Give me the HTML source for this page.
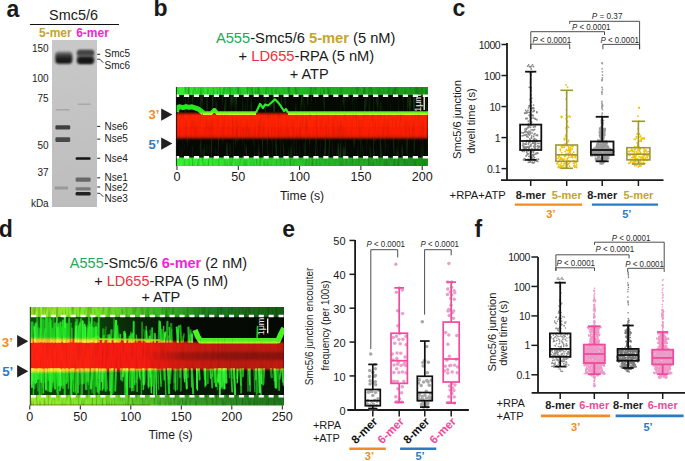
<!DOCTYPE html>
<html><head><meta charset="utf-8"><style>
html,body{margin:0;padding:0;background:#fff;overflow:hidden;width:685px;height:461px;}
svg{display:block;font-family:"Liberation Sans", sans-serif;}
</style></head><body>
<svg width="685" height="461" viewBox="0 0 685 461">
<defs><filter id="gblur" x="-20%" y="-50%" width="140%" height="200%"><feGaussianBlur stdDeviation="0.9 0.7"/></filter>
<filter id="gblur2" x="-20%" y="-50%" width="140%" height="200%"><feGaussianBlur stdDeviation="1.2 1.0"/></filter>
<linearGradient id="gelg" x1="0" y1="0" x2="0" y2="1"><stop offset="0" stop-color="#c9c9c9"/><stop offset="0.5" stop-color="#c3c3c3"/><stop offset="1" stop-color="#bdbdbd"/></linearGradient>
<filter id="gnoise" x="0" y="0" width="100%" height="100%"><feTurbulence type="fractalNoise" baseFrequency="0.35 0.9" numOctaves="2" seed="3"/><feColorMatrix type="matrix" values="0 0 0 0 0.5  0 0 0 0 0.5  0 0 0 0 0.5  0 0 0 -0.9 0.55"/></filter><linearGradient id="blob1" x1="0" y1="0" x2="0" y2="1"><stop offset="0" stop-color="#8a8a8a"/><stop offset="0.25" stop-color="#4a4a4a"/><stop offset="0.55" stop-color="#1e1e1e"/><stop offset="1" stop-color="#151515"/></linearGradient>
<linearGradient id="blob2" x1="0" y1="0" x2="0" y2="1"><stop offset="0" stop-color="#6a6a6a"/><stop offset="0.3" stop-color="#3a3a3a"/><stop offset="0.7" stop-color="#444"/><stop offset="1" stop-color="#505050"/></linearGradient>
<filter id="bb" x="-20%" y="-60%" width="140%" height="220%"><feGaussianBlur stdDeviation="0.7 0.55"/></filter><filter id="bb2" x="-20%" y="-40%" width="140%" height="180%"><feGaussianBlur stdDeviation="1.0 0.8"/></filter><filter id="streakG" x="0" y="0" width="100%" height="100%"><feTurbulence type="fractalNoise" baseFrequency="0.45 0.035" numOctaves="2" seed="5"/><feColorMatrix type="matrix" values="0 0 0 0 0.1  0 0 0 0 0.9  0 0 0 0 0.1  0 2.2 0 0 -1.15"/></filter>
<filter id="streakR" x="0" y="0" width="100%" height="100%"><feTurbulence type="fractalNoise" baseFrequency="0.5 0.04" numOctaves="2" seed="9"/><feColorMatrix type="matrix" values="0 0 0 0 1  0 0 0 0 0.55  0 0 0 0 0  0 1.8 0 0 -0.95"/></filter>
<filter id="streakD" x="0" y="0" width="100%" height="100%"><feTurbulence type="fractalNoise" baseFrequency="0.5 0.05" numOctaves="2" seed="11"/><feColorMatrix type="matrix" values="0 0 0 0 0  0 0 0 0 0  0 0 0 0 0  0 1.6 0 0 -0.7"/></filter>
<filter id="soft" x="-5%" y="-50%" width="110%" height="200%"><feGaussianBlur stdDeviation="0.5"/></filter>
<filter id="soft1" x="-5%" y="-50%" width="110%" height="200%"><feGaussianBlur stdDeviation="0.9"/></filter>
<linearGradient id="gtopB" x1="0" y1="0" x2="1" y2="0"><stop offset="0" stop-color="#36f030"/><stop offset="0.2" stop-color="#2ada2a"/><stop offset="0.45" stop-color="#22be22"/><stop offset="0.75" stop-color="#1ea81e"/><stop offset="1" stop-color="#1a961a"/></linearGradient>
<linearGradient id="gbotB" x1="0" y1="0" x2="1" y2="0"><stop offset="0" stop-color="#38f430"/><stop offset="0.3" stop-color="#2ee02a"/><stop offset="0.6" stop-color="#24b824"/><stop offset="1" stop-color="#1c921c"/></linearGradient>
<clipPath id="clipB"><rect x="176" y="87" width="252" height="79"/></clipPath>
<clipPath id="clipD"><rect x="30" y="307" width="254" height="98.5"/></clipPath><linearGradient id="redB" x1="0" y1="0" x2="0" y2="1"><stop offset="0" stop-color="#ff1c06"/><stop offset="0.85" stop-color="#fa1806"/><stop offset="1" stop-color="#a01006"/></linearGradient><linearGradient id="gtopD" x1="0" y1="0" x2="1" y2="0"><stop offset="0" stop-color="#9cf030"/><stop offset="0.25" stop-color="#78e82c"/><stop offset="0.5" stop-color="#3cb826"/><stop offset="0.7" stop-color="#1f801b"/><stop offset="1" stop-color="#165e16"/></linearGradient>
<linearGradient id="gbotD" x1="0" y1="0" x2="1" y2="0"><stop offset="0" stop-color="#9cf030"/><stop offset="0.3" stop-color="#74e42c"/><stop offset="0.6" stop-color="#3aa426"/><stop offset="1" stop-color="#1e761c"/></linearGradient>
<linearGradient id="redD" x1="0" y1="0" x2="1" y2="0"><stop offset="0" stop-color="#ff1c0c"/><stop offset="0.45" stop-color="#f4180c"/><stop offset="0.6" stop-color="#d0160e"/><stop offset="0.8" stop-color="#b8120c"/><stop offset="1" stop-color="#c0140c"/></linearGradient>
<filter id="spikeG" x="0" y="0" width="100%" height="100%"><feTurbulence type="fractalNoise" baseFrequency="0.28 0.03" numOctaves="3" seed="21"/><feColorMatrix type="matrix" values="0 0 0 0 0.12  0 0 0 0 0.85  0 0 0 0 0.08  0 3.2 0 0 -1.25"/></filter><linearGradient id="glowU" x1="0" y1="0" x2="1" y2="0"><stop offset="0" stop-color="#1ed01e" stop-opacity="0.35"/><stop offset="0.25" stop-color="#1ed01e" stop-opacity="0.3"/><stop offset="0.45" stop-color="#1ab81a" stop-opacity="0.15"/><stop offset="0.62" stop-color="#18a018" stop-opacity="0.03"/><stop offset="1" stop-color="#18a018" stop-opacity="0.02"/></linearGradient>
<linearGradient id="glowL" x1="0" y1="0" x2="1" y2="0"><stop offset="0" stop-color="#1ed01e" stop-opacity="0.32"/><stop offset="0.3" stop-color="#1ec81e" stop-opacity="0.25"/><stop offset="0.6" stop-color="#18a818" stop-opacity="0.12"/><stop offset="1" stop-color="#18a018" stop-opacity="0.08"/></linearGradient><linearGradient id="dstripe" x1="0" y1="0" x2="1" y2="0"><stop offset="0" stop-color="#000" stop-opacity="0"/><stop offset="0.45" stop-color="#000" stop-opacity="0"/><stop offset="0.6" stop-color="#000" stop-opacity="0.2"/><stop offset="1" stop-color="#000" stop-opacity="0.28"/></linearGradient></defs>
<rect width="685" height="461" fill="#fff"/>
<text x="6.6" y="16.6" font-size="23" fill="#1a1a1a" font-weight="700" text-anchor="start"  style="">a</text>
<text x="153.5" y="16.3" font-size="23" fill="#1a1a1a" font-weight="700" text-anchor="start"  style="">b</text>
<text x="452.5" y="16.3" font-size="23" fill="#1a1a1a" font-weight="700" text-anchor="start"  style="">c</text>
<text x="-1.2" y="236.5" font-size="23" fill="#1a1a1a" font-weight="700" text-anchor="start"  style="">d</text>
<text x="282.3" y="236.5" font-size="23" fill="#1a1a1a" font-weight="700" text-anchor="start"  style="">e</text>
<text x="474.6" y="236.5" font-size="23" fill="#1a1a1a" font-weight="700" text-anchor="start"  style="">f</text>
<text x="73.5" y="19.6" font-size="14.4" fill="#1a1a1a" font-weight="400" text-anchor="middle"  style="">Smc5/6</text>
<line x1="30" y1="24.5" x2="119" y2="24.5" stroke="#111" stroke-width="1.1" />
<text x="39" y="37" font-size="12" fill="#c4a52a" font-weight="700" text-anchor="start"  style="">5-mer</text>
<text x="76.2" y="37" font-size="12" fill="#f41fd6" font-weight="700" text-anchor="start"  style="">6-mer</text>
<rect x="52" y="40" width="45" height="167" fill="url(#gelg)" />
<rect x="52" y="40" width="45" height="167" fill="#000" filter="url(#gnoise)" opacity="0.35"/>
<rect x="55.3" y="51.5" width="17.0" height="12.2" rx="3.5" fill="url(#blob1)" filter="url(#bb2)"/>
<rect x="77.4" y="50.0" width="16.4" height="13.6" rx="3" fill="#6a6a6a" filter="url(#bb2)"/>
<rect x="77.2" y="50.0" width="16.6" height="5.4" rx="2" fill="url(#blob2)" filter="url(#bb2)"/>
<rect x="77.2" y="56.9" width="16.6" height="7.0" rx="3" fill="#161616" filter="url(#bb2)"/>
<rect x="55.5" y="109.0" width="14.5" height="1.6" rx="1.2" fill="#a6a6a6" filter="url(#bb)"/>
<rect x="77.5" y="103.55" width="13.5" height="1.5" rx="1.2" fill="#a8a8a8" filter="url(#bb)"/>
<rect x="55.4" y="125.2" width="14.8" height="4.2" rx="1.2" fill="#404040" filter="url(#bb)"/>
<rect x="55.4" y="137.2" width="14.8" height="4.8" rx="1.2" fill="#4a4a4a" filter="url(#bb)"/>
<rect x="75.6" y="157.15" width="15" height="2.7" rx="1.2" fill="#141414" filter="url(#bb)"/>
<rect x="75.6" y="177.4" width="15" height="4.4" rx="1.2" fill="#676767" filter="url(#bb)"/>
<rect x="75.6" y="187.15" width="15" height="3.3" rx="1.2" fill="#7a7a7a" filter="url(#bb)"/>
<rect x="75.6" y="192.10000000000002" width="15" height="3.4" rx="1.2" fill="#222" filter="url(#bb)"/>
<rect x="54.6" y="186.6" width="13.6" height="3.0" rx="1.2" fill="#9a9a9a" filter="url(#bb)"/>
<text x="48.7" y="51.6" font-size="10" fill="#1a1a1a" font-weight="400" text-anchor="end"  style="">150</text>
<text x="48.7" y="81.9" font-size="10" fill="#1a1a1a" font-weight="400" text-anchor="end"  style="">100</text>
<text x="48.7" y="101.9" font-size="10" fill="#1a1a1a" font-weight="400" text-anchor="end"  style="">75</text>
<text x="48.7" y="149.4" font-size="10" fill="#1a1a1a" font-weight="400" text-anchor="end"  style="">50</text>
<text x="48.7" y="175.8" font-size="10" fill="#1a1a1a" font-weight="400" text-anchor="end"  style="">37</text>
<text x="48.7" y="207.4" font-size="10" fill="#1a1a1a" font-weight="400" text-anchor="end"  style="">kDa</text>
<text x="104.5" y="56.6" font-size="10" fill="#1a1a1a" font-weight="400" text-anchor="start"  style="">Smc5</text>
<text x="104.5" y="68.6" font-size="10" fill="#1a1a1a" font-weight="400" text-anchor="start"  style="">Smc6</text>
<text x="104.5" y="129.8" font-size="10" fill="#1a1a1a" font-weight="400" text-anchor="start"  style="">Nse6</text>
<text x="104.5" y="142.4" font-size="10" fill="#1a1a1a" font-weight="400" text-anchor="start"  style="">Nse5</text>
<text x="104.5" y="162" font-size="10" fill="#1a1a1a" font-weight="400" text-anchor="start"  style="">Nse4</text>
<text x="104.5" y="181" font-size="10" fill="#1a1a1a" font-weight="400" text-anchor="start"  style="">Nse1</text>
<text x="104.5" y="190.6" font-size="10" fill="#1a1a1a" font-weight="400" text-anchor="start"  style="">Nse2</text>
<text x="104.5" y="201.9" font-size="10" fill="#1a1a1a" font-weight="400" text-anchor="start"  style="">Nse3</text>
<line x1="97.2" y1="54.3" x2="100.2" y2="54.3" stroke="#333" stroke-width="1.1" />
<line x1="97.2" y1="126.4" x2="100.2" y2="126.4" stroke="#333" stroke-width="1.1" />
<line x1="97.2" y1="139.1" x2="100.2" y2="139.1" stroke="#333" stroke-width="1.1" />
<line x1="97.2" y1="158.3" x2="100.2" y2="158.3" stroke="#333" stroke-width="1.1" />
<line x1="97.2" y1="177.8" x2="100.2" y2="177.8" stroke="#333" stroke-width="1.1" />
<line x1="97.2" y1="187" x2="100.2" y2="187" stroke="#333" stroke-width="1.1" />
<path d="M97.2 59.2 L100 59.3 L103.3 62.8" stroke="#333" stroke-width="1.0" fill="none" />
<path d="M97.2 193.2 L100 193.4 L103.3 196.8" stroke="#333" stroke-width="1.0" fill="none" />
<text x="305.7" y="43.3" font-size="14.7" fill="#1a1a1a" font-weight="400" text-anchor="middle"  style=""><tspan fill="#21a956">A555</tspan>-Smc5/6 <tspan fill="#c4a52a" font-weight="700">5-mer</tspan> (5 nM)</text>
<text x="306.4" y="61.3" font-size="14.7" fill="#1a1a1a" font-weight="400" text-anchor="middle"  style="">+ <tspan fill="#e8323c">LD655</tspan>-RPA (5 nM)</text>
<text x="309.2" y="78.8" font-size="14.5" fill="#1a1a1a" font-weight="400" text-anchor="middle"  style="">+ ATP</text>
<g clip-path="url(#clipB)">
<rect x="176" y="87" width="252" height="79" fill="#060803" />
<rect x="176" y="87" width="252" height="25" fill="#000" filter="url(#streakG)" opacity="0.3"/>
<rect x="176" y="139" width="252" height="27" fill="#000" filter="url(#streakG)" opacity="0.3"/>
<rect x="176" y="86" width="252" height="9" fill="url(#gtopB)" />
<rect x="176" y="86" width="252" height="9" fill="#000" filter="url(#streakD)" opacity="0.45"/>
<rect x="176" y="157.5" width="252" height="9" fill="url(#gbotB)" />
<rect x="176" y="157.5" width="252" height="9" fill="#000" filter="url(#streakD)" opacity="0.4"/>
<path d="M203 113.2 L211 113.2 L214.4 109.8 L217.5 113.2 L256 113.2 M288 113.2 L428 113.2" stroke="#38f020" stroke-width="3.8" fill="none" filter="url(#soft)"/>
<path d="M176.5 112 L177.5 107.4 L180 106.8 L183 107.6 L186 106.6 L189 107.4 L192 106.8 L195 107.8 L198 108.8 L201 111 L203.5 113" stroke="#26e622" stroke-width="5.0" fill="none" filter="url(#soft)" stroke-linejoin="round"/>
<path d="M256 112.6 L260 104 L263 108 L265 104.5 L268 105.5 L271 103 L275 99.3 L279 103.5 L284 111 L286 109 L288 112.6" stroke="#2bea2b" stroke-width="2.2" fill="none" filter="url(#soft)" stroke-linejoin="round"/>
<g style="mix-blend-mode:screen">
<rect x="176" y="113.4" width="252" height="25.4" fill="url(#redB)" filter="url(#soft1)"/>
</g>
<rect x="176" y="114" width="252" height="25" fill="#000" filter="url(#streakD)" opacity="0.18"/>
<line x1="176" y1="95.7" x2="428" y2="95.7" stroke="#fff" stroke-width="2.6" stroke-dasharray="5.2 4.75" stroke-dashoffset="2"/>
<line x1="176" y1="157.2" x2="428" y2="157.2" stroke="#fff" stroke-width="2.6" stroke-dasharray="5.2 4.75" stroke-dashoffset="2"/>
</g>
<line x1="176.4" y1="87" x2="176.4" y2="166" stroke="#111" stroke-width="0.8" />
<line x1="424.2" y1="95" x2="424.2" y2="110" stroke="#fff" stroke-width="1.3" />
<text x="0" y="0" font-size="9" fill="#f0f0f0" font-weight="400" text-anchor="middle" transform="translate(421.2 103) rotate(-90)" style="">1μm</text>
<path d="M161.2 108.39999999999999 L172.39999999999998 114.6 L161.2 120.8 Z" stroke="none" stroke-width="0" fill="#231f20" />
<path d="M161.2 137.4 L172.39999999999998 143.6 L161.2 149.79999999999998 Z" stroke="none" stroke-width="0" fill="#231f20" />
<text x="148.6" y="119.3" font-size="13" fill="#f08c23" font-weight="700" text-anchor="start"  style="">3’</text>
<text x="148.6" y="148.6" font-size="13" fill="#2b7bc4" font-weight="700" text-anchor="start"  style="">5’</text>
<line x1="177.0" y1="166" x2="177.0" y2="170" stroke="#1a1a1a" stroke-width="1" />
<text x="177.0" y="181.3" font-size="12.6" fill="#1a1a1a" font-weight="400" text-anchor="middle"  style="">0</text>
<line x1="238.3" y1="166" x2="238.3" y2="170" stroke="#1a1a1a" stroke-width="1" />
<text x="238.3" y="181.3" font-size="12.6" fill="#1a1a1a" font-weight="400" text-anchor="middle"  style="">50</text>
<line x1="299.6" y1="166" x2="299.6" y2="170" stroke="#1a1a1a" stroke-width="1" />
<text x="299.6" y="181.3" font-size="12.6" fill="#1a1a1a" font-weight="400" text-anchor="middle"  style="">100</text>
<line x1="360.9" y1="166" x2="360.9" y2="170" stroke="#1a1a1a" stroke-width="1" />
<text x="360.9" y="181.3" font-size="12.6" fill="#1a1a1a" font-weight="400" text-anchor="middle"  style="">150</text>
<line x1="422.2" y1="166" x2="422.2" y2="170" stroke="#1a1a1a" stroke-width="1" />
<text x="422.2" y="181.3" font-size="12.6" fill="#1a1a1a" font-weight="400" text-anchor="middle"  style="">200</text>
<text x="302" y="200.3" font-size="12.2" fill="#1a1a1a" font-weight="400" text-anchor="middle"  style="">Time (s)</text>
<text x="158.5" y="268" font-size="14.5" fill="#1a1a1a" font-weight="400" text-anchor="middle"  style=""><tspan fill="#21a956">A555</tspan>-Smc5/6 <tspan fill="#f41fd6" font-weight="700">6-mer</tspan> (2 nM)</text>
<text x="161.2" y="285.5" font-size="14.5" fill="#1a1a1a" font-weight="400" text-anchor="middle"  style="">+ <tspan fill="#e8323c">LD655</tspan>-RPA (5 nM)</text>
<text x="160.8" y="302.4" font-size="14.5" fill="#1a1a1a" font-weight="400" text-anchor="middle"  style="">+ ATP</text>
<g clip-path="url(#clipD)">
<rect x="30" y="307" width="254" height="98.5" fill="#050604" />
<rect x="30" y="317" width="254" height="23" fill="url(#glowU)" />
<rect x="30" y="371" width="254" height="25" fill="url(#glowL)" />
<g filter="url(#soft)" stroke-linecap="round"><path d="M30.0 341.8 L30.0 322.8" stroke="#22e822" stroke-width="2.5" opacity="0.66"/><path d="M31.0 341.8 L30.0 322.2" stroke="#3cfa3c" stroke-width="2.1" opacity="0.84"/><path d="M32.0 341.8 L32.2 322.5" stroke="#20d820" stroke-width="2.4" opacity="0.75"/><path d="M34.0 341.8 L34.1 323.6" stroke="#2cf42c" stroke-width="1.4" opacity="0.41"/><path d="M35.0 341.8 L34.6 327.3" stroke="#22e822" stroke-width="2.0" opacity="0.83"/><path d="M36.0 341.8 L35.9 324.0" stroke="#3cfa3c" stroke-width="1.9" opacity="0.76"/><path d="M37.0 341.8 L36.4 322.7" stroke="#22e822" stroke-width="2.5" opacity="0.45"/><path d="M38.0 341.8 L37.1 315.4" stroke="#3cfa3c" stroke-width="2.0" opacity="0.46"/><path d="M39.0 341.8 L38.3 328.4" stroke="#2cf42c" stroke-width="2.4" opacity="0.40"/><path d="M40.0 341.8 L40.3 328.7" stroke="#3cfa3c" stroke-width="1.8" opacity="0.44"/><path d="M41.0 341.8 L42.0 319.4" stroke="#22e822" stroke-width="1.2" opacity="0.63"/><path d="M42.0 341.8 L41.2 316.4" stroke="#22e822" stroke-width="1.3" opacity="0.84"/><path d="M43.0 341.8 L43.3 317.7" stroke="#2cf42c" stroke-width="2.2" opacity="0.47"/><path d="M44.0 341.8 L45.1 328.9" stroke="#3cfa3c" stroke-width="1.2" opacity="0.88"/><path d="M46.0 341.8 L46.2 317.6" stroke="#2cf42c" stroke-width="2.6" opacity="0.73"/><path d="M48.0 341.8 L47.5 318.6" stroke="#2cf42c" stroke-width="2.3" opacity="0.58"/><path d="M49.0 341.8 L48.7 317.9" stroke="#20d820" stroke-width="2.1" opacity="0.41"/><path d="M50.0 341.8 L49.7 323.2" stroke="#22e822" stroke-width="2.4" opacity="0.47"/><path d="M51.0 341.8 L50.2 318.2" stroke="#22e822" stroke-width="2.1" opacity="0.80"/><path d="M52.0 341.8 L50.9 320.4" stroke="#2cf42c" stroke-width="1.9" opacity="0.44"/><path d="M53.0 341.8 L52.4 328.5" stroke="#20d820" stroke-width="1.5" opacity="0.79"/><path d="M54.0 341.8 L53.3 317.5" stroke="#2cf42c" stroke-width="2.2" opacity="0.44"/><path d="M55.0 341.8 L54.4 327.8" stroke="#20d820" stroke-width="1.5" opacity="0.41"/><path d="M56.0 341.8 L57.1 315.7" stroke="#2cf42c" stroke-width="1.6" opacity="0.69"/><path d="M57.0 341.8 L57.5 327.5" stroke="#22e822" stroke-width="2.6" opacity="0.76"/><path d="M58.0 341.8 L57.5 327.9" stroke="#2cf42c" stroke-width="1.9" opacity="0.60"/><path d="M59.0 341.8 L58.6 323.9" stroke="#2cf42c" stroke-width="1.9" opacity="0.80"/><path d="M60.0 341.8 L60.6 322.6" stroke="#22e822" stroke-width="2.2" opacity="0.90"/><path d="M61.0 341.8 L62.0 327.8" stroke="#20d820" stroke-width="1.7" opacity="0.78"/><path d="M63.0 341.8 L62.7 322.0" stroke="#2cf42c" stroke-width="1.2" opacity="0.76"/><path d="M64.0 341.8 L64.9 316.1" stroke="#3cfa3c" stroke-width="2.1" opacity="0.95"/><path d="M65.0 341.8 L65.8 325.3" stroke="#2cf42c" stroke-width="2.0" opacity="0.64"/><path d="M66.0 341.8 L64.9 322.2" stroke="#2cf42c" stroke-width="1.6" opacity="0.45"/><path d="M67.0 341.8 L65.8 323.6" stroke="#3cfa3c" stroke-width="2.5" opacity="0.54"/><path d="M68.0 341.8 L67.6 323.6" stroke="#20d820" stroke-width="1.9" opacity="0.81"/><path d="M69.0 341.8 L69.3 318.4" stroke="#22e822" stroke-width="1.8" opacity="0.54"/><path d="M71.0 341.8 L71.0 323.2" stroke="#2cf42c" stroke-width="1.6" opacity="0.47"/><path d="M72.0 341.8 L71.9 328.3" stroke="#3cfa3c" stroke-width="1.6" opacity="0.49"/><path d="M75.0 341.8 L75.8 322.3" stroke="#20d820" stroke-width="2.1" opacity="0.79"/><path d="M76.0 341.8 L76.4 326.6" stroke="#3cfa3c" stroke-width="1.6" opacity="0.73"/><path d="M77.0 341.8 L76.1 319.3" stroke="#20d820" stroke-width="2.3" opacity="0.41"/><path d="M78.0 341.8 L78.7 325.8" stroke="#2cf42c" stroke-width="1.6" opacity="0.83"/><path d="M79.0 341.8 L80.1 323.8" stroke="#22e822" stroke-width="2.1" opacity="0.84"/><path d="M80.0 341.8 L79.9 321.7" stroke="#2cf42c" stroke-width="1.5" opacity="0.41"/><path d="M81.0 341.8 L81.0 318.8" stroke="#22e822" stroke-width="1.7" opacity="0.78"/><path d="M82.0 341.8 L83.0 326.1" stroke="#20d820" stroke-width="2.5" opacity="0.45"/><path d="M83.0 341.8 L82.7 321.3" stroke="#3cfa3c" stroke-width="2.1" opacity="0.90"/><path d="M84.0 341.8 L84.8 324.1" stroke="#2cf42c" stroke-width="1.5" opacity="0.80"/><path d="M85.0 341.8 L85.1 327.6" stroke="#3cfa3c" stroke-width="2.6" opacity="0.94"/><path d="M86.0 341.8 L84.9 325.1" stroke="#3cfa3c" stroke-width="1.2" opacity="0.68"/><path d="M87.0 341.8 L87.7 325.8" stroke="#2cf42c" stroke-width="1.9" opacity="0.42"/><path d="M88.0 341.8 L89.0 315.5" stroke="#20d820" stroke-width="1.9" opacity="0.78"/><path d="M89.0 341.8 L89.5 322.2" stroke="#20d820" stroke-width="2.2" opacity="0.86"/><path d="M90.0 341.8 L90.1 324.6" stroke="#22e822" stroke-width="2.3" opacity="0.64"/><path d="M91.0 341.8 L90.7 326.8" stroke="#22e822" stroke-width="2.0" opacity="0.57"/><path d="M92.0 341.8 L92.0 317.0" stroke="#20d820" stroke-width="2.0" opacity="0.55"/><path d="M93.0 341.8 L94.1 322.0" stroke="#20d820" stroke-width="2.0" opacity="0.42"/><path d="M94.0 341.8 L93.2 328.9" stroke="#20d820" stroke-width="1.4" opacity="0.45"/><path d="M95.0 341.8 L94.9 328.4" stroke="#22e822" stroke-width="2.5" opacity="0.55"/><path d="M96.0 341.8 L96.1 327.6" stroke="#2cf42c" stroke-width="2.5" opacity="0.91"/><path d="M97.0 341.8 L97.7 323.7" stroke="#2cf42c" stroke-width="2.5" opacity="0.47"/><path d="M98.0 341.8 L98.5 317.2" stroke="#22e822" stroke-width="1.2" opacity="0.56"/><path d="M99.0 341.8 L99.0 316.5" stroke="#3cfa3c" stroke-width="2.2" opacity="0.47"/><path d="M103.0 341.8 L103.9 335.9" stroke="#22e822" stroke-width="2.1" opacity="0.70"/><path d="M108.0 341.8 L107.6 335.7" stroke="#22e822" stroke-width="2.5" opacity="0.57"/><path d="M109.0 341.8 L109.5 336.7" stroke="#3cfa3c" stroke-width="1.4" opacity="0.53"/><path d="M110.0 341.8 L109.3 334.9" stroke="#2cf42c" stroke-width="2.0" opacity="0.79"/><path d="M111.0 341.8 L111.5 330.3" stroke="#3cfa3c" stroke-width="2.3" opacity="0.60"/><path d="M114.0 341.8 L114.0 319.0" stroke="#20d820" stroke-width="1.3" opacity="0.70"/><path d="M115.0 341.8 L116.0 320.9" stroke="#2cf42c" stroke-width="2.4" opacity="0.94"/><path d="M117.0 341.8 L116.8 326.9" stroke="#3cfa3c" stroke-width="1.3" opacity="0.61"/><path d="M118.0 341.8 L117.2 326.2" stroke="#20d820" stroke-width="2.2" opacity="0.86"/><path d="M119.0 341.8 L119.7 334.5" stroke="#3cfa3c" stroke-width="2.0" opacity="0.45"/><path d="M125.0 341.8 L124.4 332.1" stroke="#2cf42c" stroke-width="2.6" opacity="0.84"/><path d="M129.0 341.8 L129.6 336.6" stroke="#20d820" stroke-width="2.2" opacity="0.82"/><path d="M130.0 341.8 L130.9 332.1" stroke="#2cf42c" stroke-width="1.6" opacity="0.46"/><path d="M131.0 341.8 L131.2 334.0" stroke="#2cf42c" stroke-width="1.7" opacity="0.76"/><path d="M132.0 341.8 L133.2 333.7" stroke="#2cf42c" stroke-width="2.2" opacity="0.82"/><path d="M133.0 341.8 L133.6 321.5" stroke="#20d820" stroke-width="1.8" opacity="0.68"/><path d="M134.0 341.8 L133.8 322.2" stroke="#2cf42c" stroke-width="1.7" opacity="0.70"/><path d="M137.0 341.8 L136.2 335.1" stroke="#20d820" stroke-width="1.3" opacity="0.91"/><path d="M142.0 341.8 L142.1 322.4" stroke="#20d820" stroke-width="1.8" opacity="0.57"/><path d="M145.0 341.8 L143.9 329.6" stroke="#22e822" stroke-width="1.2" opacity="0.53"/><path d="M146.0 341.8 L146.2 326.6" stroke="#3cfa3c" stroke-width="1.6" opacity="0.62"/><path d="M147.0 341.8 L146.4 331.2" stroke="#2cf42c" stroke-width="1.9" opacity="0.94"/><path d="M150.0 341.8 L150.3 335.8" stroke="#20d820" stroke-width="2.0" opacity="0.46"/><path d="M151.0 341.8 L150.1 330.3" stroke="#20d820" stroke-width="1.4" opacity="0.60"/><path d="M152.0 341.8 L152.1 328.1" stroke="#22e822" stroke-width="1.8" opacity="0.83"/><path d="M155.0 341.8 L154.7 334.0" stroke="#3cfa3c" stroke-width="2.3" opacity="0.74"/><path d="M159.0 341.8 L159.4 321.5" stroke="#22e822" stroke-width="2.5" opacity="0.68"/><path d="M161.0 341.8 L160.0 322.1" stroke="#3cfa3c" stroke-width="1.8" opacity="0.74"/><path d="M162.0 341.8 L161.7 329.8" stroke="#20d820" stroke-width="2.0" opacity="0.75"/><path d="M163.0 341.8 L163.7 326.4" stroke="#20d820" stroke-width="1.4" opacity="0.88"/><path d="M167.0 341.8 L167.4 321.9" stroke="#3cfa3c" stroke-width="2.3" opacity="0.60"/><path d="M168.0 341.8 L168.2 335.9" stroke="#20d820" stroke-width="1.5" opacity="0.76"/><path d="M170.0 341.8 L169.5 327.7" stroke="#2cf42c" stroke-width="1.9" opacity="0.78"/><path d="M171.0 341.8 L171.5 329.6" stroke="#3cfa3c" stroke-width="1.3" opacity="0.57"/><path d="M172.0 341.8 L171.1 323.8" stroke="#20d820" stroke-width="2.2" opacity="0.60"/><path d="M177.0 341.8 L178.0 329.7" stroke="#22e822" stroke-width="1.6" opacity="0.62"/><path d="M178.0 341.8 L178.7 326.3" stroke="#3cfa3c" stroke-width="2.1" opacity="0.72"/><path d="M183.0 341.8 L183.0 336.6" stroke="#22e822" stroke-width="1.6" opacity="0.41"/><path d="M188.0 341.8 L188.6 335.5" stroke="#3cfa3c" stroke-width="1.3" opacity="0.44"/><path d="M189.0 341.8 L188.4 327.7" stroke="#22e822" stroke-width="2.2" opacity="0.76"/><path d="M190.0 341.8 L190.7 330.1" stroke="#3cfa3c" stroke-width="1.8" opacity="0.59"/><path d="M192.0 341.8 L191.8 334.7" stroke="#3cfa3c" stroke-width="2.2" opacity="0.90"/><path d="M257.0 341.8 L257.5 326.5" stroke="#22e822" stroke-width="1.7" opacity="0.84"/></g>
<g filter="url(#soft)" stroke-linecap="round"><path d="M30.0 341.8 L29.9 317.7" stroke="#2cf42c" stroke-width="2.2" opacity="0.83"/><path d="M35.1 341.8 L34.1 326.6" stroke="#3cfa3c" stroke-width="1.6" opacity="0.57"/><path d="M40.2 341.8 L40.6 316.0" stroke="#2cf42c" stroke-width="1.4" opacity="0.77"/><path d="M43.6 341.8 L43.8 320.3" stroke="#20d820" stroke-width="2.2" opacity="0.53"/><path d="M53.8 341.8 L54.9 323.8" stroke="#20d820" stroke-width="2.5" opacity="0.81"/><path d="M57.2 341.8 L56.7 317.6" stroke="#3cfa3c" stroke-width="1.7" opacity="0.46"/><path d="M62.3 341.8 L61.3 326.6" stroke="#22e822" stroke-width="1.3" opacity="0.48"/><path d="M64.0 341.8 L63.0 320.6" stroke="#22e822" stroke-width="2.4" opacity="0.73"/><path d="M65.7 341.8 L65.3 328.8" stroke="#20d820" stroke-width="1.8" opacity="0.82"/><path d="M69.1 341.8 L69.1 317.9" stroke="#20d820" stroke-width="1.4" opacity="0.78"/><path d="M75.9 341.8 L76.0 326.0" stroke="#3cfa3c" stroke-width="1.5" opacity="0.94"/><path d="M77.6 341.8 L77.3 319.8" stroke="#3cfa3c" stroke-width="2.1" opacity="0.46"/><path d="M84.4 341.8 L84.0 325.7" stroke="#22e822" stroke-width="2.5" opacity="0.70"/><path d="M87.8 341.8 L88.8 328.1" stroke="#2cf42c" stroke-width="2.6" opacity="0.79"/><path d="M91.2 341.8 L91.7 316.2" stroke="#3cfa3c" stroke-width="1.5" opacity="0.72"/><path d="M92.9 341.8 L92.8 327.2" stroke="#22e822" stroke-width="1.6" opacity="0.89"/><path d="M94.6 341.8 L95.6 323.0" stroke="#22e822" stroke-width="2.0" opacity="0.43"/><path d="M103.1 341.8 L103.3 329.5" stroke="#22e822" stroke-width="2.5" opacity="0.53"/><path d="M104.8 341.8 L106.0 326.9" stroke="#22e822" stroke-width="1.2" opacity="0.50"/><path d="M116.7 341.8 L116.9 325.9" stroke="#22e822" stroke-width="1.4" opacity="0.61"/><path d="M120.1 341.8 L120.6 334.7" stroke="#22e822" stroke-width="1.3" opacity="0.83"/><path d="M125.2 341.8 L125.0 334.0" stroke="#3cfa3c" stroke-width="2.5" opacity="0.71"/><path d="M149.0 341.8 L149.6 336.8" stroke="#3cfa3c" stroke-width="2.2" opacity="0.73"/><path d="M164.3 341.8 L165.2 332.5" stroke="#3cfa3c" stroke-width="2.1" opacity="0.92"/><path d="M177.9 341.8 L176.7 327.5" stroke="#22e822" stroke-width="2.0" opacity="0.92"/><path d="M181.3 341.8 L180.4 325.4" stroke="#22e822" stroke-width="1.8" opacity="0.69"/><path d="M183.0 341.8 L184.0 334.1" stroke="#20d820" stroke-width="1.6" opacity="0.67"/><path d="M191.5 341.8 L191.8 333.3" stroke="#22e822" stroke-width="2.5" opacity="0.41"/></g>
<g filter="url(#soft)" stroke-linecap="round"><path d="M32.0 369.2 L31.5 383.8" stroke="#20d820" stroke-width="2.3" opacity="0.93"/><path d="M33.0 369.2 L32.9 380.6" stroke="#2cf42c" stroke-width="2.2" opacity="0.92"/><path d="M34.0 369.2 L33.4 394.4" stroke="#22e822" stroke-width="1.4" opacity="0.78"/><path d="M35.0 369.2 L35.1 383.6" stroke="#2cf42c" stroke-width="1.6" opacity="0.84"/><path d="M36.0 369.2 L36.4 382.4" stroke="#3cfa3c" stroke-width="1.6" opacity="0.91"/><path d="M37.0 369.2 L38.0 390.7" stroke="#2cf42c" stroke-width="1.8" opacity="0.44"/><path d="M38.0 369.2 L37.4 378.9" stroke="#2cf42c" stroke-width="2.0" opacity="0.56"/><path d="M39.0 369.2 L39.6 396.8" stroke="#2cf42c" stroke-width="1.5" opacity="0.50"/><path d="M40.0 369.2 L39.9 395.0" stroke="#20d820" stroke-width="2.6" opacity="0.42"/><path d="M41.0 369.2 L41.7 394.9" stroke="#3cfa3c" stroke-width="1.3" opacity="0.44"/><path d="M42.0 369.2 L42.8 387.2" stroke="#22e822" stroke-width="1.2" opacity="0.56"/><path d="M43.0 369.2 L43.4 392.7" stroke="#3cfa3c" stroke-width="1.4" opacity="0.64"/><path d="M44.0 369.2 L43.3 393.0" stroke="#20d820" stroke-width="1.5" opacity="0.67"/><path d="M45.0 369.2 L44.9 381.8" stroke="#22e822" stroke-width="2.6" opacity="0.43"/><path d="M46.0 369.2 L46.0 389.6" stroke="#3cfa3c" stroke-width="2.1" opacity="0.84"/><path d="M48.0 369.2 L48.2 380.2" stroke="#22e822" stroke-width="1.4" opacity="0.75"/><path d="M49.0 369.2 L49.8 379.0" stroke="#3cfa3c" stroke-width="1.8" opacity="0.78"/><path d="M50.0 369.2 L49.7 387.5" stroke="#22e822" stroke-width="2.1" opacity="0.68"/><path d="M51.0 369.2 L49.9 391.1" stroke="#20d820" stroke-width="2.4" opacity="0.83"/><path d="M52.0 369.2 L51.1 391.3" stroke="#22e822" stroke-width="2.2" opacity="0.93"/><path d="M53.0 369.2 L52.4 386.7" stroke="#22e822" stroke-width="2.2" opacity="0.42"/><path d="M54.0 369.2 L55.1 388.6" stroke="#22e822" stroke-width="1.9" opacity="0.91"/><path d="M55.0 369.2 L54.0 380.3" stroke="#22e822" stroke-width="2.4" opacity="0.63"/><path d="M56.0 369.2 L54.9 384.4" stroke="#20d820" stroke-width="2.6" opacity="0.74"/><path d="M57.0 369.2 L58.0 396.9" stroke="#22e822" stroke-width="2.2" opacity="0.71"/><path d="M58.0 369.2 L58.7 385.5" stroke="#22e822" stroke-width="2.4" opacity="0.61"/><path d="M59.0 369.2 L59.0 382.7" stroke="#20d820" stroke-width="2.3" opacity="0.84"/><path d="M60.0 369.2 L61.2 386.9" stroke="#22e822" stroke-width="1.6" opacity="0.65"/><path d="M62.0 369.2 L61.7 385.3" stroke="#3cfa3c" stroke-width="1.3" opacity="0.78"/><path d="M63.0 369.2 L63.2 387.9" stroke="#22e822" stroke-width="2.2" opacity="0.68"/><path d="M64.0 369.2 L63.7 384.9" stroke="#22e822" stroke-width="1.4" opacity="0.92"/><path d="M65.0 369.2 L64.7 395.2" stroke="#2cf42c" stroke-width="1.2" opacity="0.58"/><path d="M67.0 369.2 L66.5 382.9" stroke="#22e822" stroke-width="2.4" opacity="0.77"/><path d="M68.0 369.2 L67.3 381.6" stroke="#20d820" stroke-width="1.9" opacity="0.47"/><path d="M69.0 369.2 L68.4 388.3" stroke="#20d820" stroke-width="1.4" opacity="0.79"/><path d="M70.0 369.2 L70.5 380.8" stroke="#20d820" stroke-width="1.5" opacity="0.55"/><path d="M71.0 369.2 L70.7 387.8" stroke="#22e822" stroke-width="1.7" opacity="0.46"/><path d="M72.0 369.2 L70.8 394.1" stroke="#3cfa3c" stroke-width="2.2" opacity="0.67"/><path d="M73.0 369.2 L72.6 379.3" stroke="#2cf42c" stroke-width="2.4" opacity="0.71"/><path d="M76.0 369.2 L75.7 390.0" stroke="#2cf42c" stroke-width="1.3" opacity="0.64"/><path d="M77.0 369.2 L76.3 395.7" stroke="#20d820" stroke-width="1.6" opacity="0.79"/><path d="M78.0 369.2 L78.0 392.6" stroke="#3cfa3c" stroke-width="1.7" opacity="0.79"/><path d="M81.0 369.2 L82.0 382.9" stroke="#20d820" stroke-width="2.4" opacity="0.57"/><path d="M82.0 369.2 L81.7 395.3" stroke="#3cfa3c" stroke-width="2.5" opacity="0.55"/><path d="M83.0 369.2 L82.6 384.2" stroke="#3cfa3c" stroke-width="1.6" opacity="0.41"/><path d="M84.0 369.2 L83.9 383.0" stroke="#3cfa3c" stroke-width="2.1" opacity="0.50"/><path d="M86.0 369.2 L86.3 388.9" stroke="#20d820" stroke-width="2.5" opacity="0.82"/><path d="M87.0 369.2 L86.9 379.2" stroke="#20d820" stroke-width="1.3" opacity="0.66"/><path d="M88.0 369.2 L87.7 380.6" stroke="#2cf42c" stroke-width="1.9" opacity="0.57"/><path d="M89.0 369.2 L88.4 381.7" stroke="#2cf42c" stroke-width="1.5" opacity="0.77"/><path d="M92.0 369.2 L91.0 388.4" stroke="#3cfa3c" stroke-width="2.4" opacity="0.82"/><path d="M93.0 369.2 L92.3 380.0" stroke="#20d820" stroke-width="1.2" opacity="0.84"/><path d="M94.0 369.2 L94.3 396.3" stroke="#20d820" stroke-width="2.4" opacity="0.49"/><path d="M96.0 369.2 L96.0 385.9" stroke="#22e822" stroke-width="1.7" opacity="0.77"/><path d="M97.0 369.2 L97.9 391.4" stroke="#2cf42c" stroke-width="2.5" opacity="0.81"/><path d="M100.0 369.2 L98.9 393.8" stroke="#20d820" stroke-width="1.9" opacity="0.77"/><path d="M102.0 369.2 L101.7 381.3" stroke="#3cfa3c" stroke-width="1.9" opacity="0.84"/><path d="M103.0 369.2 L102.3 390.3" stroke="#22e822" stroke-width="1.5" opacity="0.87"/><path d="M105.0 369.2 L105.7 390.8" stroke="#22e822" stroke-width="2.1" opacity="0.86"/><path d="M106.0 369.2 L107.1 389.0" stroke="#20d820" stroke-width="1.6" opacity="0.76"/><path d="M110.0 369.2 L109.8 390.4" stroke="#22e822" stroke-width="1.8" opacity="0.75"/><path d="M111.0 369.2 L110.5 391.0" stroke="#2cf42c" stroke-width="1.4" opacity="0.42"/><path d="M112.0 369.2 L111.2 395.0" stroke="#2cf42c" stroke-width="2.4" opacity="0.87"/><path d="M113.0 369.2 L112.7 392.8" stroke="#20d820" stroke-width="2.4" opacity="0.56"/><path d="M116.0 369.2 L115.2 390.6" stroke="#22e822" stroke-width="2.0" opacity="0.84"/><path d="M121.0 369.2 L121.2 379.2" stroke="#3cfa3c" stroke-width="2.4" opacity="0.55"/><path d="M123.0 369.2 L122.4 380.8" stroke="#2cf42c" stroke-width="1.9" opacity="0.60"/><path d="M124.0 369.2 L122.8 376.1" stroke="#3cfa3c" stroke-width="2.3" opacity="0.77"/><path d="M125.0 369.2 L125.0 396.9" stroke="#20d820" stroke-width="1.5" opacity="0.88"/><path d="M126.0 369.2 L126.3 387.8" stroke="#3cfa3c" stroke-width="2.0" opacity="0.52"/><path d="M127.0 369.2 L126.9 395.7" stroke="#2cf42c" stroke-width="2.4" opacity="0.95"/><path d="M128.0 369.2 L127.0 376.6" stroke="#3cfa3c" stroke-width="1.4" opacity="0.47"/><path d="M129.0 369.2 L129.9 387.7" stroke="#2cf42c" stroke-width="1.3" opacity="0.66"/><path d="M131.0 369.2 L131.6 387.1" stroke="#20d820" stroke-width="2.3" opacity="0.84"/><path d="M132.0 369.2 L132.6 387.2" stroke="#20d820" stroke-width="2.1" opacity="0.84"/><path d="M133.0 369.2 L131.9 390.8" stroke="#22e822" stroke-width="1.6" opacity="0.90"/><path d="M134.0 369.2 L134.7 384.2" stroke="#3cfa3c" stroke-width="1.7" opacity="0.76"/><path d="M136.0 369.2 L136.2 382.6" stroke="#3cfa3c" stroke-width="1.3" opacity="0.76"/><path d="M137.0 369.2 L137.1 391.6" stroke="#22e822" stroke-width="1.5" opacity="0.81"/><path d="M138.0 369.2 L137.8 378.2" stroke="#2cf42c" stroke-width="1.4" opacity="0.59"/><path d="M139.0 369.2 L139.8 377.1" stroke="#22e822" stroke-width="1.3" opacity="0.92"/><path d="M140.0 369.2 L140.2 379.7" stroke="#3cfa3c" stroke-width="1.3" opacity="0.72"/><path d="M141.0 369.2 L141.5 396.2" stroke="#22e822" stroke-width="1.5" opacity="0.62"/><path d="M143.0 369.2 L143.7 384.2" stroke="#2cf42c" stroke-width="2.5" opacity="0.88"/><path d="M144.0 369.2 L143.3 389.3" stroke="#3cfa3c" stroke-width="1.7" opacity="0.75"/><path d="M148.0 369.2 L148.5 387.9" stroke="#20d820" stroke-width="1.4" opacity="0.86"/><path d="M149.0 369.2 L148.7 385.8" stroke="#2cf42c" stroke-width="2.4" opacity="0.68"/><path d="M150.0 369.2 L150.2 376.7" stroke="#2cf42c" stroke-width="2.1" opacity="0.65"/><path d="M152.0 369.2 L151.6 385.8" stroke="#20d820" stroke-width="2.6" opacity="0.81"/><path d="M154.0 369.2 L154.0 394.2" stroke="#22e822" stroke-width="1.4" opacity="0.94"/><path d="M155.0 369.2 L154.1 395.4" stroke="#2cf42c" stroke-width="2.3" opacity="0.48"/><path d="M156.0 369.2 L156.5 396.9" stroke="#3cfa3c" stroke-width="1.3" opacity="0.88"/><path d="M157.0 369.2 L156.8 383.3" stroke="#20d820" stroke-width="1.5" opacity="0.41"/><path d="M158.0 369.2 L158.7 389.5" stroke="#20d820" stroke-width="1.3" opacity="0.71"/><path d="M160.0 369.2 L161.1 386.4" stroke="#2cf42c" stroke-width="1.3" opacity="0.88"/><path d="M162.0 369.2 L161.6 383.7" stroke="#22e822" stroke-width="1.3" opacity="0.42"/><path d="M164.0 369.2 L164.3 379.8" stroke="#20d820" stroke-width="1.7" opacity="0.87"/><path d="M165.0 369.2 L165.9 396.7" stroke="#22e822" stroke-width="1.5" opacity="0.75"/><path d="M168.0 369.2 L169.1 393.1" stroke="#22e822" stroke-width="2.2" opacity="0.86"/><path d="M170.0 369.2 L169.1 378.7" stroke="#2cf42c" stroke-width="2.2" opacity="0.66"/><path d="M171.0 369.2 L169.8 383.2" stroke="#2cf42c" stroke-width="2.1" opacity="0.57"/><path d="M174.0 369.2 L174.3 382.5" stroke="#20d820" stroke-width="1.8" opacity="0.48"/><path d="M175.0 369.2 L174.1 388.9" stroke="#2cf42c" stroke-width="1.6" opacity="0.47"/><path d="M176.0 369.2 L175.5 390.8" stroke="#3cfa3c" stroke-width="1.5" opacity="0.72"/><path d="M178.0 369.2 L177.3 389.6" stroke="#20d820" stroke-width="1.5" opacity="0.66"/><path d="M180.0 369.2 L179.9 377.3" stroke="#3cfa3c" stroke-width="1.8" opacity="0.55"/><path d="M181.0 369.2 L180.8 390.6" stroke="#22e822" stroke-width="2.1" opacity="0.53"/><path d="M184.0 369.2 L184.6 381.8" stroke="#2cf42c" stroke-width="1.3" opacity="0.88"/><path d="M185.0 369.2 L184.7 378.1" stroke="#3cfa3c" stroke-width="2.5" opacity="0.45"/><path d="M186.0 369.2 L186.8 388.4" stroke="#2cf42c" stroke-width="2.2" opacity="0.94"/><path d="M188.0 369.2 L188.0 377.5" stroke="#2cf42c" stroke-width="1.4" opacity="0.68"/><path d="M192.0 369.2 L193.2 393.4" stroke="#2cf42c" stroke-width="2.1" opacity="0.79"/><path d="M197.0 369.2 L197.0 388.3" stroke="#2cf42c" stroke-width="1.9" opacity="0.86"/><path d="M199.0 369.2 L199.6 379.5" stroke="#3cfa3c" stroke-width="2.1" opacity="0.74"/><path d="M204.0 369.2 L204.8 379.3" stroke="#2cf42c" stroke-width="1.7" opacity="0.60"/><path d="M205.0 369.2 L205.7 384.7" stroke="#2cf42c" stroke-width="2.0" opacity="0.94"/><path d="M206.0 369.2 L205.1 386.7" stroke="#2cf42c" stroke-width="1.4" opacity="0.71"/><path d="M208.0 369.2 L207.9 383.4" stroke="#22e822" stroke-width="1.5" opacity="0.72"/><path d="M210.0 369.2 L210.7 378.2" stroke="#22e822" stroke-width="1.4" opacity="0.89"/><path d="M211.0 369.2 L212.1 387.9" stroke="#2cf42c" stroke-width="1.4" opacity="0.74"/><path d="M212.0 369.2 L212.6 376.2" stroke="#20d820" stroke-width="1.4" opacity="0.85"/><path d="M213.0 369.2 L212.5 387.2" stroke="#2cf42c" stroke-width="1.2" opacity="0.46"/><path d="M214.0 369.2 L214.4 382.3" stroke="#20d820" stroke-width="1.5" opacity="0.70"/><path d="M215.0 369.2 L216.1 386.3" stroke="#2cf42c" stroke-width="2.1" opacity="0.89"/><path d="M216.0 369.2 L215.7 382.3" stroke="#20d820" stroke-width="2.2" opacity="0.54"/><path d="M218.0 369.2 L217.5 389.6" stroke="#2cf42c" stroke-width="1.7" opacity="0.46"/><path d="M219.0 369.2 L219.4 384.0" stroke="#3cfa3c" stroke-width="1.7" opacity="0.85"/><path d="M220.0 369.2 L220.1 383.6" stroke="#2cf42c" stroke-width="2.5" opacity="0.69"/><path d="M221.0 369.2 L220.7 388.5" stroke="#22e822" stroke-width="1.3" opacity="0.78"/><path d="M222.0 369.2 L222.3 388.6" stroke="#2cf42c" stroke-width="1.7" opacity="0.57"/><path d="M223.0 369.2 L221.9 386.5" stroke="#2cf42c" stroke-width="1.9" opacity="0.81"/><path d="M224.0 369.2 L224.4 388.4" stroke="#3cfa3c" stroke-width="2.3" opacity="0.92"/><path d="M225.0 369.2 L226.2 382.0" stroke="#3cfa3c" stroke-width="2.2" opacity="0.45"/><path d="M226.0 369.2 L226.3 382.7" stroke="#2cf42c" stroke-width="2.3" opacity="0.83"/><path d="M229.0 369.2 L229.5 377.8" stroke="#22e822" stroke-width="1.4" opacity="0.59"/><path d="M231.0 369.2 L232.2 391.5" stroke="#2cf42c" stroke-width="1.8" opacity="0.77"/><path d="M232.0 369.2 L232.6 377.8" stroke="#20d820" stroke-width="2.2" opacity="0.48"/><path d="M234.0 369.2 L235.1 394.8" stroke="#3cfa3c" stroke-width="2.2" opacity="0.86"/><path d="M237.0 369.2 L237.1 378.5" stroke="#22e822" stroke-width="1.6" opacity="0.92"/><path d="M238.0 369.2 L237.2 382.8" stroke="#3cfa3c" stroke-width="1.4" opacity="0.92"/><path d="M240.0 369.2 L241.0 385.1" stroke="#20d820" stroke-width="1.7" opacity="0.77"/><path d="M241.0 369.2 L241.1 392.8" stroke="#22e822" stroke-width="1.9" opacity="0.66"/><path d="M243.0 369.2 L242.7 376.3" stroke="#20d820" stroke-width="2.4" opacity="0.76"/><path d="M248.0 369.2 L248.0 390.8" stroke="#3cfa3c" stroke-width="1.8" opacity="0.45"/><path d="M249.0 369.2 L249.7 384.6" stroke="#3cfa3c" stroke-width="1.3" opacity="0.91"/><path d="M250.0 369.2 L250.1 391.0" stroke="#20d820" stroke-width="1.8" opacity="0.74"/><path d="M254.0 369.2 L254.8 391.8" stroke="#2cf42c" stroke-width="1.3" opacity="0.57"/><path d="M256.0 369.2 L255.9 379.4" stroke="#3cfa3c" stroke-width="1.9" opacity="0.67"/><path d="M258.0 369.2 L258.1 392.5" stroke="#3cfa3c" stroke-width="1.5" opacity="0.51"/><path d="M259.0 369.2 L260.0 392.1" stroke="#3cfa3c" stroke-width="2.0" opacity="0.89"/><path d="M260.0 369.2 L260.9 396.0" stroke="#3cfa3c" stroke-width="2.2" opacity="0.56"/><path d="M261.0 369.2 L261.4 383.5" stroke="#3cfa3c" stroke-width="1.4" opacity="0.89"/><path d="M262.0 369.2 L261.5 378.8" stroke="#3cfa3c" stroke-width="1.9" opacity="0.55"/><path d="M264.0 369.2 L263.1 384.2" stroke="#2cf42c" stroke-width="2.4" opacity="0.70"/><path d="M271.0 369.2 L271.7 377.1" stroke="#22e822" stroke-width="2.5" opacity="0.60"/><path d="M274.0 369.2 L274.5 380.5" stroke="#22e822" stroke-width="2.1" opacity="0.55"/><path d="M275.0 369.2 L275.6 387.5" stroke="#3cfa3c" stroke-width="2.0" opacity="0.91"/><path d="M277.0 369.2 L276.5 387.9" stroke="#22e822" stroke-width="1.4" opacity="0.94"/><path d="M278.0 369.2 L278.2 390.0" stroke="#2cf42c" stroke-width="1.3" opacity="0.42"/><path d="M279.0 369.2 L279.3 390.3" stroke="#22e822" stroke-width="1.3" opacity="0.78"/><path d="M281.0 369.2 L279.9 378.9" stroke="#2cf42c" stroke-width="1.5" opacity="0.78"/><path d="M282.0 369.2 L283.1 382.3" stroke="#22e822" stroke-width="1.7" opacity="0.79"/></g>
<g filter="url(#soft)" stroke-linecap="round"><path d="M31.7 369.2 L32.0 387.3" stroke="#3cfa3c" stroke-width="2.0" opacity="0.78"/><path d="M35.1 369.2 L34.2 387.9" stroke="#3cfa3c" stroke-width="2.5" opacity="0.42"/><path d="M38.5 369.2 L38.5 378.6" stroke="#2cf42c" stroke-width="2.4" opacity="0.78"/><path d="M40.2 369.2 L41.0 379.3" stroke="#20d820" stroke-width="2.3" opacity="0.94"/><path d="M41.9 369.2 L41.3 382.2" stroke="#2cf42c" stroke-width="1.7" opacity="0.89"/><path d="M47.0 369.2 L47.9 390.8" stroke="#22e822" stroke-width="1.8" opacity="0.53"/><path d="M48.7 369.2 L49.7 382.0" stroke="#22e822" stroke-width="1.8" opacity="0.52"/><path d="M50.4 369.2 L49.8 390.4" stroke="#2cf42c" stroke-width="1.6" opacity="0.69"/><path d="M52.1 369.2 L52.6 382.4" stroke="#2cf42c" stroke-width="1.6" opacity="0.58"/><path d="M57.2 369.2 L57.0 392.5" stroke="#22e822" stroke-width="1.5" opacity="0.52"/><path d="M58.9 369.2 L58.6 384.8" stroke="#22e822" stroke-width="2.5" opacity="0.94"/><path d="M60.6 369.2 L59.9 390.7" stroke="#3cfa3c" stroke-width="1.5" opacity="0.95"/><path d="M65.7 369.2 L64.6 396.5" stroke="#2cf42c" stroke-width="2.5" opacity="0.43"/><path d="M67.4 369.2 L67.4 381.0" stroke="#22e822" stroke-width="1.3" opacity="0.49"/><path d="M70.8 369.2 L71.9 395.7" stroke="#22e822" stroke-width="1.4" opacity="0.79"/><path d="M72.5 369.2 L73.4 391.3" stroke="#20d820" stroke-width="1.5" opacity="0.87"/><path d="M74.2 369.2 L75.1 391.8" stroke="#22e822" stroke-width="2.5" opacity="0.48"/><path d="M79.3 369.2 L79.4 384.1" stroke="#20d820" stroke-width="2.0" opacity="0.55"/><path d="M86.1 369.2 L86.7 382.2" stroke="#22e822" stroke-width="1.3" opacity="0.57"/><path d="M87.8 369.2 L88.5 384.3" stroke="#20d820" stroke-width="2.0" opacity="0.56"/><path d="M89.5 369.2 L88.7 396.9" stroke="#20d820" stroke-width="1.9" opacity="0.42"/><path d="M92.9 369.2 L92.1 392.5" stroke="#22e822" stroke-width="1.8" opacity="0.43"/><path d="M94.6 369.2 L94.4 393.6" stroke="#20d820" stroke-width="2.5" opacity="0.41"/><path d="M98.0 369.2 L99.1 378.5" stroke="#3cfa3c" stroke-width="1.7" opacity="0.49"/><path d="M99.7 369.2 L100.0 389.8" stroke="#3cfa3c" stroke-width="1.7" opacity="0.66"/><path d="M103.1 369.2 L103.3 388.2" stroke="#3cfa3c" stroke-width="2.1" opacity="0.64"/><path d="M133.7 369.2 L133.7 390.4" stroke="#20d820" stroke-width="1.7" opacity="0.71"/><path d="M145.6 369.2 L144.7 382.7" stroke="#2cf42c" stroke-width="2.1" opacity="0.43"/><path d="M150.7 369.2 L151.4 392.8" stroke="#3cfa3c" stroke-width="1.5" opacity="0.86"/><path d="M155.8 369.2 L156.7 383.4" stroke="#22e822" stroke-width="1.3" opacity="0.44"/><path d="M191.5 369.2 L191.8 386.7" stroke="#20d820" stroke-width="1.7" opacity="0.84"/><path d="M196.6 369.2 L197.5 390.0" stroke="#3cfa3c" stroke-width="1.4" opacity="0.94"/><path d="M218.7 369.2 L218.0 381.6" stroke="#3cfa3c" stroke-width="1.9" opacity="0.91"/><path d="M220.4 369.2 L219.8 394.6" stroke="#2cf42c" stroke-width="1.9" opacity="0.94"/><path d="M256.1 369.2 L256.7 394.1" stroke="#22e822" stroke-width="1.9" opacity="0.66"/><path d="M283.3 369.2 L283.6 385.0" stroke="#3cfa3c" stroke-width="1.9" opacity="0.63"/></g>
<rect x="30" y="306" width="254" height="11" fill="url(#gtopD)" filter="url(#soft)"/>
<rect x="30" y="306" width="254" height="11" fill="#000" filter="url(#streakD)" opacity="0.4"/>
<rect x="30" y="395" width="254" height="11" fill="url(#gbotD)" filter="url(#soft)"/>
<rect x="30" y="395" width="254" height="11" fill="#000" filter="url(#streakD)" opacity="0.45"/>
<line x1="30" y1="405" x2="150" y2="405" stroke="#6a2a08" stroke-width="1.2" opacity="0.6"/>
<path d="M92 339.5 L97 336.5 L100 339 L130 339.5 L150 339.8 L160 340" stroke="#40f020" stroke-width="2.2" fill="none" filter="url(#soft)" opacity="0.8"/>
<path d="M195 330 L198 337 L200.5 340.8 L278 340.8 L281 334 L284 328" stroke="#48f420" stroke-width="5.6" fill="none" filter="url(#soft)" stroke-linejoin="round"/>
<g style="mix-blend-mode:screen">
<path d="M30 338.6 L100 339 L150 340 L200 342 L284 342 L284 370 L200 370 L150 370.2 L100 371.4 L30 372.4 Z" stroke="none" stroke-width="0" fill="url(#redD)" filter="url(#soft1)"/>
</g>
<rect x="30" y="338" width="254" height="36" fill="#000" filter="url(#streakD)" opacity="0.15"/>
<path d="M30 352 L284 352 L284 360 L30 360 Z" stroke="none" stroke-width="0" fill="url(#dstripe)" filter="url(#soft1)"/>
<line x1="30" y1="316" x2="284" y2="316" stroke="#fff" stroke-width="2.6" stroke-dasharray="5.1 4.8" stroke-dashoffset="-1"/>
<line x1="30" y1="396.3" x2="284" y2="396.3" stroke="#fff" stroke-width="2.6" stroke-dasharray="5.1 4.8" stroke-dashoffset="-1"/>
</g>
<line x1="30.3" y1="307" x2="30.3" y2="405.5" stroke="#111" stroke-width="0.8" />
<line x1="267.7" y1="318.6" x2="267.7" y2="333.3" stroke="#fff" stroke-width="1.3" />
<text x="0" y="0" font-size="9" fill="#e8e8e8" font-weight="400" text-anchor="middle" transform="translate(264.4 326.5) rotate(-90)" style="">1μm</text>
<path d="M17.1 335.1 L28.3 341.3 L17.1 347.5 Z" stroke="none" stroke-width="0" fill="#231f20" />
<path d="M17.1 365.1 L28.3 371.3 L17.1 377.5 Z" stroke="none" stroke-width="0" fill="#231f20" />
<text x="1.8" y="346.9" font-size="13.3" fill="#f08c23" font-weight="700" text-anchor="start"  style="">3’</text>
<text x="2.2" y="376.3" font-size="13.3" fill="#2b7bc4" font-weight="700" text-anchor="start"  style="">5’</text>
<line x1="29.8" y1="405.5" x2="29.8" y2="409.5" stroke="#1a1a1a" stroke-width="1" />
<text x="29.8" y="421" font-size="12.6" fill="#1a1a1a" font-weight="400" text-anchor="middle"  style="">0</text>
<line x1="80.3" y1="405.5" x2="80.3" y2="409.5" stroke="#1a1a1a" stroke-width="1" />
<text x="80.3" y="421" font-size="12.6" fill="#1a1a1a" font-weight="400" text-anchor="middle"  style="">50</text>
<line x1="130.8" y1="405.5" x2="130.8" y2="409.5" stroke="#1a1a1a" stroke-width="1" />
<text x="130.8" y="421" font-size="12.6" fill="#1a1a1a" font-weight="400" text-anchor="middle"  style="">100</text>
<line x1="181.3" y1="405.5" x2="181.3" y2="409.5" stroke="#1a1a1a" stroke-width="1" />
<text x="181.3" y="421" font-size="12.6" fill="#1a1a1a" font-weight="400" text-anchor="middle"  style="">150</text>
<line x1="231.8" y1="405.5" x2="231.8" y2="409.5" stroke="#1a1a1a" stroke-width="1" />
<text x="231.8" y="421" font-size="12.6" fill="#1a1a1a" font-weight="400" text-anchor="middle"  style="">200</text>
<line x1="282.3" y1="405.5" x2="282.3" y2="409.5" stroke="#1a1a1a" stroke-width="1" />
<text x="282.3" y="421" font-size="12.6" fill="#1a1a1a" font-weight="400" text-anchor="middle"  style="">250</text>
<text x="170.5" y="438.9" font-size="12.2" fill="#1a1a1a" font-weight="400" text-anchor="middle"  style="">Time (s)</text>
<line x1="507" y1="43" x2="507" y2="180.2" stroke="#1a1a1a" stroke-width="1.8" />
<line x1="501" y1="180.2" x2="663.5" y2="180.2" stroke="#1a1a1a" stroke-width="1.8" />
<line x1="501.5" y1="44.5" x2="507" y2="44.5" stroke="#1a1a1a" stroke-width="1.5" />
<text x="500.2" y="49.0" font-size="10.5" fill="#1a1a1a" font-weight="400" text-anchor="end" letter-spacing="-0.45" style="">1000</text>
<line x1="501.5" y1="75.53" x2="507" y2="75.53" stroke="#1a1a1a" stroke-width="1.5" />
<text x="500.2" y="80.03" font-size="10.5" fill="#1a1a1a" font-weight="400" text-anchor="end" letter-spacing="-0.45" style="">100</text>
<line x1="501.5" y1="106.56" x2="507" y2="106.56" stroke="#1a1a1a" stroke-width="1.5" />
<text x="500.2" y="111.06" font-size="10.5" fill="#1a1a1a" font-weight="400" text-anchor="end" letter-spacing="-0.45" style="">10</text>
<line x1="501.5" y1="137.59" x2="507" y2="137.59" stroke="#1a1a1a" stroke-width="1.5" />
<text x="500.2" y="142.09" font-size="10.5" fill="#1a1a1a" font-weight="400" text-anchor="end" letter-spacing="-0.45" style="">1</text>
<line x1="501.5" y1="168.62" x2="507" y2="168.62" stroke="#1a1a1a" stroke-width="1.5" />
<text x="500.2" y="173.12" font-size="10.5" fill="#1a1a1a" font-weight="400" text-anchor="end" letter-spacing="-0.45" style="">0.1</text>
<line x1="530.7" y1="180.2" x2="530.7" y2="186" stroke="#1a1a1a" stroke-width="1.5" />
<line x1="566.7" y1="180.2" x2="566.7" y2="186" stroke="#1a1a1a" stroke-width="1.5" />
<line x1="602.2" y1="180.2" x2="602.2" y2="186" stroke="#1a1a1a" stroke-width="1.5" />
<line x1="638.4" y1="180.2" x2="638.4" y2="186" stroke="#1a1a1a" stroke-width="1.5" />
<text x="0" y="0" font-size="11.1" fill="#1a1a1a" font-weight="400" text-anchor="middle" transform="translate(460.6 119.5) rotate(-90)" style="">Smc5/6 junction</text>
<text x="0" y="0" font-size="11.1" fill="#1a1a1a" font-weight="400" text-anchor="middle" transform="translate(475.1 121) rotate(-90)" style="">dwell time (s)</text>
<text x="449.6" y="198.5" font-size="11.2" fill="#1a1a1a" font-weight="400" text-anchor="start"  style="">+RPA+ATP</text>
<text x="530.7" y="198.8" font-size="11" fill="#222" font-weight="700" text-anchor="middle"  style="">8-mer</text>
<text x="566.7" y="198.8" font-size="11" fill="#c4a52a" font-weight="700" text-anchor="middle"  style="">5-mer</text>
<text x="602.2" y="198.8" font-size="11" fill="#222" font-weight="700" text-anchor="middle"  style="">8-mer</text>
<text x="638.4" y="198.8" font-size="11" fill="#c4a52a" font-weight="700" text-anchor="middle"  style="">5-mer</text>
<line x1="514.8" y1="204.6" x2="582.1" y2="204.6" stroke="#f08c23" stroke-width="2.4" />
<line x1="591.9" y1="204.6" x2="658" y2="204.6" stroke="#2b7bc4" stroke-width="2.4" />
<text x="550.9" y="217.7" font-size="11" fill="#f08c23" font-weight="700" text-anchor="middle"  style="">3’</text>
<text x="626.8" y="217.7" font-size="11" fill="#2b7bc4" font-weight="700" text-anchor="middle"  style="">5’</text>
<path d="M569.7 23.8 L569.7 21.3 L639.6 21.3 L639.6 49.2" stroke="#3a3a3a" stroke-width="0.9" fill="none" />
<text x="591.7" y="18.8" font-size="8.5" fill="#2a2a2a" textLength="30.8" lengthAdjust="spacingAndGlyphs"><tspan font-style="italic">P</tspan> = 0.37</text>
<path d="M530.8 49.2 L530.8 31.7 L604.5 31.7 L604.5 35" stroke="#3a3a3a" stroke-width="0.9" fill="none" />
<text x="571.9000000000001" y="30.2" font-size="8.5" fill="#2a2a2a" textLength="38.6" lengthAdjust="spacingAndGlyphs"><tspan font-style="italic">P</tspan> &lt; 0.0001</text>
<path d="M530.8 49 L530.8 44.2 L569.7 44.2 L569.7 49" stroke="#3a3a3a" stroke-width="0.9" fill="none" />
<text x="532.6" y="42.9" font-size="8.5" fill="#2a2a2a" textLength="38.6" lengthAdjust="spacingAndGlyphs"><tspan font-style="italic">P</tspan> &lt; 0.0001</text>
<path d="M602.9 49.2 L602.9 44.4 L639.6 44.4 L639.6 49.2" stroke="#3a3a3a" stroke-width="0.9" fill="none" />
<text x="600.4000000000001" y="43.4" font-size="8.5" fill="#2a2a2a" textLength="38.6" lengthAdjust="spacingAndGlyphs"><tspan font-style="italic">P</tspan> &lt; 0.0001</text>
<g fill="#8a8a8a" opacity="1.0"><circle cx="524.3" cy="150.6" r="0.9"/><circle cx="531.6" cy="138.1" r="0.9"/><circle cx="534.6" cy="145.7" r="0.9"/><circle cx="528.5" cy="134.2" r="0.9"/><circle cx="523.1" cy="132.8" r="0.9"/><circle cx="524.9" cy="159.1" r="0.9"/><circle cx="529.4" cy="162.2" r="0.9"/><circle cx="531.8" cy="115.1" r="0.9"/><circle cx="535.8" cy="149.7" r="0.9"/><circle cx="528.6" cy="150.8" r="0.9"/><circle cx="531.2" cy="69.0" r="0.9"/><circle cx="532.9" cy="142.1" r="0.9"/><circle cx="530.0" cy="115.2" r="0.9"/><circle cx="529.0" cy="141.9" r="0.9"/><circle cx="530.7" cy="131.9" r="0.9"/><circle cx="533.1" cy="154.9" r="0.9"/><circle cx="529.3" cy="132.2" r="0.9"/><circle cx="533.0" cy="111.7" r="0.9"/><circle cx="530.1" cy="139.5" r="0.9"/><circle cx="528.5" cy="125.2" r="0.9"/><circle cx="531.1" cy="129.8" r="0.9"/><circle cx="534.2" cy="159.2" r="0.9"/><circle cx="528.5" cy="123.7" r="0.9"/><circle cx="529.3" cy="135.0" r="0.9"/><circle cx="529.4" cy="148.2" r="0.9"/><circle cx="536.6" cy="161.1" r="0.9"/><circle cx="536.7" cy="112.0" r="0.9"/><circle cx="529.0" cy="142.0" r="0.9"/><circle cx="534.8" cy="126.6" r="0.9"/><circle cx="534.2" cy="110.6" r="0.9"/><circle cx="528.3" cy="127.0" r="0.9"/><circle cx="530.4" cy="106.0" r="0.9"/><circle cx="523.9" cy="144.8" r="0.9"/><circle cx="535.5" cy="119.1" r="0.9"/><circle cx="533.6" cy="143.0" r="0.9"/><circle cx="531.4" cy="102.2" r="0.9"/><circle cx="534.2" cy="110.6" r="0.9"/><circle cx="532.4" cy="157.6" r="0.9"/><circle cx="533.5" cy="155.6" r="0.9"/><circle cx="531.8" cy="151.6" r="0.9"/><circle cx="529.3" cy="87.3" r="0.9"/><circle cx="532.3" cy="143.3" r="0.9"/><circle cx="521.8" cy="132.7" r="0.9"/><circle cx="524.3" cy="148.2" r="0.9"/><circle cx="534.5" cy="140.5" r="0.9"/><circle cx="522.5" cy="145.1" r="0.9"/><circle cx="523.4" cy="146.4" r="0.9"/><circle cx="523.5" cy="135.4" r="0.9"/><circle cx="537.5" cy="135.5" r="0.9"/><circle cx="528.5" cy="107.8" r="0.9"/><circle cx="525.0" cy="129.1" r="0.9"/><circle cx="533.6" cy="105.1" r="0.9"/><circle cx="525.5" cy="113.0" r="0.9"/><circle cx="531.9" cy="72.3" r="0.9"/><circle cx="532.8" cy="129.8" r="0.9"/><circle cx="534.7" cy="154.3" r="0.9"/><circle cx="536.9" cy="112.6" r="0.9"/><circle cx="531.0" cy="87.7" r="0.9"/><circle cx="532.7" cy="107.8" r="0.9"/><circle cx="526.7" cy="136.5" r="0.9"/><circle cx="533.5" cy="127.0" r="0.9"/><circle cx="530.9" cy="151.9" r="0.9"/><circle cx="532.9" cy="115.7" r="0.9"/><circle cx="527.3" cy="136.2" r="0.9"/><circle cx="535.2" cy="148.7" r="0.9"/><circle cx="538.5" cy="159.2" r="0.9"/><circle cx="524.7" cy="113.3" r="0.9"/><circle cx="530.1" cy="73.1" r="0.9"/><circle cx="531.4" cy="158.0" r="0.9"/><circle cx="535.8" cy="119.1" r="0.9"/><circle cx="526.1" cy="144.2" r="0.9"/><circle cx="526.9" cy="154.9" r="0.9"/><circle cx="526.2" cy="148.4" r="0.9"/><circle cx="531.3" cy="122.6" r="0.9"/><circle cx="533.7" cy="111.2" r="0.9"/><circle cx="529.1" cy="160.3" r="0.9"/><circle cx="528.3" cy="133.5" r="0.9"/><circle cx="529.1" cy="160.2" r="0.9"/><circle cx="529.2" cy="126.7" r="0.9"/><circle cx="529.2" cy="147.1" r="0.9"/><circle cx="525.7" cy="110.3" r="0.9"/><circle cx="530.7" cy="79.6" r="0.9"/><circle cx="537.2" cy="140.6" r="0.9"/><circle cx="530.6" cy="67.0" r="0.9"/><circle cx="535.2" cy="147.9" r="0.9"/><circle cx="524.6" cy="158.6" r="0.9"/><circle cx="534.1" cy="134.5" r="0.9"/><circle cx="534.7" cy="161.1" r="0.9"/><circle cx="533.4" cy="152.6" r="0.9"/><circle cx="531.0" cy="144.3" r="0.9"/><circle cx="530.4" cy="133.8" r="0.9"/><circle cx="532.4" cy="154.6" r="0.9"/><circle cx="536.8" cy="160.4" r="0.9"/><circle cx="526.5" cy="111.8" r="0.9"/><circle cx="523.4" cy="147.7" r="0.9"/><circle cx="531.1" cy="90.7" r="0.9"/><circle cx="533.6" cy="108.6" r="0.9"/><circle cx="531.0" cy="145.4" r="0.9"/><circle cx="529.7" cy="142.4" r="0.9"/><circle cx="534.1" cy="139.7" r="0.9"/><circle cx="526.9" cy="131.6" r="0.9"/><circle cx="526.5" cy="134.7" r="0.9"/><circle cx="528.1" cy="137.1" r="0.9"/><circle cx="532.2" cy="133.1" r="0.9"/><circle cx="530.1" cy="99.7" r="0.9"/><circle cx="527.0" cy="140.5" r="0.9"/><circle cx="534.1" cy="143.5" r="0.9"/><circle cx="535.4" cy="126.5" r="0.9"/><circle cx="527.2" cy="150.6" r="0.9"/><circle cx="534.4" cy="148.2" r="0.9"/><circle cx="530.6" cy="81.1" r="0.9"/><circle cx="536.2" cy="139.6" r="0.9"/><circle cx="531.4" cy="137.8" r="0.9"/><circle cx="528.3" cy="162.3" r="0.9"/><circle cx="525.6" cy="144.1" r="0.9"/><circle cx="522.1" cy="135.8" r="0.9"/><circle cx="530.4" cy="161.8" r="0.9"/><circle cx="528.6" cy="133.4" r="0.9"/><circle cx="524.8" cy="132.3" r="0.9"/><circle cx="528.2" cy="159.4" r="0.9"/><circle cx="527.5" cy="132.6" r="0.9"/><circle cx="535.6" cy="142.2" r="0.9"/><circle cx="526.4" cy="129.2" r="0.9"/><circle cx="539.5" cy="146.3" r="0.9"/><circle cx="530.5" cy="127.4" r="0.9"/><circle cx="531.5" cy="125.4" r="0.9"/><circle cx="530.2" cy="161.6" r="0.9"/><circle cx="536.7" cy="159.4" r="0.9"/><circle cx="534.6" cy="129.5" r="0.9"/><circle cx="530.8" cy="88.3" r="0.9"/><circle cx="530.4" cy="150.0" r="0.9"/><circle cx="534.7" cy="142.6" r="0.9"/><circle cx="537.1" cy="134.9" r="0.9"/><circle cx="528.9" cy="147.5" r="0.9"/><circle cx="534.9" cy="145.9" r="0.9"/><circle cx="539.0" cy="147.7" r="0.9"/><circle cx="530.1" cy="145.7" r="0.9"/><circle cx="525.8" cy="134.7" r="0.9"/><circle cx="525.9" cy="148.2" r="0.9"/><circle cx="534.6" cy="145.4" r="0.9"/><circle cx="531.6" cy="122.2" r="0.9"/><circle cx="537.8" cy="161.3" r="0.9"/><circle cx="533.7" cy="136.5" r="0.9"/><circle cx="528.5" cy="125.6" r="0.9"/><circle cx="525.1" cy="147.8" r="0.9"/><circle cx="526.6" cy="151.4" r="0.9"/><circle cx="525.9" cy="118.7" r="0.9"/><circle cx="534.2" cy="150.6" r="0.9"/><circle cx="536.2" cy="153.1" r="0.9"/><circle cx="537.9" cy="143.3" r="0.9"/><circle cx="527.8" cy="128.0" r="0.9"/><circle cx="534.5" cy="157.3" r="0.9"/><circle cx="527.3" cy="147.4" r="0.9"/><circle cx="529.3" cy="147.0" r="0.9"/><circle cx="533.1" cy="115.5" r="0.9"/><circle cx="523.2" cy="143.2" r="0.9"/><circle cx="525.1" cy="113.1" r="0.9"/><circle cx="535.9" cy="154.0" r="0.9"/><circle cx="527.0" cy="146.9" r="0.9"/><circle cx="529.0" cy="131.1" r="0.9"/><circle cx="531.3" cy="109.9" r="0.9"/><circle cx="533.9" cy="142.8" r="0.9"/><circle cx="522.2" cy="151.2" r="0.9"/><circle cx="529.0" cy="156.4" r="0.9"/><circle cx="529.7" cy="139.1" r="0.9"/><circle cx="530.5" cy="152.9" r="0.9"/><circle cx="526.2" cy="118.4" r="0.9"/><circle cx="531.6" cy="115.0" r="0.9"/><circle cx="537.7" cy="153.3" r="0.9"/><circle cx="528.7" cy="149.0" r="0.9"/><circle cx="531.4" cy="118.4" r="0.9"/><circle cx="526.1" cy="131.7" r="0.9"/><circle cx="527.2" cy="118.5" r="0.9"/><circle cx="533.7" cy="146.6" r="0.9"/><circle cx="526.1" cy="156.0" r="0.9"/><circle cx="537.7" cy="148.5" r="0.9"/><circle cx="537.0" cy="119.8" r="0.9"/><circle cx="523.4" cy="149.2" r="0.9"/><circle cx="538.6" cy="146.5" r="0.9"/><circle cx="528.4" cy="144.0" r="0.9"/><circle cx="535.6" cy="143.9" r="0.9"/><circle cx="535.3" cy="144.3" r="0.9"/><circle cx="529.3" cy="106.0" r="0.9"/><circle cx="532.8" cy="154.7" r="0.9"/><circle cx="532.3" cy="162.7" r="0.9"/><circle cx="531.7" cy="98.4" r="0.9"/><circle cx="527.9" cy="110.4" r="0.9"/><circle cx="531.1" cy="75.2" r="0.9"/><circle cx="539.0" cy="143.4" r="0.9"/><circle cx="531.0" cy="94.9" r="0.9"/><circle cx="531.0" cy="105.3" r="0.9"/><circle cx="524.1" cy="151.4" r="0.9"/><circle cx="530.6" cy="124.9" r="0.9"/><circle cx="529.2" cy="115.2" r="0.9"/><circle cx="533.3" cy="130.3" r="0.9"/><circle cx="533.5" cy="139.8" r="0.9"/><circle cx="531.9" cy="148.6" r="0.9"/><circle cx="525.0" cy="146.7" r="0.9"/><circle cx="533.2" cy="151.1" r="0.9"/><circle cx="533.1" cy="159.0" r="0.9"/><circle cx="524.9" cy="135.2" r="0.9"/><circle cx="537.7" cy="148.7" r="0.9"/><circle cx="533.1" cy="118.0" r="0.9"/><circle cx="524.9" cy="160.2" r="0.9"/><circle cx="533.7" cy="107.9" r="0.9"/><circle cx="526.4" cy="128.3" r="0.9"/><circle cx="529.3" cy="105.7" r="0.9"/><circle cx="532.2" cy="108.6" r="0.9"/><circle cx="531.4" cy="108.3" r="0.9"/><circle cx="531.7" cy="136.0" r="0.9"/><circle cx="532.2" cy="162.2" r="0.9"/><circle cx="530.3" cy="124.9" r="0.9"/><circle cx="527.8" cy="153.9" r="0.9"/><circle cx="524.9" cy="148.2" r="0.9"/><circle cx="525.5" cy="130.3" r="0.9"/><circle cx="534.0" cy="139.4" r="0.9"/><circle cx="535.3" cy="144.1" r="0.9"/><circle cx="530.8" cy="100.5" r="0.9"/><circle cx="535.0" cy="133.6" r="0.9"/><circle cx="528.2" cy="146.7" r="0.9"/><circle cx="526.5" cy="149.9" r="0.9"/><circle cx="529.1" cy="112.4" r="0.9"/><circle cx="535.8" cy="141.8" r="0.9"/><circle cx="528.3" cy="121.1" r="0.9"/><circle cx="530.8" cy="146.3" r="0.9"/><circle cx="526.8" cy="152.6" r="0.9"/><circle cx="534.8" cy="138.7" r="0.9"/><circle cx="530.2" cy="117.3" r="0.9"/><circle cx="528.1" cy="153.9" r="0.9"/><circle cx="530.2" cy="120.1" r="0.9"/><circle cx="531.1" cy="105.9" r="0.9"/><circle cx="534.9" cy="118.5" r="0.9"/><circle cx="530.2" cy="116.6" r="0.9"/><circle cx="534.3" cy="162.5" r="0.9"/><circle cx="523.7" cy="132.6" r="0.9"/><circle cx="527.6" cy="112.3" r="0.9"/><circle cx="523.5" cy="159.9" r="0.9"/><circle cx="523.7" cy="149.2" r="0.9"/><circle cx="535.7" cy="149.3" r="0.9"/><circle cx="534.2" cy="139.2" r="0.9"/><circle cx="525.0" cy="143.8" r="0.9"/><circle cx="526.4" cy="142.0" r="0.9"/><circle cx="530.3" cy="121.7" r="0.9"/><circle cx="533.2" cy="162.9" r="0.9"/><circle cx="536.4" cy="159.7" r="0.9"/><circle cx="533.3" cy="156.1" r="0.9"/><circle cx="531.6" cy="156.2" r="0.9"/><circle cx="524.3" cy="159.0" r="0.9"/><circle cx="530.5" cy="82.7" r="0.9"/><circle cx="526.5" cy="113.2" r="0.9"/><circle cx="531.2" cy="158.1" r="0.9"/><circle cx="531.6" cy="140.9" r="0.9"/><circle cx="525.3" cy="147.6" r="0.9"/><circle cx="526.2" cy="147.7" r="0.9"/><circle cx="535.8" cy="146.4" r="0.9"/><circle cx="525.1" cy="131.4" r="0.9"/><circle cx="536.2" cy="135.3" r="0.9"/><circle cx="537.7" cy="146.0" r="0.9"/><circle cx="537.6" cy="152.9" r="0.9"/><circle cx="528.6" cy="147.2" r="0.9"/></g>
<g fill="#f2c200" opacity="1.0"><circle cx="569.9" cy="152.7" r="0.9"/><circle cx="565.2" cy="151.5" r="0.9"/><circle cx="566.5" cy="149.6" r="0.9"/><circle cx="566.0" cy="84.9" r="0.9"/><circle cx="570.3" cy="147.5" r="0.9"/><circle cx="559.5" cy="160.0" r="0.9"/><circle cx="566.5" cy="127.6" r="0.9"/><circle cx="571.9" cy="155.2" r="0.9"/><circle cx="569.0" cy="150.8" r="0.9"/><circle cx="562.9" cy="145.9" r="0.9"/><circle cx="565.2" cy="168.2" r="0.9"/><circle cx="568.0" cy="141.8" r="0.9"/><circle cx="568.8" cy="148.5" r="0.9"/><circle cx="574.3" cy="155.0" r="0.9"/><circle cx="572.3" cy="153.9" r="0.9"/><circle cx="565.7" cy="155.8" r="0.9"/><circle cx="574.6" cy="162.9" r="0.9"/><circle cx="570.2" cy="153.6" r="0.9"/><circle cx="563.4" cy="167.3" r="0.9"/><circle cx="564.1" cy="154.8" r="0.9"/><circle cx="560.3" cy="149.1" r="0.9"/><circle cx="564.7" cy="156.3" r="0.9"/><circle cx="573.6" cy="152.2" r="0.9"/><circle cx="566.0" cy="99.1" r="0.9"/><circle cx="566.8" cy="122.6" r="0.9"/><circle cx="558.9" cy="164.6" r="0.9"/><circle cx="564.3" cy="138.3" r="0.9"/><circle cx="568.9" cy="150.0" r="0.9"/><circle cx="561.5" cy="167.0" r="0.9"/><circle cx="557.7" cy="158.4" r="0.9"/><circle cx="561.5" cy="161.8" r="0.9"/><circle cx="569.6" cy="166.2" r="0.9"/><circle cx="568.0" cy="153.3" r="0.9"/><circle cx="561.2" cy="116.6" r="0.9"/><circle cx="561.3" cy="159.4" r="0.9"/><circle cx="567.6" cy="126.0" r="0.9"/><circle cx="562.0" cy="147.2" r="0.9"/><circle cx="567.9" cy="164.6" r="0.9"/><circle cx="566.2" cy="127.9" r="0.9"/><circle cx="570.4" cy="150.8" r="0.9"/><circle cx="567.9" cy="117.1" r="0.9"/><circle cx="571.6" cy="146.3" r="0.9"/><circle cx="567.0" cy="145.4" r="0.9"/><circle cx="560.5" cy="158.9" r="0.9"/><circle cx="565.5" cy="136.1" r="0.9"/><circle cx="561.9" cy="116.3" r="0.9"/><circle cx="568.5" cy="127.4" r="0.9"/><circle cx="559.0" cy="156.4" r="0.9"/><circle cx="564.9" cy="143.9" r="0.9"/><circle cx="576.0" cy="155.2" r="0.9"/><circle cx="560.7" cy="165.3" r="0.9"/><circle cx="574.6" cy="167.2" r="0.9"/><circle cx="558.4" cy="166.2" r="0.9"/><circle cx="566.0" cy="162.7" r="0.9"/><circle cx="561.2" cy="163.8" r="0.9"/><circle cx="573.3" cy="154.9" r="0.9"/><circle cx="568.7" cy="147.0" r="0.9"/><circle cx="568.8" cy="153.3" r="0.9"/><circle cx="571.9" cy="156.8" r="0.9"/><circle cx="572.3" cy="148.9" r="0.9"/><circle cx="563.6" cy="159.9" r="0.9"/><circle cx="568.8" cy="155.7" r="0.9"/><circle cx="566.5" cy="143.9" r="0.9"/><circle cx="558.9" cy="157.4" r="0.9"/><circle cx="573.4" cy="163.3" r="0.9"/><circle cx="567.1" cy="121.4" r="0.9"/><circle cx="572.0" cy="146.2" r="0.9"/><circle cx="560.8" cy="158.3" r="0.9"/><circle cx="567.5" cy="158.2" r="0.9"/><circle cx="566.2" cy="153.7" r="0.9"/><circle cx="569.7" cy="151.0" r="0.9"/><circle cx="558.2" cy="162.0" r="0.9"/><circle cx="565.8" cy="168.2" r="0.9"/><circle cx="566.4" cy="162.5" r="0.9"/><circle cx="564.3" cy="139.8" r="0.9"/><circle cx="567.8" cy="164.3" r="0.9"/><circle cx="571.4" cy="155.8" r="0.9"/><circle cx="565.2" cy="162.9" r="0.9"/><circle cx="569.7" cy="162.5" r="0.9"/><circle cx="568.8" cy="163.6" r="0.9"/><circle cx="561.0" cy="157.3" r="0.9"/><circle cx="563.7" cy="163.6" r="0.9"/><circle cx="576.6" cy="167.6" r="0.9"/><circle cx="563.4" cy="165.3" r="0.9"/><circle cx="565.3" cy="163.6" r="0.9"/><circle cx="558.4" cy="155.1" r="0.9"/><circle cx="561.1" cy="166.7" r="0.9"/><circle cx="560.0" cy="167.7" r="0.9"/><circle cx="575.3" cy="156.2" r="0.9"/><circle cx="571.2" cy="157.2" r="0.9"/><circle cx="573.0" cy="146.8" r="0.9"/><circle cx="576.4" cy="167.0" r="0.9"/><circle cx="568.9" cy="157.3" r="0.9"/><circle cx="575.3" cy="157.5" r="0.9"/><circle cx="567.4" cy="167.6" r="0.9"/><circle cx="566.5" cy="93.7" r="0.9"/><circle cx="575.7" cy="162.2" r="0.9"/><circle cx="574.8" cy="165.7" r="0.9"/><circle cx="575.7" cy="155.5" r="0.9"/><circle cx="566.4" cy="163.7" r="0.9"/><circle cx="570.8" cy="150.0" r="0.9"/><circle cx="564.8" cy="158.8" r="0.9"/><circle cx="576.6" cy="164.9" r="0.9"/><circle cx="575.1" cy="166.9" r="0.9"/><circle cx="564.7" cy="145.9" r="0.9"/><circle cx="573.2" cy="160.6" r="0.9"/><circle cx="564.9" cy="139.0" r="0.9"/><circle cx="558.6" cy="155.7" r="0.9"/><circle cx="569.2" cy="116.1" r="0.9"/><circle cx="562.6" cy="160.0" r="0.9"/><circle cx="567.0" cy="161.3" r="0.9"/><circle cx="568.8" cy="160.9" r="0.9"/><circle cx="565.8" cy="134.8" r="0.9"/><circle cx="570.4" cy="149.7" r="0.9"/><circle cx="562.2" cy="158.8" r="0.9"/><circle cx="565.3" cy="165.8" r="0.9"/><circle cx="564.1" cy="147.6" r="0.9"/><circle cx="567.2" cy="90.6" r="0.9"/><circle cx="570.0" cy="151.2" r="0.9"/><circle cx="565.5" cy="168.2" r="0.9"/><circle cx="558.8" cy="167.5" r="0.9"/><circle cx="562.7" cy="165.8" r="0.9"/><circle cx="564.9" cy="163.6" r="0.9"/><circle cx="558.3" cy="167.3" r="0.9"/><circle cx="559.8" cy="166.9" r="0.9"/><circle cx="570.7" cy="148.8" r="0.9"/><circle cx="567.5" cy="121.3" r="0.9"/><circle cx="576.2" cy="162.7" r="0.9"/><circle cx="567.6" cy="87.2" r="0.9"/><circle cx="574.2" cy="155.4" r="0.9"/><circle cx="566.2" cy="136.5" r="0.9"/><circle cx="566.1" cy="118.6" r="0.9"/><circle cx="566.3" cy="114.9" r="0.9"/><circle cx="566.0" cy="167.4" r="0.9"/><circle cx="567.2" cy="159.9" r="0.9"/><circle cx="567.3" cy="150.6" r="0.9"/><circle cx="566.4" cy="109.6" r="0.9"/><circle cx="573.8" cy="165.9" r="0.9"/><circle cx="563.5" cy="160.2" r="0.9"/><circle cx="566.6" cy="129.2" r="0.9"/><circle cx="574.4" cy="165.2" r="0.9"/><circle cx="572.8" cy="157.7" r="0.9"/><circle cx="562.6" cy="159.1" r="0.9"/><circle cx="562.3" cy="147.7" r="0.9"/><circle cx="570.2" cy="116.8" r="0.9"/><circle cx="556.9" cy="163.4" r="0.9"/><circle cx="563.2" cy="145.4" r="0.9"/><circle cx="567.0" cy="145.6" r="0.9"/><circle cx="566.8" cy="131.5" r="0.9"/><circle cx="561.7" cy="152.7" r="0.9"/><circle cx="561.6" cy="117.6" r="0.9"/><circle cx="560.8" cy="158.4" r="0.9"/><circle cx="572.1" cy="157.0" r="0.9"/><circle cx="566.2" cy="161.9" r="0.9"/><circle cx="568.5" cy="140.3" r="0.9"/><circle cx="572.4" cy="155.3" r="0.9"/><circle cx="573.9" cy="160.8" r="0.9"/><circle cx="557.4" cy="163.6" r="0.9"/><circle cx="561.4" cy="146.2" r="0.9"/><circle cx="560.3" cy="150.7" r="0.9"/></g>
<g fill="#999999" opacity="1.0"><circle cx="597.6" cy="151.1" r="0.9"/><circle cx="610.0" cy="152.7" r="0.9"/><circle cx="604.9" cy="160.1" r="0.9"/><circle cx="606.8" cy="148.4" r="0.9"/><circle cx="606.7" cy="158.7" r="0.9"/><circle cx="592.3" cy="153.1" r="0.9"/><circle cx="596.5" cy="154.2" r="0.9"/><circle cx="600.9" cy="137.6" r="0.9"/><circle cx="594.3" cy="151.4" r="0.9"/><circle cx="613.0" cy="154.0" r="0.9"/><circle cx="604.7" cy="160.4" r="0.9"/><circle cx="611.7" cy="151.2" r="0.9"/><circle cx="602.8" cy="145.7" r="0.9"/><circle cx="597.9" cy="144.0" r="0.9"/><circle cx="601.7" cy="129.3" r="0.9"/><circle cx="600.3" cy="137.1" r="0.9"/><circle cx="611.5" cy="154.2" r="0.9"/><circle cx="599.4" cy="157.2" r="0.9"/><circle cx="600.3" cy="140.9" r="0.9"/><circle cx="603.5" cy="138.5" r="0.9"/><circle cx="596.8" cy="149.7" r="0.9"/><circle cx="604.8" cy="135.4" r="0.9"/><circle cx="598.8" cy="148.2" r="0.9"/><circle cx="606.0" cy="153.7" r="0.9"/><circle cx="597.5" cy="156.1" r="0.9"/><circle cx="603.9" cy="162.5" r="0.9"/><circle cx="601.1" cy="145.1" r="0.9"/><circle cx="601.3" cy="130.5" r="0.9"/><circle cx="603.2" cy="129.8" r="0.9"/><circle cx="604.3" cy="150.5" r="0.9"/><circle cx="599.4" cy="144.4" r="0.9"/><circle cx="599.7" cy="128.1" r="0.9"/><circle cx="602.5" cy="136.7" r="0.9"/><circle cx="596.3" cy="146.5" r="0.9"/><circle cx="610.7" cy="151.4" r="0.9"/><circle cx="599.4" cy="149.4" r="0.9"/><circle cx="598.3" cy="156.0" r="0.9"/><circle cx="598.2" cy="155.6" r="0.9"/><circle cx="598.4" cy="143.8" r="0.9"/><circle cx="602.1" cy="79.4" r="0.9"/><circle cx="603.0" cy="148.4" r="0.9"/><circle cx="600.1" cy="151.5" r="0.9"/><circle cx="598.4" cy="152.5" r="0.9"/><circle cx="597.4" cy="150.8" r="0.9"/><circle cx="602.1" cy="137.5" r="0.9"/><circle cx="608.6" cy="150.8" r="0.9"/><circle cx="602.0" cy="120.8" r="0.9"/><circle cx="605.4" cy="156.5" r="0.9"/><circle cx="601.8" cy="153.1" r="0.9"/><circle cx="595.3" cy="149.3" r="0.9"/><circle cx="594.6" cy="151.5" r="0.9"/><circle cx="604.5" cy="133.9" r="0.9"/><circle cx="602.1" cy="135.7" r="0.9"/><circle cx="602.0" cy="127.7" r="0.9"/><circle cx="602.4" cy="146.2" r="0.9"/><circle cx="604.4" cy="161.3" r="0.9"/><circle cx="600.6" cy="147.5" r="0.9"/><circle cx="599.7" cy="148.3" r="0.9"/><circle cx="599.1" cy="150.2" r="0.9"/><circle cx="590.9" cy="153.7" r="0.9"/><circle cx="602.6" cy="142.9" r="0.9"/><circle cx="602.1" cy="129.4" r="0.9"/><circle cx="602.1" cy="158.4" r="0.9"/><circle cx="601.7" cy="144.3" r="0.9"/><circle cx="601.6" cy="152.1" r="0.9"/><circle cx="606.1" cy="149.5" r="0.9"/><circle cx="600.3" cy="130.6" r="0.9"/><circle cx="603.5" cy="120.6" r="0.9"/><circle cx="597.9" cy="145.1" r="0.9"/><circle cx="610.6" cy="155.2" r="0.9"/><circle cx="600.1" cy="128.7" r="0.9"/><circle cx="609.0" cy="155.6" r="0.9"/><circle cx="596.7" cy="151.9" r="0.9"/><circle cx="599.6" cy="135.6" r="0.9"/><circle cx="603.1" cy="153.1" r="0.9"/><circle cx="610.0" cy="153.8" r="0.9"/><circle cx="602.9" cy="123.1" r="0.9"/><circle cx="602.6" cy="124.6" r="0.9"/><circle cx="613.2" cy="153.0" r="0.9"/><circle cx="591.9" cy="151.8" r="0.9"/><circle cx="599.4" cy="153.6" r="0.9"/><circle cx="597.6" cy="157.4" r="0.9"/><circle cx="608.1" cy="154.2" r="0.9"/><circle cx="602.2" cy="105.6" r="0.9"/><circle cx="605.6" cy="159.2" r="0.9"/><circle cx="609.0" cy="154.5" r="0.9"/><circle cx="613.7" cy="155.0" r="0.9"/><circle cx="604.7" cy="159.1" r="0.9"/><circle cx="609.0" cy="149.1" r="0.9"/><circle cx="602.6" cy="141.7" r="0.9"/><circle cx="599.6" cy="134.9" r="0.9"/><circle cx="606.6" cy="145.5" r="0.9"/><circle cx="600.5" cy="136.4" r="0.9"/><circle cx="600.4" cy="163.5" r="0.9"/><circle cx="609.8" cy="153.6" r="0.9"/><circle cx="601.6" cy="120.4" r="0.9"/><circle cx="604.5" cy="159.5" r="0.9"/><circle cx="591.4" cy="153.9" r="0.9"/><circle cx="595.5" cy="150.3" r="0.9"/><circle cx="607.2" cy="153.9" r="0.9"/><circle cx="593.8" cy="148.4" r="0.9"/><circle cx="602.3" cy="160.3" r="0.9"/><circle cx="612.3" cy="154.4" r="0.9"/><circle cx="601.4" cy="121.3" r="0.9"/><circle cx="604.6" cy="156.9" r="0.9"/><circle cx="603.8" cy="129.8" r="0.9"/><circle cx="605.0" cy="155.8" r="0.9"/><circle cx="602.4" cy="77.8" r="0.9"/><circle cx="604.4" cy="144.1" r="0.9"/><circle cx="596.8" cy="145.0" r="0.9"/><circle cx="598.6" cy="157.0" r="0.9"/><circle cx="602.7" cy="160.0" r="0.9"/><circle cx="606.4" cy="140.8" r="0.9"/><circle cx="595.7" cy="155.8" r="0.9"/><circle cx="604.2" cy="155.4" r="0.9"/><circle cx="600.6" cy="136.0" r="0.9"/><circle cx="604.5" cy="132.1" r="0.9"/><circle cx="601.9" cy="160.2" r="0.9"/><circle cx="602.3" cy="120.5" r="0.9"/><circle cx="605.3" cy="148.8" r="0.9"/><circle cx="593.8" cy="152.0" r="0.9"/><circle cx="605.4" cy="158.2" r="0.9"/><circle cx="609.1" cy="151.8" r="0.9"/><circle cx="602.5" cy="89.5" r="0.9"/><circle cx="597.2" cy="153.7" r="0.9"/><circle cx="599.1" cy="157.4" r="0.9"/><circle cx="598.2" cy="156.9" r="0.9"/><circle cx="606.9" cy="157.5" r="0.9"/><circle cx="600.8" cy="152.5" r="0.9"/><circle cx="601.5" cy="129.1" r="0.9"/><circle cx="602.5" cy="159.2" r="0.9"/><circle cx="606.8" cy="155.3" r="0.9"/><circle cx="602.0" cy="125.7" r="0.9"/><circle cx="602.1" cy="68.8" r="0.9"/><circle cx="602.5" cy="106.2" r="0.9"/><circle cx="608.6" cy="154.2" r="0.9"/><circle cx="597.5" cy="152.4" r="0.9"/><circle cx="601.4" cy="122.9" r="0.9"/><circle cx="612.0" cy="150.2" r="0.9"/><circle cx="604.5" cy="143.1" r="0.9"/><circle cx="604.4" cy="153.1" r="0.9"/><circle cx="601.8" cy="162.1" r="0.9"/><circle cx="612.8" cy="152.6" r="0.9"/><circle cx="601.6" cy="141.6" r="0.9"/><circle cx="601.4" cy="139.1" r="0.9"/><circle cx="597.2" cy="147.7" r="0.9"/><circle cx="598.8" cy="150.6" r="0.9"/><circle cx="604.0" cy="148.7" r="0.9"/><circle cx="599.1" cy="151.0" r="0.9"/><circle cx="610.3" cy="148.8" r="0.9"/><circle cx="603.1" cy="135.3" r="0.9"/><circle cx="601.2" cy="155.0" r="0.9"/><circle cx="604.2" cy="146.8" r="0.9"/><circle cx="602.4" cy="127.3" r="0.9"/><circle cx="602.9" cy="134.1" r="0.9"/><circle cx="602.1" cy="155.7" r="0.9"/><circle cx="602.2" cy="119.8" r="0.9"/><circle cx="602.1" cy="134.7" r="0.9"/><circle cx="606.1" cy="156.1" r="0.9"/><circle cx="595.1" cy="153.9" r="0.9"/><circle cx="608.8" cy="155.0" r="0.9"/><circle cx="600.9" cy="160.1" r="0.9"/><circle cx="602.5" cy="109.6" r="0.9"/><circle cx="592.4" cy="151.5" r="0.9"/><circle cx="602.1" cy="132.3" r="0.9"/><circle cx="601.5" cy="157.9" r="0.9"/><circle cx="603.1" cy="162.8" r="0.9"/><circle cx="600.2" cy="132.5" r="0.9"/><circle cx="601.5" cy="138.2" r="0.9"/><circle cx="601.9" cy="80.6" r="0.9"/><circle cx="602.8" cy="143.7" r="0.9"/><circle cx="603.6" cy="149.1" r="0.9"/><circle cx="597.8" cy="140.3" r="0.9"/><circle cx="597.6" cy="158.7" r="0.9"/><circle cx="596.8" cy="148.6" r="0.9"/><circle cx="612.7" cy="151.0" r="0.9"/><circle cx="601.7" cy="156.8" r="0.9"/><circle cx="603.0" cy="146.6" r="0.9"/><circle cx="597.4" cy="152.9" r="0.9"/><circle cx="605.1" cy="149.8" r="0.9"/><circle cx="609.4" cy="152.1" r="0.9"/><circle cx="606.1" cy="153.0" r="0.9"/><circle cx="590.7" cy="152.4" r="0.9"/><circle cx="601.4" cy="146.6" r="0.9"/><circle cx="602.2" cy="104.9" r="0.9"/><circle cx="601.3" cy="126.5" r="0.9"/><circle cx="604.1" cy="133.1" r="0.9"/><circle cx="601.1" cy="135.1" r="0.9"/><circle cx="597.4" cy="153.6" r="0.9"/><circle cx="602.3" cy="113.2" r="0.9"/><circle cx="604.2" cy="153.8" r="0.9"/><circle cx="602.2" cy="157.6" r="0.9"/><circle cx="608.7" cy="150.0" r="0.9"/><circle cx="602.4" cy="142.1" r="0.9"/><circle cx="598.6" cy="152.6" r="0.9"/><circle cx="597.3" cy="145.1" r="0.9"/><circle cx="603.4" cy="153.6" r="0.9"/><circle cx="602.0" cy="119.0" r="0.9"/><circle cx="603.0" cy="150.8" r="0.9"/><circle cx="598.7" cy="150.4" r="0.9"/><circle cx="593.3" cy="148.9" r="0.9"/><circle cx="599.2" cy="132.1" r="0.9"/><circle cx="601.9" cy="91.6" r="0.9"/><circle cx="594.9" cy="149.0" r="0.9"/><circle cx="610.3" cy="151.0" r="0.9"/><circle cx="603.1" cy="146.0" r="0.9"/><circle cx="598.5" cy="159.5" r="0.9"/><circle cx="607.0" cy="151.2" r="0.9"/><circle cx="603.0" cy="134.2" r="0.9"/><circle cx="600.9" cy="139.4" r="0.9"/><circle cx="605.7" cy="159.8" r="0.9"/><circle cx="600.4" cy="133.7" r="0.9"/><circle cx="613.6" cy="151.9" r="0.9"/><circle cx="601.9" cy="103.2" r="0.9"/><circle cx="597.3" cy="152.2" r="0.9"/><circle cx="596.4" cy="154.8" r="0.9"/><circle cx="608.7" cy="148.3" r="0.9"/><circle cx="604.1" cy="131.5" r="0.9"/><circle cx="604.0" cy="151.1" r="0.9"/><circle cx="599.9" cy="132.7" r="0.9"/><circle cx="601.5" cy="142.8" r="0.9"/><circle cx="606.8" cy="152.3" r="0.9"/><circle cx="592.0" cy="153.3" r="0.9"/><circle cx="609.8" cy="149.8" r="0.9"/><circle cx="610.1" cy="151.7" r="0.9"/><circle cx="612.1" cy="152.1" r="0.9"/><circle cx="604.4" cy="144.8" r="0.9"/><circle cx="603.0" cy="132.1" r="0.9"/><circle cx="608.1" cy="147.1" r="0.9"/><circle cx="599.4" cy="156.8" r="0.9"/><circle cx="597.7" cy="154.7" r="0.9"/><circle cx="593.5" cy="152.2" r="0.9"/><circle cx="598.2" cy="146.1" r="0.9"/><circle cx="605.7" cy="157.1" r="0.9"/><circle cx="596.5" cy="159.1" r="0.9"/><circle cx="607.8" cy="153.0" r="0.9"/><circle cx="599.8" cy="153.6" r="0.9"/><circle cx="604.6" cy="161.4" r="0.9"/><circle cx="606.9" cy="148.7" r="0.9"/><circle cx="603.4" cy="128.7" r="0.9"/><circle cx="608.4" cy="148.8" r="0.9"/><circle cx="598.1" cy="141.9" r="0.9"/><circle cx="600.7" cy="135.6" r="0.9"/><circle cx="601.4" cy="134.9" r="0.9"/><circle cx="601.7" cy="129.3" r="0.9"/><circle cx="606.1" cy="151.0" r="0.9"/><circle cx="605.9" cy="143.8" r="0.9"/><circle cx="605.0" cy="157.7" r="0.9"/><circle cx="604.7" cy="131.8" r="0.9"/><circle cx="606.7" cy="152.0" r="0.9"/><circle cx="598.9" cy="150.4" r="0.9"/><circle cx="602.2" cy="131.0" r="0.9"/><circle cx="607.9" cy="153.6" r="0.9"/><circle cx="609.4" cy="155.3" r="0.9"/><circle cx="601.4" cy="136.0" r="0.9"/><circle cx="600.4" cy="146.6" r="0.9"/><circle cx="603.8" cy="159.0" r="0.9"/><circle cx="600.5" cy="161.5" r="0.9"/><circle cx="611.0" cy="152.5" r="0.9"/><circle cx="600.1" cy="163.3" r="0.9"/><circle cx="603.1" cy="135.3" r="0.9"/><circle cx="601.9" cy="155.6" r="0.9"/><circle cx="595.2" cy="153.8" r="0.9"/><circle cx="603.8" cy="151.9" r="0.9"/><circle cx="601.7" cy="149.6" r="0.9"/><circle cx="612.8" cy="151.1" r="0.9"/><circle cx="606.5" cy="145.6" r="0.9"/><circle cx="603.2" cy="144.6" r="0.9"/><circle cx="610.7" cy="151.1" r="0.9"/><circle cx="607.6" cy="158.5" r="0.9"/><circle cx="601.9" cy="108.0" r="0.9"/><circle cx="605.4" cy="143.5" r="0.9"/><circle cx="606.9" cy="159.0" r="0.9"/><circle cx="613.5" cy="151.0" r="0.9"/><circle cx="604.5" cy="141.2" r="0.9"/><circle cx="602.1" cy="80.1" r="0.9"/><circle cx="598.1" cy="159.6" r="0.9"/><circle cx="602.9" cy="163.2" r="0.9"/><circle cx="595.5" cy="150.3" r="0.9"/><circle cx="608.1" cy="151.3" r="0.9"/><circle cx="602.6" cy="130.7" r="0.9"/><circle cx="604.2" cy="135.8" r="0.9"/><circle cx="598.9" cy="152.8" r="0.9"/><circle cx="597.7" cy="151.4" r="0.9"/><circle cx="607.2" cy="147.2" r="0.9"/><circle cx="603.2" cy="131.4" r="0.9"/><circle cx="599.4" cy="155.0" r="0.9"/><circle cx="603.6" cy="151.8" r="0.9"/><circle cx="601.3" cy="158.8" r="0.9"/><circle cx="603.8" cy="145.2" r="0.9"/><circle cx="602.3" cy="161.7" r="0.9"/><circle cx="601.8" cy="126.8" r="0.9"/><circle cx="610.9" cy="149.2" r="0.9"/><circle cx="607.0" cy="147.5" r="0.9"/><circle cx="605.9" cy="158.9" r="0.9"/><circle cx="597.1" cy="154.5" r="0.9"/><circle cx="595.2" cy="150.5" r="0.9"/><circle cx="603.7" cy="133.4" r="0.9"/><circle cx="608.0" cy="148.7" r="0.9"/><circle cx="605.7" cy="153.6" r="0.9"/><circle cx="602.0" cy="101.4" r="0.9"/><circle cx="604.7" cy="144.5" r="0.9"/><circle cx="602.6" cy="149.0" r="0.9"/><circle cx="599.3" cy="155.0" r="0.9"/><circle cx="604.2" cy="153.4" r="0.9"/><circle cx="601.9" cy="130.3" r="0.9"/><circle cx="604.0" cy="157.3" r="0.9"/><circle cx="606.7" cy="148.9" r="0.9"/><circle cx="607.6" cy="145.9" r="0.9"/><circle cx="593.3" cy="152.4" r="0.9"/><circle cx="602.8" cy="140.1" r="0.9"/><circle cx="605.1" cy="129.5" r="0.9"/><circle cx="603.2" cy="133.4" r="0.9"/><circle cx="602.9" cy="141.9" r="0.9"/><circle cx="610.3" cy="154.9" r="0.9"/><circle cx="595.6" cy="159.8" r="0.9"/><circle cx="608.9" cy="151.1" r="0.9"/><circle cx="605.0" cy="153.1" r="0.9"/><circle cx="604.1" cy="155.2" r="0.9"/><circle cx="601.0" cy="132.4" r="0.9"/><circle cx="604.9" cy="154.7" r="0.9"/><circle cx="600.6" cy="136.0" r="0.9"/><circle cx="602.3" cy="126.1" r="0.9"/><circle cx="599.3" cy="157.8" r="0.9"/><circle cx="605.0" cy="129.2" r="0.9"/><circle cx="609.2" cy="151.7" r="0.9"/><circle cx="601.6" cy="154.8" r="0.9"/><circle cx="608.1" cy="155.5" r="0.9"/><circle cx="601.5" cy="160.7" r="0.9"/><circle cx="602.7" cy="150.0" r="0.9"/><circle cx="594.4" cy="151.9" r="0.9"/><circle cx="604.6" cy="133.9" r="0.9"/><circle cx="603.8" cy="135.3" r="0.9"/><circle cx="605.9" cy="159.9" r="0.9"/><circle cx="592.6" cy="151.6" r="0.9"/><circle cx="609.5" cy="151.8" r="0.9"/><circle cx="591.0" cy="155.8" r="0.9"/><circle cx="603.7" cy="154.2" r="0.9"/><circle cx="601.9" cy="153.9" r="0.9"/><circle cx="597.9" cy="143.4" r="0.9"/><circle cx="600.4" cy="152.7" r="0.9"/><circle cx="607.7" cy="158.1" r="0.9"/><circle cx="605.1" cy="154.7" r="0.9"/><circle cx="597.9" cy="151.0" r="0.9"/><circle cx="606.1" cy="147.8" r="0.9"/><circle cx="598.9" cy="154.2" r="0.9"/><circle cx="606.1" cy="143.2" r="0.9"/><circle cx="599.9" cy="154.7" r="0.9"/><circle cx="597.5" cy="144.2" r="0.9"/><circle cx="608.1" cy="146.3" r="0.9"/><circle cx="592.3" cy="155.8" r="0.9"/><circle cx="600.0" cy="141.4" r="0.9"/><circle cx="608.4" cy="151.8" r="0.9"/><circle cx="595.2" cy="148.7" r="0.9"/><circle cx="602.8" cy="146.7" r="0.9"/><circle cx="606.2" cy="145.6" r="0.9"/><circle cx="604.3" cy="151.0" r="0.9"/><circle cx="600.1" cy="160.0" r="0.9"/><circle cx="603.0" cy="138.7" r="0.9"/><circle cx="604.3" cy="133.3" r="0.9"/><circle cx="604.0" cy="150.2" r="0.9"/><circle cx="603.8" cy="147.3" r="0.9"/><circle cx="598.1" cy="153.9" r="0.9"/><circle cx="601.7" cy="130.3" r="0.9"/><circle cx="607.0" cy="143.7" r="0.9"/><circle cx="613.1" cy="154.6" r="0.9"/><circle cx="600.1" cy="136.4" r="0.9"/><circle cx="602.0" cy="92.5" r="0.9"/><circle cx="595.9" cy="152.6" r="0.9"/><circle cx="602.4" cy="71.8" r="0.9"/><circle cx="595.3" cy="150.3" r="0.9"/><circle cx="594.6" cy="155.7" r="0.9"/><circle cx="604.8" cy="142.6" r="0.9"/><circle cx="594.6" cy="152.7" r="0.9"/><circle cx="606.9" cy="142.1" r="0.9"/><circle cx="601.6" cy="147.2" r="0.9"/><circle cx="607.8" cy="158.2" r="0.9"/><circle cx="608.0" cy="149.0" r="0.9"/><circle cx="600.3" cy="133.9" r="0.9"/><circle cx="608.8" cy="150.4" r="0.9"/><circle cx="600.7" cy="148.7" r="0.9"/><circle cx="600.4" cy="133.0" r="0.9"/><circle cx="591.8" cy="150.9" r="0.9"/><circle cx="606.9" cy="150.1" r="0.9"/><circle cx="603.0" cy="147.2" r="0.9"/><circle cx="601.0" cy="136.0" r="0.9"/><circle cx="609.9" cy="154.9" r="0.9"/><circle cx="597.9" cy="158.7" r="0.9"/><circle cx="601.7" cy="140.7" r="0.9"/><circle cx="594.7" cy="148.2" r="0.9"/><circle cx="598.8" cy="153.3" r="0.9"/><circle cx="604.5" cy="130.8" r="0.9"/><circle cx="602.2" cy="131.4" r="0.9"/><circle cx="595.9" cy="148.6" r="0.9"/><circle cx="602.0" cy="87.4" r="0.9"/><circle cx="603.1" cy="135.1" r="0.9"/><circle cx="600.2" cy="141.6" r="0.9"/><circle cx="611.1" cy="153.5" r="0.9"/><circle cx="600.3" cy="163.1" r="0.9"/><circle cx="605.8" cy="143.9" r="0.9"/><circle cx="603.4" cy="142.0" r="0.9"/><circle cx="609.6" cy="152.5" r="0.9"/><circle cx="598.8" cy="150.4" r="0.9"/><circle cx="596.8" cy="147.7" r="0.9"/><circle cx="594.7" cy="154.2" r="0.9"/><circle cx="603.5" cy="143.3" r="0.9"/><circle cx="596.3" cy="147.9" r="0.9"/><circle cx="593.2" cy="151.9" r="0.9"/><circle cx="606.2" cy="158.1" r="0.9"/><circle cx="609.0" cy="148.2" r="0.9"/><circle cx="610.4" cy="153.0" r="0.9"/><circle cx="605.5" cy="142.4" r="0.9"/><circle cx="603.5" cy="155.9" r="0.9"/><circle cx="610.8" cy="151.8" r="0.9"/><circle cx="606.7" cy="155.1" r="0.9"/><circle cx="603.5" cy="151.5" r="0.9"/><circle cx="601.3" cy="147.4" r="0.9"/><circle cx="595.5" cy="158.2" r="0.9"/><circle cx="596.4" cy="160.0" r="0.9"/><circle cx="596.4" cy="150.3" r="0.9"/><circle cx="601.3" cy="155.0" r="0.9"/><circle cx="595.4" cy="149.8" r="0.9"/><circle cx="607.8" cy="156.1" r="0.9"/><circle cx="603.3" cy="158.4" r="0.9"/><circle cx="606.5" cy="148.7" r="0.9"/><circle cx="604.8" cy="128.5" r="0.9"/><circle cx="600.4" cy="132.6" r="0.9"/><circle cx="609.2" cy="149.5" r="0.9"/><circle cx="612.7" cy="151.7" r="0.9"/><circle cx="598.9" cy="159.6" r="0.9"/><circle cx="593.6" cy="153.7" r="0.9"/><circle cx="609.1" cy="153.1" r="0.9"/><circle cx="602.6" cy="125.2" r="0.9"/><circle cx="605.7" cy="157.8" r="0.9"/><circle cx="602.0" cy="123.6" r="0.9"/><circle cx="604.5" cy="150.4" r="0.9"/><circle cx="593.3" cy="151.1" r="0.9"/><circle cx="596.1" cy="154.0" r="0.9"/><circle cx="602.0" cy="120.0" r="0.9"/><circle cx="607.8" cy="155.5" r="0.9"/><circle cx="597.1" cy="147.6" r="0.9"/><circle cx="609.9" cy="149.6" r="0.9"/><circle cx="591.4" cy="155.0" r="0.9"/><circle cx="613.0" cy="154.6" r="0.9"/><circle cx="602.0" cy="94.1" r="0.9"/><circle cx="603.1" cy="138.4" r="0.9"/><circle cx="605.3" cy="142.1" r="0.9"/><circle cx="604.9" cy="130.0" r="0.9"/><circle cx="601.8" cy="158.5" r="0.9"/><circle cx="604.2" cy="143.1" r="0.9"/><circle cx="600.4" cy="141.5" r="0.9"/><circle cx="609.9" cy="154.6" r="0.9"/><circle cx="593.2" cy="150.7" r="0.9"/><circle cx="602.5" cy="117.1" r="0.9"/><circle cx="604.3" cy="152.9" r="0.9"/><circle cx="598.3" cy="140.6" r="0.9"/><circle cx="607.4" cy="156.2" r="0.9"/><circle cx="600.1" cy="144.3" r="0.9"/><circle cx="592.3" cy="153.8" r="0.9"/><circle cx="597.8" cy="149.7" r="0.9"/><circle cx="591.3" cy="152.1" r="0.9"/><circle cx="600.8" cy="132.5" r="0.9"/><circle cx="604.1" cy="141.7" r="0.9"/><circle cx="611.0" cy="149.9" r="0.9"/><circle cx="603.5" cy="143.6" r="0.9"/><circle cx="610.3" cy="151.2" r="0.9"/><circle cx="603.6" cy="137.4" r="0.9"/><circle cx="607.1" cy="154.0" r="0.9"/><circle cx="600.1" cy="148.5" r="0.9"/><circle cx="599.1" cy="147.1" r="0.9"/><circle cx="594.3" cy="151.9" r="0.9"/><circle cx="602.5" cy="160.3" r="0.9"/><circle cx="598.7" cy="156.0" r="0.9"/><circle cx="604.9" cy="145.2" r="0.9"/><circle cx="598.1" cy="154.8" r="0.9"/><circle cx="602.9" cy="140.9" r="0.9"/><circle cx="603.0" cy="149.8" r="0.9"/><circle cx="602.5" cy="122.3" r="0.9"/><circle cx="600.0" cy="134.2" r="0.9"/><circle cx="599.8" cy="142.3" r="0.9"/><circle cx="606.5" cy="152.1" r="0.9"/><circle cx="600.4" cy="160.4" r="0.9"/><circle cx="605.3" cy="148.1" r="0.9"/><circle cx="606.3" cy="141.6" r="0.9"/><circle cx="601.5" cy="128.7" r="0.9"/><circle cx="612.8" cy="155.0" r="0.9"/><circle cx="603.6" cy="156.4" r="0.9"/><circle cx="602.6" cy="105.0" r="0.9"/><circle cx="602.4" cy="141.9" r="0.9"/><circle cx="608.0" cy="150.3" r="0.9"/><circle cx="603.8" cy="141.9" r="0.9"/><circle cx="598.6" cy="156.7" r="0.9"/><circle cx="602.5" cy="148.5" r="0.9"/><circle cx="603.1" cy="144.3" r="0.9"/><circle cx="601.7" cy="146.5" r="0.9"/><circle cx="604.1" cy="156.3" r="0.9"/><circle cx="607.0" cy="157.2" r="0.9"/><circle cx="605.5" cy="145.8" r="0.9"/><circle cx="604.0" cy="131.4" r="0.9"/><circle cx="598.0" cy="157.1" r="0.9"/><circle cx="603.1" cy="163.4" r="0.9"/><circle cx="604.0" cy="159.0" r="0.9"/><circle cx="603.5" cy="138.9" r="0.9"/><circle cx="590.8" cy="151.8" r="0.9"/><circle cx="594.7" cy="150.7" r="0.9"/><circle cx="602.6" cy="75.1" r="0.9"/><circle cx="600.6" cy="146.2" r="0.9"/><circle cx="606.9" cy="153.9" r="0.9"/><circle cx="603.1" cy="143.2" r="0.9"/><circle cx="601.8" cy="163.8" r="0.9"/><circle cx="600.8" cy="153.6" r="0.9"/><circle cx="602.8" cy="143.2" r="0.9"/><circle cx="607.9" cy="156.0" r="0.9"/><circle cx="602.4" cy="161.1" r="0.9"/><circle cx="607.4" cy="149.4" r="0.9"/><circle cx="597.7" cy="152.9" r="0.9"/><circle cx="602.4" cy="117.9" r="0.9"/><circle cx="603.7" cy="158.4" r="0.9"/><circle cx="603.2" cy="137.6" r="0.9"/><circle cx="610.9" cy="151.9" r="0.9"/><circle cx="600.4" cy="137.3" r="0.9"/><circle cx="612.9" cy="150.9" r="0.9"/><circle cx="603.4" cy="144.3" r="0.9"/><circle cx="596.7" cy="152.9" r="0.9"/><circle cx="601.4" cy="154.6" r="0.9"/><circle cx="592.9" cy="150.8" r="0.9"/><circle cx="601.1" cy="137.7" r="0.9"/><circle cx="610.0" cy="152.6" r="0.9"/><circle cx="607.1" cy="154.5" r="0.9"/><circle cx="610.6" cy="151.4" r="0.9"/><circle cx="597.4" cy="158.6" r="0.9"/><circle cx="593.2" cy="153.1" r="0.9"/><circle cx="600.7" cy="147.5" r="0.9"/><circle cx="602.1" cy="148.5" r="0.9"/><circle cx="604.8" cy="146.7" r="0.9"/><circle cx="597.6" cy="153.5" r="0.9"/><circle cx="603.7" cy="161.8" r="0.9"/><circle cx="602.7" cy="161.7" r="0.9"/><circle cx="597.3" cy="152.7" r="0.9"/><circle cx="608.8" cy="155.1" r="0.9"/><circle cx="596.9" cy="147.7" r="0.9"/><circle cx="604.3" cy="153.9" r="0.9"/><circle cx="599.4" cy="140.6" r="0.9"/><circle cx="596.5" cy="146.6" r="0.9"/><circle cx="602.0" cy="144.5" r="0.9"/><circle cx="602.4" cy="142.0" r="0.9"/><circle cx="604.2" cy="149.3" r="0.9"/><circle cx="599.3" cy="151.2" r="0.9"/><circle cx="612.1" cy="153.2" r="0.9"/><circle cx="606.2" cy="159.7" r="0.9"/><circle cx="601.2" cy="138.2" r="0.9"/><circle cx="593.3" cy="150.0" r="0.9"/><circle cx="608.7" cy="158.4" r="0.9"/><circle cx="601.6" cy="128.3" r="0.9"/><circle cx="597.3" cy="147.2" r="0.9"/><circle cx="598.6" cy="145.8" r="0.9"/><circle cx="606.8" cy="151.0" r="0.9"/><circle cx="598.4" cy="157.5" r="0.9"/><circle cx="602.1" cy="63.0" r="0.9"/><circle cx="604.3" cy="156.1" r="0.9"/><circle cx="598.8" cy="152.2" r="0.9"/><circle cx="602.3" cy="63.5" r="0.9"/><circle cx="607.5" cy="157.7" r="0.9"/><circle cx="608.9" cy="150.0" r="0.9"/><circle cx="605.1" cy="150.3" r="0.9"/><circle cx="605.1" cy="154.2" r="0.9"/><circle cx="600.9" cy="128.4" r="0.9"/><circle cx="605.4" cy="151.4" r="0.9"/><circle cx="602.8" cy="163.0" r="0.9"/><circle cx="604.2" cy="150.4" r="0.9"/><circle cx="602.2" cy="163.6" r="0.9"/><circle cx="604.7" cy="142.9" r="0.9"/><circle cx="600.3" cy="132.6" r="0.9"/><circle cx="603.6" cy="129.8" r="0.9"/><circle cx="605.2" cy="160.2" r="0.9"/><circle cx="597.0" cy="144.0" r="0.9"/><circle cx="596.5" cy="153.3" r="0.9"/><circle cx="613.4" cy="150.5" r="0.9"/><circle cx="592.6" cy="153.3" r="0.9"/><circle cx="609.5" cy="153.2" r="0.9"/><circle cx="603.2" cy="157.3" r="0.9"/><circle cx="597.4" cy="145.7" r="0.9"/><circle cx="604.0" cy="158.8" r="0.9"/><circle cx="601.6" cy="119.6" r="0.9"/><circle cx="604.4" cy="160.4" r="0.9"/><circle cx="601.9" cy="119.7" r="0.9"/><circle cx="612.0" cy="155.3" r="0.9"/><circle cx="607.8" cy="159.0" r="0.9"/><circle cx="599.0" cy="141.7" r="0.9"/><circle cx="600.4" cy="148.9" r="0.9"/><circle cx="599.1" cy="140.1" r="0.9"/><circle cx="606.9" cy="149.7" r="0.9"/><circle cx="597.7" cy="145.6" r="0.9"/><circle cx="596.2" cy="159.0" r="0.9"/><circle cx="597.9" cy="144.1" r="0.9"/><circle cx="608.7" cy="149.6" r="0.9"/><circle cx="601.5" cy="120.1" r="0.9"/><circle cx="601.4" cy="163.5" r="0.9"/><circle cx="601.4" cy="159.5" r="0.9"/><circle cx="602.8" cy="144.0" r="0.9"/><circle cx="601.6" cy="128.3" r="0.9"/><circle cx="612.5" cy="151.3" r="0.9"/><circle cx="600.6" cy="142.8" r="0.9"/><circle cx="601.9" cy="147.9" r="0.9"/><circle cx="610.5" cy="151.8" r="0.9"/><circle cx="596.3" cy="150.6" r="0.9"/><circle cx="598.1" cy="146.5" r="0.9"/><circle cx="604.3" cy="161.5" r="0.9"/><circle cx="598.0" cy="153.2" r="0.9"/><circle cx="605.7" cy="141.9" r="0.9"/><circle cx="609.6" cy="154.0" r="0.9"/><circle cx="599.3" cy="150.4" r="0.9"/><circle cx="598.4" cy="154.1" r="0.9"/><circle cx="593.0" cy="152.4" r="0.9"/><circle cx="606.4" cy="144.9" r="0.9"/><circle cx="601.7" cy="141.7" r="0.9"/><circle cx="601.8" cy="121.4" r="0.9"/><circle cx="594.8" cy="150.4" r="0.9"/><circle cx="595.9" cy="155.0" r="0.9"/><circle cx="610.8" cy="152.7" r="0.9"/><circle cx="597.0" cy="159.9" r="0.9"/><circle cx="603.5" cy="154.3" r="0.9"/><circle cx="603.8" cy="147.1" r="0.9"/><circle cx="602.5" cy="146.2" r="0.9"/><circle cx="602.3" cy="154.3" r="0.9"/><circle cx="599.8" cy="155.6" r="0.9"/><circle cx="597.8" cy="158.5" r="0.9"/><circle cx="609.6" cy="155.7" r="0.9"/><circle cx="609.4" cy="150.0" r="0.9"/><circle cx="603.7" cy="154.1" r="0.9"/><circle cx="600.7" cy="131.5" r="0.9"/><circle cx="607.3" cy="147.8" r="0.9"/><circle cx="595.3" cy="152.7" r="0.9"/><circle cx="594.6" cy="151.1" r="0.9"/><circle cx="603.0" cy="160.5" r="0.9"/><circle cx="605.5" cy="142.1" r="0.9"/><circle cx="602.8" cy="141.4" r="0.9"/><circle cx="593.2" cy="152.3" r="0.9"/><circle cx="606.9" cy="142.3" r="0.9"/><circle cx="594.3" cy="153.8" r="0.9"/><circle cx="598.6" cy="154.7" r="0.9"/><circle cx="613.4" cy="154.5" r="0.9"/><circle cx="608.9" cy="155.1" r="0.9"/><circle cx="605.4" cy="146.4" r="0.9"/><circle cx="597.5" cy="145.2" r="0.9"/><circle cx="605.7" cy="142.3" r="0.9"/><circle cx="600.8" cy="158.3" r="0.9"/><circle cx="597.9" cy="140.3" r="0.9"/><circle cx="608.8" cy="150.4" r="0.9"/><circle cx="612.1" cy="152.0" r="0.9"/><circle cx="594.0" cy="149.9" r="0.9"/><circle cx="601.1" cy="151.1" r="0.9"/><circle cx="611.4" cy="155.0" r="0.9"/><circle cx="598.3" cy="151.7" r="0.9"/><circle cx="600.0" cy="145.0" r="0.9"/><circle cx="604.9" cy="142.7" r="0.9"/><circle cx="601.8" cy="129.1" r="0.9"/><circle cx="613.7" cy="155.2" r="0.9"/><circle cx="604.3" cy="130.9" r="0.9"/><circle cx="603.7" cy="137.7" r="0.9"/><circle cx="604.2" cy="142.8" r="0.9"/><circle cx="601.9" cy="107.1" r="0.9"/><circle cx="604.4" cy="157.1" r="0.9"/><circle cx="602.4" cy="139.5" r="0.9"/><circle cx="602.1" cy="130.3" r="0.9"/><circle cx="603.0" cy="157.7" r="0.9"/><circle cx="599.8" cy="146.8" r="0.9"/><circle cx="601.6" cy="123.8" r="0.9"/><circle cx="611.7" cy="153.4" r="0.9"/><circle cx="601.3" cy="133.6" r="0.9"/><circle cx="599.6" cy="129.8" r="0.9"/><circle cx="613.2" cy="151.1" r="0.9"/><circle cx="602.3" cy="156.9" r="0.9"/><circle cx="606.2" cy="154.7" r="0.9"/><circle cx="601.2" cy="135.5" r="0.9"/><circle cx="594.1" cy="151.3" r="0.9"/><circle cx="598.3" cy="153.1" r="0.9"/><circle cx="609.9" cy="151.0" r="0.9"/><circle cx="600.7" cy="128.1" r="0.9"/><circle cx="611.7" cy="154.1" r="0.9"/><circle cx="601.4" cy="162.4" r="0.9"/><circle cx="603.0" cy="123.3" r="0.9"/><circle cx="594.8" cy="153.1" r="0.9"/><circle cx="600.9" cy="151.9" r="0.9"/><circle cx="601.9" cy="115.1" r="0.9"/><circle cx="594.1" cy="153.6" r="0.9"/><circle cx="602.5" cy="158.9" r="0.9"/><circle cx="601.4" cy="131.2" r="0.9"/><circle cx="603.1" cy="154.3" r="0.9"/><circle cx="595.7" cy="154.6" r="0.9"/><circle cx="601.8" cy="126.1" r="0.9"/><circle cx="598.1" cy="154.5" r="0.9"/><circle cx="604.6" cy="130.2" r="0.9"/><circle cx="592.6" cy="152.8" r="0.9"/><circle cx="600.3" cy="153.3" r="0.9"/><circle cx="610.4" cy="154.7" r="0.9"/><circle cx="603.5" cy="148.6" r="0.9"/><circle cx="599.1" cy="148.0" r="0.9"/><circle cx="613.6" cy="151.7" r="0.9"/><circle cx="595.1" cy="149.7" r="0.9"/></g>
<g fill="#f2c200" opacity="1.0"><circle cx="634.6" cy="162.2" r="0.9"/><circle cx="639.5" cy="166.0" r="0.9"/><circle cx="634.5" cy="155.6" r="0.9"/><circle cx="641.7" cy="138.2" r="0.9"/><circle cx="635.9" cy="159.2" r="0.9"/><circle cx="640.4" cy="159.1" r="0.9"/><circle cx="637.9" cy="143.5" r="0.9"/><circle cx="645.0" cy="163.4" r="0.9"/><circle cx="640.8" cy="166.0" r="0.9"/><circle cx="634.5" cy="149.9" r="0.9"/><circle cx="643.5" cy="163.2" r="0.9"/><circle cx="644.2" cy="153.5" r="0.9"/><circle cx="633.1" cy="162.1" r="0.9"/><circle cx="632.2" cy="151.6" r="0.9"/><circle cx="644.0" cy="138.9" r="0.9"/><circle cx="647.7" cy="155.3" r="0.9"/><circle cx="631.0" cy="159.4" r="0.9"/><circle cx="643.9" cy="151.0" r="0.9"/><circle cx="644.0" cy="149.0" r="0.9"/><circle cx="633.7" cy="163.9" r="0.9"/><circle cx="644.0" cy="160.1" r="0.9"/><circle cx="634.3" cy="157.0" r="0.9"/><circle cx="644.1" cy="154.0" r="0.9"/><circle cx="638.6" cy="159.4" r="0.9"/><circle cx="637.8" cy="150.1" r="0.9"/><circle cx="630.9" cy="159.8" r="0.9"/><circle cx="638.8" cy="134.2" r="0.9"/><circle cx="642.4" cy="157.6" r="0.9"/><circle cx="634.2" cy="160.5" r="0.9"/><circle cx="629.3" cy="163.4" r="0.9"/><circle cx="630.2" cy="162.4" r="0.9"/><circle cx="633.6" cy="160.6" r="0.9"/><circle cx="640.6" cy="136.1" r="0.9"/><circle cx="643.3" cy="156.1" r="0.9"/><circle cx="646.3" cy="155.5" r="0.9"/><circle cx="639.1" cy="121.1" r="0.9"/><circle cx="637.9" cy="116.2" r="0.9"/><circle cx="637.6" cy="146.3" r="0.9"/><circle cx="647.4" cy="160.1" r="0.9"/><circle cx="645.4" cy="158.1" r="0.9"/><circle cx="648.2" cy="154.1" r="0.9"/><circle cx="644.8" cy="159.7" r="0.9"/><circle cx="642.6" cy="157.7" r="0.9"/><circle cx="643.7" cy="160.7" r="0.9"/><circle cx="646.7" cy="160.1" r="0.9"/><circle cx="637.9" cy="147.7" r="0.9"/><circle cx="629.1" cy="151.5" r="0.9"/><circle cx="634.6" cy="155.4" r="0.9"/><circle cx="628.7" cy="154.8" r="0.9"/><circle cx="633.9" cy="151.3" r="0.9"/><circle cx="639.6" cy="149.4" r="0.9"/><circle cx="636.4" cy="165.6" r="0.9"/><circle cx="635.1" cy="139.6" r="0.9"/><circle cx="630.3" cy="155.1" r="0.9"/><circle cx="635.6" cy="157.8" r="0.9"/><circle cx="638.4" cy="121.5" r="0.9"/><circle cx="639.1" cy="147.1" r="0.9"/><circle cx="647.3" cy="157.6" r="0.9"/><circle cx="634.7" cy="165.5" r="0.9"/><circle cx="633.5" cy="155.6" r="0.9"/><circle cx="629.9" cy="155.6" r="0.9"/><circle cx="647.0" cy="157.1" r="0.9"/><circle cx="641.0" cy="163.0" r="0.9"/><circle cx="640.4" cy="152.2" r="0.9"/><circle cx="644.7" cy="159.8" r="0.9"/><circle cx="634.8" cy="146.7" r="0.9"/><circle cx="643.7" cy="153.5" r="0.9"/><circle cx="635.0" cy="158.9" r="0.9"/><circle cx="639.1" cy="141.1" r="0.9"/><circle cx="636.5" cy="155.4" r="0.9"/><circle cx="643.3" cy="163.3" r="0.9"/><circle cx="634.4" cy="159.2" r="0.9"/><circle cx="634.0" cy="163.9" r="0.9"/><circle cx="633.4" cy="155.8" r="0.9"/><circle cx="639.1" cy="133.9" r="0.9"/><circle cx="638.3" cy="128.2" r="0.9"/><circle cx="631.5" cy="150.2" r="0.9"/><circle cx="635.5" cy="161.9" r="0.9"/><circle cx="639.8" cy="160.1" r="0.9"/><circle cx="635.8" cy="160.9" r="0.9"/><circle cx="640.2" cy="157.1" r="0.9"/><circle cx="645.3" cy="150.6" r="0.9"/><circle cx="639.6" cy="165.7" r="0.9"/><circle cx="644.4" cy="154.4" r="0.9"/><circle cx="634.5" cy="155.9" r="0.9"/><circle cx="645.8" cy="150.0" r="0.9"/><circle cx="641.0" cy="141.0" r="0.9"/><circle cx="639.0" cy="156.6" r="0.9"/><circle cx="628.9" cy="151.5" r="0.9"/><circle cx="630.1" cy="159.4" r="0.9"/><circle cx="643.5" cy="155.2" r="0.9"/><circle cx="645.7" cy="150.7" r="0.9"/><circle cx="642.9" cy="164.0" r="0.9"/><circle cx="638.5" cy="153.8" r="0.9"/><circle cx="639.2" cy="154.1" r="0.9"/><circle cx="630.7" cy="161.3" r="0.9"/><circle cx="640.4" cy="159.9" r="0.9"/><circle cx="641.3" cy="141.2" r="0.9"/><circle cx="632.5" cy="157.6" r="0.9"/><circle cx="640.6" cy="161.1" r="0.9"/><circle cx="645.4" cy="159.1" r="0.9"/><circle cx="640.4" cy="153.6" r="0.9"/><circle cx="635.4" cy="156.5" r="0.9"/><circle cx="633.2" cy="157.6" r="0.9"/><circle cx="643.1" cy="158.2" r="0.9"/><circle cx="647.0" cy="160.6" r="0.9"/><circle cx="646.0" cy="154.1" r="0.9"/><circle cx="636.4" cy="151.6" r="0.9"/><circle cx="643.3" cy="163.2" r="0.9"/><circle cx="644.6" cy="151.8" r="0.9"/><circle cx="635.9" cy="158.6" r="0.9"/><circle cx="639.1" cy="107.5" r="0.9"/><circle cx="638.1" cy="129.1" r="0.9"/><circle cx="632.4" cy="162.3" r="0.9"/><circle cx="631.9" cy="149.1" r="0.9"/><circle cx="642.9" cy="157.7" r="0.9"/><circle cx="643.5" cy="162.7" r="0.9"/><circle cx="636.4" cy="136.7" r="0.9"/><circle cx="637.1" cy="133.9" r="0.9"/><circle cx="637.9" cy="144.5" r="0.9"/><circle cx="632.6" cy="150.6" r="0.9"/><circle cx="639.1" cy="107.9" r="0.9"/><circle cx="634.3" cy="152.8" r="0.9"/><circle cx="639.5" cy="149.6" r="0.9"/><circle cx="639.4" cy="150.2" r="0.9"/><circle cx="636.4" cy="138.2" r="0.9"/><circle cx="643.0" cy="138.5" r="0.9"/><circle cx="637.1" cy="158.7" r="0.9"/><circle cx="638.6" cy="160.8" r="0.9"/><circle cx="640.6" cy="153.0" r="0.9"/><circle cx="636.5" cy="151.9" r="0.9"/><circle cx="632.1" cy="157.5" r="0.9"/><circle cx="644.3" cy="138.0" r="0.9"/><circle cx="641.7" cy="139.1" r="0.9"/><circle cx="639.0" cy="149.3" r="0.9"/><circle cx="638.3" cy="153.3" r="0.9"/><circle cx="639.9" cy="149.1" r="0.9"/><circle cx="634.3" cy="161.0" r="0.9"/><circle cx="637.2" cy="142.7" r="0.9"/><circle cx="639.3" cy="162.4" r="0.9"/><circle cx="639.6" cy="134.3" r="0.9"/><circle cx="630.4" cy="150.9" r="0.9"/><circle cx="648.0" cy="159.3" r="0.9"/><circle cx="635.9" cy="161.1" r="0.9"/><circle cx="648.4" cy="151.6" r="0.9"/><circle cx="643.8" cy="155.0" r="0.9"/><circle cx="635.4" cy="149.1" r="0.9"/><circle cx="632.7" cy="163.0" r="0.9"/><circle cx="640.1" cy="136.8" r="0.9"/><circle cx="648.0" cy="155.8" r="0.9"/><circle cx="644.5" cy="155.6" r="0.9"/><circle cx="639.0" cy="148.0" r="0.9"/><circle cx="639.3" cy="151.4" r="0.9"/><circle cx="644.0" cy="155.5" r="0.9"/><circle cx="644.9" cy="158.9" r="0.9"/><circle cx="645.1" cy="155.0" r="0.9"/><circle cx="636.6" cy="165.1" r="0.9"/><circle cx="644.9" cy="159.8" r="0.9"/><circle cx="641.0" cy="141.1" r="0.9"/><circle cx="639.9" cy="162.6" r="0.9"/><circle cx="628.6" cy="163.3" r="0.9"/><circle cx="634.3" cy="139.1" r="0.9"/><circle cx="641.4" cy="157.1" r="0.9"/><circle cx="637.4" cy="153.4" r="0.9"/><circle cx="646.8" cy="151.9" r="0.9"/><circle cx="640.3" cy="148.5" r="0.9"/><circle cx="642.4" cy="158.3" r="0.9"/><circle cx="637.4" cy="146.0" r="0.9"/><circle cx="638.4" cy="167.0" r="0.9"/><circle cx="641.2" cy="139.2" r="0.9"/></g>
<g fill="#8a8a8a"><circle cx="527.7" cy="66.2" r="0.9"/><circle cx="529.5" cy="66.6" r="0.9"/><circle cx="531.5" cy="66.2" r="0.9"/><circle cx="533.5" cy="66.6" r="0.9"/><circle cx="528.7" cy="64.8" r="0.9"/><circle cx="532.5" cy="64.9" r="0.9"/></g>
<g stroke="#111" stroke-width="1.8" fill="none"><line x1="530.7" y1="71.7" x2="530.7" y2="124.6"/><line x1="530.7" y1="150" x2="530.7" y2="159.9"/><line x1="525.1" y1="71.7" x2="536.3000000000001" y2="71.7"/><line x1="525.1" y1="159.9" x2="536.3000000000001" y2="159.9"/><rect x="520.1" y="124.6" width="21.2" height="25.400000000000006"/><line x1="520.1" y1="141" x2="541.3000000000001" y2="141"/></g>
<g stroke="#9c9838" stroke-width="1.6" fill="none"><line x1="566.7" y1="90.3" x2="566.7" y2="145"/><line x1="566.7" y1="161.3" x2="566.7" y2="168.3"/><line x1="560.4000000000001" y1="90.3" x2="573.0" y2="90.3"/><line x1="560.4000000000001" y1="168.3" x2="573.0" y2="168.3"/><rect x="555.9000000000001" y="145" width="21.6" height="16.30000000000001"/><line x1="555.9000000000001" y1="154.8" x2="577.5" y2="154.8"/></g>
<g stroke="#111" stroke-width="1.8" fill="none"><line x1="602.2" y1="116.8" x2="602.2" y2="141.5"/><line x1="602.2" y1="154.8" x2="602.2" y2="161.3"/><line x1="595.7" y1="116.8" x2="608.7" y2="116.8"/><line x1="595.7" y1="161.3" x2="608.7" y2="161.3"/><rect x="590.9000000000001" y="141.5" width="22.6" height="13.300000000000011"/><line x1="590.9000000000001" y1="150" x2="613.5" y2="150"/></g>
<g stroke="#9c9838" stroke-width="1.6" fill="none"><line x1="638.4" y1="121.3" x2="638.4" y2="147.7"/><line x1="638.4" y1="159.9" x2="638.4" y2="164"/><line x1="631.8" y1="121.3" x2="645.0" y2="121.3"/><line x1="631.8" y1="164" x2="645.0" y2="164"/><rect x="626.9" y="147.7" width="23.0" height="12.200000000000017"/><line x1="626.9" y1="154.2" x2="649.9" y2="154.2"/></g>
<line x1="355.1" y1="240" x2="355.1" y2="410" stroke="#1a1a1a" stroke-width="1.8" />
<line x1="347.3" y1="410" x2="468.9" y2="410" stroke="#1a1a1a" stroke-width="1.8" />
<line x1="349.5" y1="409.8" x2="355.1" y2="409.8" stroke="#1a1a1a" stroke-width="1.5" />
<text x="345.6" y="414.7" font-size="11" fill="#1a1a1a" font-weight="400" text-anchor="end"  style="">0</text>
<line x1="349.5" y1="375.93" x2="355.1" y2="375.93" stroke="#1a1a1a" stroke-width="1.5" />
<text x="345.6" y="380.83" font-size="11" fill="#1a1a1a" font-weight="400" text-anchor="end"  style="">10</text>
<line x1="349.5" y1="342.06" x2="355.1" y2="342.06" stroke="#1a1a1a" stroke-width="1.5" />
<text x="345.6" y="346.96" font-size="11" fill="#1a1a1a" font-weight="400" text-anchor="end"  style="">20</text>
<line x1="349.5" y1="308.19" x2="355.1" y2="308.19" stroke="#1a1a1a" stroke-width="1.5" />
<text x="345.6" y="313.09" font-size="11" fill="#1a1a1a" font-weight="400" text-anchor="end"  style="">30</text>
<line x1="349.5" y1="274.32000000000005" x2="355.1" y2="274.32000000000005" stroke="#1a1a1a" stroke-width="1.5" />
<text x="345.6" y="279.22" font-size="11" fill="#1a1a1a" font-weight="400" text-anchor="end"  style="">40</text>
<line x1="349.5" y1="240.45000000000002" x2="355.1" y2="240.45000000000002" stroke="#1a1a1a" stroke-width="1.5" />
<text x="345.6" y="245.35000000000002" font-size="11" fill="#1a1a1a" font-weight="400" text-anchor="end"  style="">50</text>
<line x1="372.8" y1="410" x2="372.8" y2="416.5" stroke="#1a1a1a" stroke-width="1.5" />
<line x1="399.2" y1="410" x2="399.2" y2="416.5" stroke="#1a1a1a" stroke-width="1.5" />
<line x1="424.8" y1="410" x2="424.8" y2="416.5" stroke="#1a1a1a" stroke-width="1.5" />
<line x1="451.2" y1="410" x2="451.2" y2="416.5" stroke="#1a1a1a" stroke-width="1.5" />
<text x="0" y="0" font-size="10.8" fill="#1a1a1a" font-weight="400" text-anchor="middle" transform="translate(312.7 326.4) rotate(-90)" textLength="117.5" lengthAdjust="spacingAndGlyphs" style="">Smc5/6 junction encounter</text>
<text x="0" y="0" font-size="10.8" fill="#1a1a1a" font-weight="400" text-anchor="middle" transform="translate(329.2 325.6) rotate(-90)" textLength="90" lengthAdjust="spacingAndGlyphs" style="">frequency (per 100s)</text>
<text x="312.9" y="428.6" font-size="11" fill="#1a1a1a" font-weight="400" text-anchor="start"  style="">+RPA</text>
<text x="312.9" y="441.5" font-size="11" fill="#1a1a1a" font-weight="400" text-anchor="start"  style="">+ATP</text>
<text x="0" y="0" font-size="11.6" fill="#111" font-weight="700" text-anchor="end" transform="translate(378.3 422.2) rotate(-45)" style="">8-mer</text>
<text x="0" y="0" font-size="11.6" fill="#ef4a9c" font-weight="700" text-anchor="end" transform="translate(404.7 422.2) rotate(-45)" style="">6-mer</text>
<text x="0" y="0" font-size="11.6" fill="#111" font-weight="700" text-anchor="end" transform="translate(430.3 422.2) rotate(-45)" style="">8-mer</text>
<text x="0" y="0" font-size="11.6" fill="#ef4a9c" font-weight="700" text-anchor="end" transform="translate(456.7 422.2) rotate(-45)" style="">6-mer</text>
<line x1="349.4" y1="448.7" x2="385.8" y2="448.7" stroke="#f08c23" stroke-width="2.6" />
<line x1="400.1" y1="448.7" x2="436.3" y2="448.7" stroke="#2b7bc4" stroke-width="2.6" />
<text x="369.4" y="460.3" font-size="11" fill="#f08c23" font-weight="700" text-anchor="middle"  style="">3’</text>
<text x="420" y="460.3" font-size="11" fill="#2b7bc4" font-weight="700" text-anchor="middle"  style="">5’</text>
<path d="M370.8 349 L370.8 249.7 L397.7 249.7 L397.7 257.4" stroke="#3a3a3a" stroke-width="0.9" fill="none" />
<text x="366.4" y="246.8" font-size="8.5" fill="#2a2a2a" textLength="38.6" lengthAdjust="spacingAndGlyphs"><tspan font-style="italic">P</tspan> &lt; 0.0001</text>
<path d="M424.6 314.6 L424.6 249.7 L451.2 249.7 L451.2 255.3" stroke="#3a3a3a" stroke-width="0.9" fill="none" />
<text x="420.4" y="246.8" font-size="8.5" fill="#2a2a2a" textLength="38.6" lengthAdjust="spacingAndGlyphs"><tspan font-style="italic">P</tspan> &lt; 0.0001</text>
<g fill="#8c8c8c" opacity="0.75"><circle cx="370.5" cy="409.4" r="1.75"/><circle cx="375.7" cy="409.1" r="1.75"/><circle cx="371.4" cy="409.0" r="1.75"/><circle cx="371.6" cy="408.9" r="1.75"/><circle cx="374.5" cy="408.6" r="1.75"/><circle cx="369.8" cy="407.1" r="1.75"/><circle cx="373.5" cy="406.8" r="1.75"/><circle cx="377.0" cy="405.5" r="1.75"/><circle cx="370.4" cy="405.0" r="1.75"/><circle cx="373.5" cy="404.2" r="1.75"/><circle cx="367.3" cy="404.0" r="1.75"/><circle cx="371.8" cy="401.3" r="1.75"/><circle cx="377.0" cy="401.2" r="1.75"/><circle cx="367.8" cy="400.6" r="1.75"/><circle cx="374.7" cy="400.3" r="1.75"/><circle cx="378.0" cy="398.7" r="1.75"/><circle cx="372.8" cy="395.6" r="1.75"/><circle cx="375.5" cy="392.4" r="1.75"/><circle cx="368.4" cy="392.2" r="1.75"/><circle cx="372.0" cy="391.6" r="1.75"/><circle cx="370.6" cy="391.4" r="1.75"/><circle cx="378.7" cy="390.3" r="1.75"/><circle cx="375.7" cy="384.8" r="1.75"/><circle cx="370.0" cy="384.0" r="1.75"/><circle cx="373.1" cy="382.8" r="1.75"/><circle cx="375.3" cy="381.8" r="1.75"/><circle cx="370.1" cy="380.7" r="1.75"/><circle cx="369.5" cy="376.5" r="1.75"/><circle cx="374.6" cy="376.3" r="1.75"/><circle cx="375.4" cy="375.5" r="1.75"/><circle cx="372.9" cy="372.2" r="1.75"/><circle cx="369.7" cy="370.5" r="1.75"/><circle cx="375.4" cy="368.7" r="1.75"/><circle cx="374.9" cy="364.4" r="1.75"/><circle cx="370.7" cy="353.9" r="1.75"/></g>
<g fill="#e67fb6" opacity="0.75"><circle cx="398.1" cy="402.3" r="1.75"/><circle cx="401.7" cy="401.9" r="1.75"/><circle cx="396.5" cy="401.7" r="1.75"/><circle cx="399.5" cy="398.7" r="1.75"/><circle cx="395.8" cy="396.8" r="1.75"/><circle cx="401.6" cy="392.7" r="1.75"/><circle cx="397.9" cy="388.7" r="1.75"/><circle cx="402.3" cy="386.8" r="1.75"/><circle cx="397.3" cy="381.6" r="1.75"/><circle cx="403.8" cy="381.5" r="1.75"/><circle cx="392.3" cy="381.4" r="1.75"/><circle cx="394.3" cy="381.3" r="1.75"/><circle cx="406.0" cy="372.8" r="1.75"/><circle cx="393.9" cy="372.5" r="1.75"/><circle cx="398.8" cy="372.5" r="1.75"/><circle cx="402.4" cy="371.9" r="1.75"/><circle cx="396.7" cy="368.8" r="1.75"/><circle cx="405.6" cy="365.6" r="1.75"/><circle cx="401.0" cy="365.5" r="1.75"/><circle cx="394.1" cy="364.9" r="1.75"/><circle cx="397.6" cy="364.3" r="1.75"/><circle cx="403.8" cy="364.3" r="1.75"/><circle cx="404.8" cy="363.1" r="1.75"/><circle cx="398.3" cy="362.3" r="1.75"/><circle cx="393.1" cy="360.0" r="1.75"/><circle cx="396.8" cy="358.5" r="1.75"/><circle cx="405.0" cy="356.9" r="1.75"/><circle cx="392.4" cy="354.1" r="1.75"/><circle cx="400.8" cy="353.3" r="1.75"/><circle cx="397.0" cy="353.1" r="1.75"/><circle cx="406.1" cy="344.7" r="1.75"/><circle cx="400.2" cy="343.8" r="1.75"/><circle cx="394.7" cy="343.2" r="1.75"/><circle cx="398.9" cy="339.6" r="1.75"/><circle cx="403.0" cy="339.2" r="1.75"/><circle cx="393.3" cy="337.6" r="1.75"/><circle cx="406.0" cy="336.3" r="1.75"/><circle cx="396.5" cy="336.3" r="1.75"/><circle cx="399.4" cy="333.6" r="1.75"/><circle cx="397.8" cy="325.7" r="1.75"/><circle cx="402.6" cy="313.6" r="1.75"/><circle cx="397.6" cy="310.8" r="1.75"/><circle cx="396.4" cy="292.3" r="1.75"/><circle cx="402.4" cy="290.1" r="1.75"/><circle cx="399.3" cy="287.9" r="1.75"/><circle cx="395.8" cy="264.2" r="1.75"/></g>
<g fill="#8c8c8c" opacity="0.75"><circle cx="423.8" cy="407.1" r="1.75"/><circle cx="427.2" cy="407.0" r="1.75"/><circle cx="423.9" cy="406.8" r="1.75"/><circle cx="426.8" cy="405.3" r="1.75"/><circle cx="421.4" cy="404.4" r="1.75"/><circle cx="424.2" cy="404.0" r="1.75"/><circle cx="427.9" cy="403.6" r="1.75"/><circle cx="423.5" cy="403.6" r="1.75"/><circle cx="427.3" cy="402.6" r="1.75"/><circle cx="427.7" cy="401.4" r="1.75"/><circle cx="422.7" cy="401.2" r="1.75"/><circle cx="418.8" cy="400.5" r="1.75"/><circle cx="422.6" cy="399.9" r="1.75"/><circle cx="430.8" cy="399.9" r="1.75"/><circle cx="421.5" cy="399.8" r="1.75"/><circle cx="423.1" cy="399.7" r="1.75"/><circle cx="430.5" cy="399.5" r="1.75"/><circle cx="418.6" cy="398.4" r="1.75"/><circle cx="429.9" cy="398.4" r="1.75"/><circle cx="426.5" cy="397.9" r="1.75"/><circle cx="431.2" cy="397.8" r="1.75"/><circle cx="429.4" cy="396.7" r="1.75"/><circle cx="422.2" cy="396.5" r="1.75"/><circle cx="424.9" cy="395.3" r="1.75"/><circle cx="419.2" cy="395.2" r="1.75"/><circle cx="430.7" cy="393.6" r="1.75"/><circle cx="419.4" cy="393.3" r="1.75"/><circle cx="426.3" cy="391.3" r="1.75"/><circle cx="421.2" cy="385.4" r="1.75"/><circle cx="429.3" cy="385.2" r="1.75"/><circle cx="418.6" cy="383.0" r="1.75"/><circle cx="428.1" cy="382.1" r="1.75"/><circle cx="423.6" cy="382.1" r="1.75"/><circle cx="426.8" cy="380.5" r="1.75"/><circle cx="431.1" cy="380.3" r="1.75"/><circle cx="419.3" cy="379.8" r="1.75"/><circle cx="427.4" cy="372.7" r="1.75"/><circle cx="423.1" cy="366.0" r="1.75"/><circle cx="422.8" cy="362.5" r="1.75"/><circle cx="428.3" cy="362.2" r="1.75"/><circle cx="424.6" cy="360.5" r="1.75"/><circle cx="426.7" cy="346.4" r="1.75"/><circle cx="422.3" cy="321.7" r="1.75"/></g>
<g fill="#e67fb6" opacity="0.75"><circle cx="454.5" cy="402.9" r="1.75"/><circle cx="450.9" cy="402.6" r="1.75"/><circle cx="447.5" cy="402.5" r="1.75"/><circle cx="448.6" cy="402.5" r="1.75"/><circle cx="454.2" cy="397.1" r="1.75"/><circle cx="448.9" cy="396.7" r="1.75"/><circle cx="452.0" cy="393.5" r="1.75"/><circle cx="453.9" cy="390.6" r="1.75"/><circle cx="450.2" cy="389.9" r="1.75"/><circle cx="452.6" cy="388.0" r="1.75"/><circle cx="449.4" cy="386.1" r="1.75"/><circle cx="455.0" cy="385.0" r="1.75"/><circle cx="452.0" cy="383.5" r="1.75"/><circle cx="447.8" cy="373.1" r="1.75"/><circle cx="457.2" cy="372.8" r="1.75"/><circle cx="452.2" cy="372.1" r="1.75"/><circle cx="444.3" cy="371.0" r="1.75"/><circle cx="447.6" cy="369.7" r="1.75"/><circle cx="457.7" cy="366.9" r="1.75"/><circle cx="445.2" cy="366.3" r="1.75"/><circle cx="449.6" cy="365.7" r="1.75"/><circle cx="454.7" cy="365.3" r="1.75"/><circle cx="450.8" cy="365.2" r="1.75"/><circle cx="446.9" cy="360.3" r="1.75"/><circle cx="456.2" cy="359.2" r="1.75"/><circle cx="449.4" cy="356.3" r="1.75"/><circle cx="447.9" cy="344.3" r="1.75"/><circle cx="456.8" cy="335.6" r="1.75"/><circle cx="448.8" cy="335.0" r="1.75"/><circle cx="445.7" cy="332.6" r="1.75"/><circle cx="453.5" cy="318.2" r="1.75"/><circle cx="449.2" cy="315.5" r="1.75"/><circle cx="452.5" cy="312.7" r="1.75"/><circle cx="448.0" cy="311.1" r="1.75"/><circle cx="453.7" cy="311.1" r="1.75"/><circle cx="449.6" cy="310.1" r="1.75"/><circle cx="448.7" cy="309.7" r="1.75"/><circle cx="449.0" cy="309.6" r="1.75"/><circle cx="451.0" cy="305.3" r="1.75"/><circle cx="454.3" cy="299.3" r="1.75"/><circle cx="450.7" cy="298.3" r="1.75"/><circle cx="451.8" cy="295.1" r="1.75"/><circle cx="447.5" cy="294.6" r="1.75"/><circle cx="454.8" cy="292.8" r="1.75"/><circle cx="450.2" cy="291.9" r="1.75"/><circle cx="454.1" cy="290.8" r="1.75"/><circle cx="447.7" cy="289.1" r="1.75"/><circle cx="451.6" cy="287.3" r="1.75"/><circle cx="451.8" cy="282.1" r="1.75"/><circle cx="447.8" cy="282.1" r="1.75"/><circle cx="448.9" cy="263.5" r="1.75"/></g>
<g stroke="#111" stroke-width="1.7" fill="none"><line x1="372.8" y1="364.4142" x2="372.8" y2="389.478"/><line x1="372.8" y1="405.73560000000003" x2="372.8" y2="408.7839"/><line x1="368.2" y1="364.4142" x2="377.40000000000003" y2="364.4142"/><line x1="368.2" y1="408.7839" x2="377.40000000000003" y2="408.7839"/><rect x="365.3" y="389.478" width="15.0" height="16.257600000000025"/><line x1="365.3" y1="400.6551" x2="380.3" y2="400.6551"/></g>
<g stroke="#ef4a9c" stroke-width="1.7" fill="none"><line x1="399.2" y1="287.868" x2="399.2" y2="333.2538"/><line x1="399.2" y1="383.3814" x2="399.2" y2="402.34860000000003"/><line x1="394.4" y1="287.868" x2="404.0" y2="287.868"/><line x1="394.4" y1="402.34860000000003" x2="404.0" y2="402.34860000000003"/><rect x="391.0" y="333.2538" width="16.4" height="50.12759999999997"/><line x1="391.0" y1="360.68850000000003" x2="407.4" y2="360.68850000000003"/></g>
<g stroke="#111" stroke-width="1.7" fill="none"><line x1="424.8" y1="341.0439" x2="424.8" y2="376.2687"/><line x1="424.8" y1="400.6551" x2="424.8" y2="407.0904"/><line x1="420.0" y1="341.0439" x2="429.6" y2="341.0439"/><line x1="420.0" y1="407.0904" x2="429.6" y2="407.0904"/><rect x="417.3" y="376.2687" width="15.0" height="24.38639999999998"/><line x1="417.3" y1="392.5263" x2="432.3" y2="392.5263"/></g>
<g stroke="#ef4a9c" stroke-width="1.7" fill="none"><line x1="451.2" y1="282.1101" x2="451.2" y2="322.0767"/><line x1="451.2" y1="382.02660000000003" x2="451.2" y2="403.026"/><line x1="446.4" y1="282.1101" x2="456.0" y2="282.1101"/><line x1="446.4" y1="403.026" x2="456.0" y2="403.026"/><rect x="443.2" y="322.0767" width="16" height="59.949900000000014"/><line x1="443.2" y1="358.995" x2="459.2" y2="358.995"/></g>
<line x1="538" y1="257" x2="538" y2="392.9" stroke="#1a1a1a" stroke-width="1.8" />
<line x1="531.6" y1="392.9" x2="685" y2="392.9" stroke="#1a1a1a" stroke-width="1.8" />
<line x1="531.4" y1="257.0" x2="538" y2="257.0" stroke="#1a1a1a" stroke-width="1.5" />
<text x="529.8" y="261.1" font-size="10.5" fill="#1a1a1a" font-weight="400" text-anchor="end" letter-spacing="-0.45" style="">1000</text>
<line x1="531.4" y1="286.45" x2="538" y2="286.45" stroke="#1a1a1a" stroke-width="1.5" />
<text x="529.8" y="290.55" font-size="10.5" fill="#1a1a1a" font-weight="400" text-anchor="end" letter-spacing="-0.45" style="">100</text>
<line x1="531.4" y1="315.9" x2="538" y2="315.9" stroke="#1a1a1a" stroke-width="1.5" />
<text x="529.8" y="320.0" font-size="10.5" fill="#1a1a1a" font-weight="400" text-anchor="end" letter-spacing="-0.45" style="">10</text>
<line x1="531.4" y1="345.35" x2="538" y2="345.35" stroke="#1a1a1a" stroke-width="1.5" />
<text x="529.8" y="349.45000000000005" font-size="10.5" fill="#1a1a1a" font-weight="400" text-anchor="end" letter-spacing="-0.45" style="">1</text>
<line x1="531.4" y1="374.8" x2="538" y2="374.8" stroke="#1a1a1a" stroke-width="1.5" />
<text x="529.8" y="378.90000000000003" font-size="10.5" fill="#1a1a1a" font-weight="400" text-anchor="end" letter-spacing="-0.45" style="">0.1</text>
<line x1="560.2" y1="392.9" x2="560.2" y2="399" stroke="#1a1a1a" stroke-width="1.5" />
<line x1="594.3" y1="392.9" x2="594.3" y2="399" stroke="#1a1a1a" stroke-width="1.5" />
<line x1="628.1" y1="392.9" x2="628.1" y2="399" stroke="#1a1a1a" stroke-width="1.5" />
<line x1="662.7" y1="392.9" x2="662.7" y2="399" stroke="#1a1a1a" stroke-width="1.5" />
<text x="0" y="0" font-size="11.1" fill="#1a1a1a" font-weight="400" text-anchor="middle" transform="translate(496 332) rotate(-90)" style="">Smc5/6 junction</text>
<text x="0" y="0" font-size="11.1" fill="#1a1a1a" font-weight="400" text-anchor="middle" transform="translate(507 333) rotate(-90)" style="">dwell time (s)</text>
<text x="496.6" y="407.1" font-size="11" fill="#1a1a1a" font-weight="400" text-anchor="start"  style="">+RPA</text>
<text x="496.6" y="420.3" font-size="11" fill="#1a1a1a" font-weight="400" text-anchor="start"  style="">+ATP</text>
<text x="560.2" y="409.3" font-size="11" fill="#222" font-weight="700" text-anchor="middle"  style="">8-mer</text>
<text x="594.3" y="409.3" font-size="11" fill="#ef4a9c" font-weight="700" text-anchor="middle"  style="">6-mer</text>
<text x="628.1" y="409.3" font-size="11" fill="#222" font-weight="700" text-anchor="middle"  style="">8-mer</text>
<text x="662.7" y="409.3" font-size="11" fill="#ef4a9c" font-weight="700" text-anchor="middle"  style="">6-mer</text>
<line x1="540.9" y1="415.9" x2="610.1" y2="415.9" stroke="#f08c23" stroke-width="2.6" />
<line x1="615.6" y1="415.9" x2="683.6" y2="415.9" stroke="#2b7bc4" stroke-width="2.6" />
<text x="575.7" y="431.2" font-size="11" fill="#f08c23" font-weight="700" text-anchor="middle"  style="">3’</text>
<text x="648" y="431.2" font-size="11" fill="#2b7bc4" font-weight="700" text-anchor="middle"  style="">5’</text>
<path d="M594.5 244.9 L594.5 242.2 L664.2 242.2 L664.2 267.8" stroke="#3a3a3a" stroke-width="0.9" fill="none" />
<text x="611.7" y="241.3" font-size="8.5" fill="#2a2a2a" textLength="38.6" lengthAdjust="spacingAndGlyphs"><tspan font-style="italic">P</tspan> &lt; 0.0001</text>
<path d="M555.9 270.5 L555.9 254.8 L629.1 254.8 L629.1 258.4" stroke="#3a3a3a" stroke-width="0.9" fill="none" />
<text x="595.6" y="252.4" font-size="8.5" fill="#2a2a2a" textLength="38.6" lengthAdjust="spacingAndGlyphs"><tspan font-style="italic">P</tspan> &lt; 0.0001</text>
<path d="M555.9 271 L555.9 267.8 L594.5 267.8 L594.5 271" stroke="#3a3a3a" stroke-width="0.9" fill="none" />
<text x="556.4000000000001" y="265.6" font-size="8.5" fill="#2a2a2a" textLength="38.6" lengthAdjust="spacingAndGlyphs"><tspan font-style="italic">P</tspan> &lt; 0.0001</text>
<path d="M627.7 271.9 L627.7 268.3 L664.2 268.3 L664.2 271.9" stroke="#3a3a3a" stroke-width="0.9" fill="none" />
<text x="625.3000000000001" y="267.3" font-size="8.5" fill="#2a2a2a" textLength="38.6" lengthAdjust="spacingAndGlyphs"><tspan font-style="italic">P</tspan> &lt; 0.0001</text>
<g fill="#8a8a8a" opacity="1.0"><circle cx="556.9" cy="338.0" r="0.75"/><circle cx="552.4" cy="352.2" r="0.75"/><circle cx="557.7" cy="350.2" r="0.75"/><circle cx="556.1" cy="357.7" r="0.75"/><circle cx="564.5" cy="356.6" r="0.75"/><circle cx="569.5" cy="337.3" r="0.75"/><circle cx="558.7" cy="311.5" r="0.75"/><circle cx="559.5" cy="362.2" r="0.75"/><circle cx="562.4" cy="337.1" r="0.75"/><circle cx="561.8" cy="302.9" r="0.75"/><circle cx="555.3" cy="346.1" r="0.75"/><circle cx="561.2" cy="318.6" r="0.75"/><circle cx="558.4" cy="360.2" r="0.75"/><circle cx="560.2" cy="329.9" r="0.75"/><circle cx="564.0" cy="363.7" r="0.75"/><circle cx="563.3" cy="358.5" r="0.75"/><circle cx="558.2" cy="364.3" r="0.75"/><circle cx="561.7" cy="371.6" r="0.75"/><circle cx="561.0" cy="332.5" r="0.75"/><circle cx="555.1" cy="353.7" r="0.75"/><circle cx="554.4" cy="353.2" r="0.75"/><circle cx="555.8" cy="334.5" r="0.75"/><circle cx="566.1" cy="356.7" r="0.75"/><circle cx="564.9" cy="322.3" r="0.75"/><circle cx="554.8" cy="360.0" r="0.75"/><circle cx="560.3" cy="296.7" r="0.75"/><circle cx="554.7" cy="320.9" r="0.75"/><circle cx="551.9" cy="348.9" r="0.75"/><circle cx="561.1" cy="312.6" r="0.75"/><circle cx="560.9" cy="323.7" r="0.75"/><circle cx="560.0" cy="306.4" r="0.75"/><circle cx="559.0" cy="355.4" r="0.75"/><circle cx="559.3" cy="351.6" r="0.75"/><circle cx="557.9" cy="355.1" r="0.75"/><circle cx="556.1" cy="350.6" r="0.75"/><circle cx="567.2" cy="345.5" r="0.75"/><circle cx="554.7" cy="322.3" r="0.75"/><circle cx="561.9" cy="354.3" r="0.75"/><circle cx="555.0" cy="345.4" r="0.75"/><circle cx="557.6" cy="356.0" r="0.75"/><circle cx="551.5" cy="350.6" r="0.75"/><circle cx="553.9" cy="366.5" r="0.75"/><circle cx="561.4" cy="346.3" r="0.75"/><circle cx="553.4" cy="341.7" r="0.75"/><circle cx="559.7" cy="343.2" r="0.75"/><circle cx="561.6" cy="321.3" r="0.75"/><circle cx="561.0" cy="347.6" r="0.75"/><circle cx="552.6" cy="356.0" r="0.75"/><circle cx="559.9" cy="307.0" r="0.75"/><circle cx="556.9" cy="352.0" r="0.75"/><circle cx="565.1" cy="359.5" r="0.75"/><circle cx="567.1" cy="348.4" r="0.75"/><circle cx="562.0" cy="336.4" r="0.75"/><circle cx="565.6" cy="356.3" r="0.75"/><circle cx="558.6" cy="357.6" r="0.75"/><circle cx="568.7" cy="364.9" r="0.75"/><circle cx="563.7" cy="345.4" r="0.75"/><circle cx="567.6" cy="352.8" r="0.75"/><circle cx="555.9" cy="328.7" r="0.75"/><circle cx="563.9" cy="361.2" r="0.75"/><circle cx="562.6" cy="342.0" r="0.75"/><circle cx="563.9" cy="361.7" r="0.75"/><circle cx="566.5" cy="359.3" r="0.75"/><circle cx="555.0" cy="363.5" r="0.75"/><circle cx="553.5" cy="339.9" r="0.75"/><circle cx="561.1" cy="334.6" r="0.75"/><circle cx="554.9" cy="351.0" r="0.75"/><circle cx="564.0" cy="325.7" r="0.75"/><circle cx="565.5" cy="328.1" r="0.75"/><circle cx="560.0" cy="321.6" r="0.75"/><circle cx="565.6" cy="340.0" r="0.75"/><circle cx="562.4" cy="350.5" r="0.75"/><circle cx="568.1" cy="351.6" r="0.75"/><circle cx="560.9" cy="328.7" r="0.75"/><circle cx="554.6" cy="355.4" r="0.75"/><circle cx="569.5" cy="357.1" r="0.75"/><circle cx="559.8" cy="281.5" r="0.75"/><circle cx="558.3" cy="312.9" r="0.75"/><circle cx="565.1" cy="339.3" r="0.75"/><circle cx="561.4" cy="325.0" r="0.75"/><circle cx="566.7" cy="366.4" r="0.75"/><circle cx="558.9" cy="331.0" r="0.75"/><circle cx="562.9" cy="343.1" r="0.75"/><circle cx="566.5" cy="355.4" r="0.75"/><circle cx="562.9" cy="355.9" r="0.75"/><circle cx="551.0" cy="337.9" r="0.75"/><circle cx="562.8" cy="316.7" r="0.75"/><circle cx="559.0" cy="333.7" r="0.75"/><circle cx="553.8" cy="367.3" r="0.75"/><circle cx="559.1" cy="343.7" r="0.75"/><circle cx="568.7" cy="354.1" r="0.75"/><circle cx="556.7" cy="357.9" r="0.75"/><circle cx="559.6" cy="366.3" r="0.75"/><circle cx="566.7" cy="344.0" r="0.75"/><circle cx="564.2" cy="356.2" r="0.75"/><circle cx="557.8" cy="354.1" r="0.75"/><circle cx="557.0" cy="348.9" r="0.75"/><circle cx="560.5" cy="318.4" r="0.75"/><circle cx="560.9" cy="356.0" r="0.75"/><circle cx="563.8" cy="344.2" r="0.75"/><circle cx="562.8" cy="339.8" r="0.75"/><circle cx="557.1" cy="333.1" r="0.75"/><circle cx="565.0" cy="323.4" r="0.75"/><circle cx="565.9" cy="357.9" r="0.75"/><circle cx="560.2" cy="321.8" r="0.75"/><circle cx="553.9" cy="365.4" r="0.75"/><circle cx="559.3" cy="350.2" r="0.75"/><circle cx="565.4" cy="334.3" r="0.75"/><circle cx="558.7" cy="318.1" r="0.75"/><circle cx="556.8" cy="353.7" r="0.75"/><circle cx="563.8" cy="337.8" r="0.75"/><circle cx="564.8" cy="336.6" r="0.75"/><circle cx="566.1" cy="366.9" r="0.75"/><circle cx="559.2" cy="333.4" r="0.75"/><circle cx="562.1" cy="324.5" r="0.75"/><circle cx="555.1" cy="362.2" r="0.75"/><circle cx="551.6" cy="354.6" r="0.75"/><circle cx="563.8" cy="351.0" r="0.75"/><circle cx="558.9" cy="311.9" r="0.75"/><circle cx="561.4" cy="304.1" r="0.75"/><circle cx="556.9" cy="360.1" r="0.75"/><circle cx="557.2" cy="352.2" r="0.75"/><circle cx="566.8" cy="363.0" r="0.75"/><circle cx="551.8" cy="366.4" r="0.75"/><circle cx="567.8" cy="358.6" r="0.75"/><circle cx="559.4" cy="312.7" r="0.75"/><circle cx="555.8" cy="317.5" r="0.75"/><circle cx="557.6" cy="359.3" r="0.75"/><circle cx="554.8" cy="341.3" r="0.75"/><circle cx="556.6" cy="340.4" r="0.75"/><circle cx="560.2" cy="350.6" r="0.75"/><circle cx="561.0" cy="323.5" r="0.75"/><circle cx="554.7" cy="364.6" r="0.75"/><circle cx="569.7" cy="356.1" r="0.75"/><circle cx="553.5" cy="363.4" r="0.75"/><circle cx="556.4" cy="317.0" r="0.75"/><circle cx="557.2" cy="328.5" r="0.75"/><circle cx="550.7" cy="350.5" r="0.75"/><circle cx="566.9" cy="364.7" r="0.75"/><circle cx="555.8" cy="322.9" r="0.75"/><circle cx="557.9" cy="330.3" r="0.75"/><circle cx="561.7" cy="321.2" r="0.75"/><circle cx="559.4" cy="310.1" r="0.75"/><circle cx="553.5" cy="338.7" r="0.75"/><circle cx="559.6" cy="349.2" r="0.75"/><circle cx="556.1" cy="328.1" r="0.75"/><circle cx="552.2" cy="362.3" r="0.75"/><circle cx="560.3" cy="324.4" r="0.75"/><circle cx="555.2" cy="355.0" r="0.75"/><circle cx="557.3" cy="350.8" r="0.75"/><circle cx="560.1" cy="320.8" r="0.75"/><circle cx="562.6" cy="371.3" r="0.75"/><circle cx="562.2" cy="354.0" r="0.75"/><circle cx="560.4" cy="326.9" r="0.75"/><circle cx="556.4" cy="352.0" r="0.75"/><circle cx="559.8" cy="317.7" r="0.75"/><circle cx="556.8" cy="335.5" r="0.75"/><circle cx="566.8" cy="357.9" r="0.75"/><circle cx="568.4" cy="349.1" r="0.75"/><circle cx="566.6" cy="353.5" r="0.75"/><circle cx="558.6" cy="338.9" r="0.75"/><circle cx="563.4" cy="335.7" r="0.75"/><circle cx="556.3" cy="348.8" r="0.75"/><circle cx="565.4" cy="365.4" r="0.75"/><circle cx="566.0" cy="322.1" r="0.75"/><circle cx="554.0" cy="360.3" r="0.75"/><circle cx="554.2" cy="340.6" r="0.75"/><circle cx="564.2" cy="325.8" r="0.75"/><circle cx="561.6" cy="350.2" r="0.75"/><circle cx="565.2" cy="366.6" r="0.75"/><circle cx="565.8" cy="345.8" r="0.75"/><circle cx="565.6" cy="364.2" r="0.75"/><circle cx="552.7" cy="360.6" r="0.75"/><circle cx="556.2" cy="358.9" r="0.75"/><circle cx="557.7" cy="360.6" r="0.75"/><circle cx="566.2" cy="344.1" r="0.75"/><circle cx="562.4" cy="333.4" r="0.75"/><circle cx="554.8" cy="350.8" r="0.75"/><circle cx="559.0" cy="305.9" r="0.75"/><circle cx="565.4" cy="365.5" r="0.75"/><circle cx="567.3" cy="354.3" r="0.75"/><circle cx="551.1" cy="354.5" r="0.75"/><circle cx="558.3" cy="346.6" r="0.75"/><circle cx="553.3" cy="338.4" r="0.75"/><circle cx="558.9" cy="356.0" r="0.75"/><circle cx="551.0" cy="351.2" r="0.75"/><circle cx="558.1" cy="352.6" r="0.75"/><circle cx="553.9" cy="353.9" r="0.75"/><circle cx="552.3" cy="366.3" r="0.75"/><circle cx="564.7" cy="333.5" r="0.75"/><circle cx="559.1" cy="369.0" r="0.75"/><circle cx="568.3" cy="351.4" r="0.75"/><circle cx="564.5" cy="358.0" r="0.75"/><circle cx="557.3" cy="351.5" r="0.75"/><circle cx="557.9" cy="336.2" r="0.75"/><circle cx="558.6" cy="328.5" r="0.75"/><circle cx="557.3" cy="321.2" r="0.75"/><circle cx="561.3" cy="341.1" r="0.75"/><circle cx="553.2" cy="355.7" r="0.75"/><circle cx="560.6" cy="370.9" r="0.75"/><circle cx="560.1" cy="361.8" r="0.75"/><circle cx="558.2" cy="319.6" r="0.75"/><circle cx="568.9" cy="352.7" r="0.75"/><circle cx="556.2" cy="352.7" r="0.75"/><circle cx="562.6" cy="353.5" r="0.75"/><circle cx="564.4" cy="354.1" r="0.75"/><circle cx="564.0" cy="359.6" r="0.75"/><circle cx="561.7" cy="355.8" r="0.75"/><circle cx="559.4" cy="349.8" r="0.75"/><circle cx="558.8" cy="350.3" r="0.75"/><circle cx="564.4" cy="366.1" r="0.75"/><circle cx="551.9" cy="363.6" r="0.75"/><circle cx="560.4" cy="369.2" r="0.75"/><circle cx="566.6" cy="349.9" r="0.75"/><circle cx="559.4" cy="339.8" r="0.75"/><circle cx="560.0" cy="320.0" r="0.75"/><circle cx="563.8" cy="352.1" r="0.75"/><circle cx="562.0" cy="342.3" r="0.75"/><circle cx="558.0" cy="329.8" r="0.75"/><circle cx="561.3" cy="346.7" r="0.75"/><circle cx="563.7" cy="346.4" r="0.75"/><circle cx="562.4" cy="361.8" r="0.75"/><circle cx="554.7" cy="337.6" r="0.75"/><circle cx="567.4" cy="334.8" r="0.75"/><circle cx="557.2" cy="355.1" r="0.75"/><circle cx="562.8" cy="338.9" r="0.75"/><circle cx="553.0" cy="358.8" r="0.75"/><circle cx="563.6" cy="363.7" r="0.75"/><circle cx="561.2" cy="354.2" r="0.75"/><circle cx="566.7" cy="346.0" r="0.75"/><circle cx="555.1" cy="352.4" r="0.75"/><circle cx="551.1" cy="356.8" r="0.75"/><circle cx="559.9" cy="301.4" r="0.75"/><circle cx="558.9" cy="336.5" r="0.75"/><circle cx="563.7" cy="355.8" r="0.75"/><circle cx="556.8" cy="365.6" r="0.75"/><circle cx="564.1" cy="335.6" r="0.75"/><circle cx="560.8" cy="315.8" r="0.75"/><circle cx="553.4" cy="335.3" r="0.75"/><circle cx="569.4" cy="337.4" r="0.75"/><circle cx="559.5" cy="300.0" r="0.75"/><circle cx="555.6" cy="336.8" r="0.75"/><circle cx="552.3" cy="363.0" r="0.75"/><circle cx="565.9" cy="349.8" r="0.75"/><circle cx="568.8" cy="352.2" r="0.75"/><circle cx="556.5" cy="344.1" r="0.75"/><circle cx="561.5" cy="361.3" r="0.75"/><circle cx="566.9" cy="341.0" r="0.75"/><circle cx="565.3" cy="336.2" r="0.75"/><circle cx="555.6" cy="356.1" r="0.75"/><circle cx="559.6" cy="341.2" r="0.75"/><circle cx="568.1" cy="353.8" r="0.75"/><circle cx="566.8" cy="338.1" r="0.75"/><circle cx="559.9" cy="349.9" r="0.75"/><circle cx="560.5" cy="302.9" r="0.75"/><circle cx="552.0" cy="350.0" r="0.75"/><circle cx="558.4" cy="367.4" r="0.75"/><circle cx="565.6" cy="365.7" r="0.75"/><circle cx="551.4" cy="337.1" r="0.75"/><circle cx="554.9" cy="364.5" r="0.75"/><circle cx="560.5" cy="332.0" r="0.75"/><circle cx="551.1" cy="349.1" r="0.75"/><circle cx="554.1" cy="353.8" r="0.75"/><circle cx="565.0" cy="351.8" r="0.75"/><circle cx="556.2" cy="323.8" r="0.75"/><circle cx="560.2" cy="346.4" r="0.75"/><circle cx="568.5" cy="351.5" r="0.75"/><circle cx="560.7" cy="349.8" r="0.75"/><circle cx="563.2" cy="344.0" r="0.75"/><circle cx="551.9" cy="350.3" r="0.75"/><circle cx="560.6" cy="335.9" r="0.75"/><circle cx="560.8" cy="351.8" r="0.75"/><circle cx="559.9" cy="355.7" r="0.75"/><circle cx="559.8" cy="363.2" r="0.75"/><circle cx="552.0" cy="350.3" r="0.75"/><circle cx="562.4" cy="360.1" r="0.75"/><circle cx="557.8" cy="359.5" r="0.75"/><circle cx="564.1" cy="360.5" r="0.75"/><circle cx="555.5" cy="353.4" r="0.75"/><circle cx="564.2" cy="317.1" r="0.75"/><circle cx="559.5" cy="348.2" r="0.75"/><circle cx="566.5" cy="356.0" r="0.75"/><circle cx="560.6" cy="349.7" r="0.75"/><circle cx="556.1" cy="350.2" r="0.75"/><circle cx="559.1" cy="366.5" r="0.75"/><circle cx="559.5" cy="327.4" r="0.75"/><circle cx="560.8" cy="348.4" r="0.75"/><circle cx="560.0" cy="286.8" r="0.75"/><circle cx="556.8" cy="340.6" r="0.75"/><circle cx="569.7" cy="357.1" r="0.75"/><circle cx="561.0" cy="293.1" r="0.75"/><circle cx="560.4" cy="363.6" r="0.75"/><circle cx="561.4" cy="360.9" r="0.75"/><circle cx="566.3" cy="362.0" r="0.75"/><circle cx="562.7" cy="361.4" r="0.75"/><circle cx="558.6" cy="362.5" r="0.75"/><circle cx="560.2" cy="318.0" r="0.75"/><circle cx="565.9" cy="362.0" r="0.75"/><circle cx="551.9" cy="349.3" r="0.75"/><circle cx="558.5" cy="362.0" r="0.75"/></g>
<g fill="#ec8fc0" opacity="0.9"><circle cx="601.1" cy="371.7" r="0.8"/><circle cx="588.8" cy="351.6" r="0.8"/><circle cx="592.2" cy="374.7" r="0.8"/><circle cx="598.6" cy="356.2" r="0.8"/><circle cx="599.3" cy="369.1" r="0.8"/><circle cx="601.3" cy="359.7" r="0.8"/><circle cx="595.3" cy="309.9" r="0.8"/><circle cx="601.7" cy="363.8" r="0.8"/><circle cx="584.0" cy="358.6" r="0.8"/><circle cx="594.3" cy="339.6" r="0.8"/><circle cx="597.8" cy="365.3" r="0.8"/><circle cx="603.0" cy="364.2" r="0.8"/><circle cx="593.6" cy="356.9" r="0.8"/><circle cx="589.9" cy="349.7" r="0.8"/><circle cx="585.4" cy="365.3" r="0.8"/><circle cx="588.0" cy="362.8" r="0.8"/><circle cx="586.0" cy="372.8" r="0.8"/><circle cx="593.4" cy="362.3" r="0.8"/><circle cx="586.7" cy="357.9" r="0.8"/><circle cx="601.4" cy="350.5" r="0.8"/><circle cx="586.9" cy="361.4" r="0.8"/><circle cx="596.6" cy="353.0" r="0.8"/><circle cx="592.1" cy="341.4" r="0.8"/><circle cx="590.0" cy="361.9" r="0.8"/><circle cx="589.3" cy="345.8" r="0.8"/><circle cx="593.5" cy="343.8" r="0.8"/><circle cx="597.7" cy="328.3" r="0.8"/><circle cx="594.9" cy="345.0" r="0.8"/><circle cx="594.0" cy="348.8" r="0.8"/><circle cx="588.4" cy="348.8" r="0.8"/><circle cx="590.5" cy="358.3" r="0.8"/><circle cx="597.6" cy="331.2" r="0.8"/><circle cx="587.7" cy="366.2" r="0.8"/><circle cx="597.4" cy="359.0" r="0.8"/><circle cx="599.4" cy="369.5" r="0.8"/><circle cx="595.1" cy="353.6" r="0.8"/><circle cx="592.7" cy="330.4" r="0.8"/><circle cx="588.6" cy="348.6" r="0.8"/><circle cx="594.7" cy="377.3" r="0.8"/><circle cx="595.6" cy="332.4" r="0.8"/><circle cx="587.3" cy="373.1" r="0.8"/><circle cx="590.7" cy="365.9" r="0.8"/><circle cx="600.9" cy="354.7" r="0.8"/><circle cx="590.0" cy="374.9" r="0.8"/><circle cx="598.6" cy="340.6" r="0.8"/><circle cx="596.7" cy="347.0" r="0.8"/><circle cx="593.8" cy="316.8" r="0.8"/><circle cx="603.3" cy="348.5" r="0.8"/><circle cx="590.9" cy="356.5" r="0.8"/><circle cx="597.2" cy="364.0" r="0.8"/><circle cx="593.7" cy="360.6" r="0.8"/><circle cx="586.7" cy="349.2" r="0.8"/><circle cx="593.2" cy="336.9" r="0.8"/><circle cx="588.8" cy="366.3" r="0.8"/><circle cx="598.8" cy="353.0" r="0.8"/><circle cx="603.6" cy="348.4" r="0.8"/><circle cx="585.0" cy="364.0" r="0.8"/><circle cx="588.0" cy="346.1" r="0.8"/><circle cx="593.0" cy="361.9" r="0.8"/><circle cx="595.8" cy="359.5" r="0.8"/><circle cx="592.6" cy="365.3" r="0.8"/><circle cx="594.6" cy="325.6" r="0.8"/><circle cx="604.6" cy="374.0" r="0.8"/><circle cx="586.4" cy="360.9" r="0.8"/><circle cx="587.2" cy="349.8" r="0.8"/><circle cx="593.9" cy="353.8" r="0.8"/><circle cx="597.3" cy="364.4" r="0.8"/><circle cx="599.7" cy="353.8" r="0.8"/><circle cx="594.3" cy="355.0" r="0.8"/><circle cx="602.3" cy="352.3" r="0.8"/><circle cx="604.6" cy="356.0" r="0.8"/><circle cx="600.4" cy="367.4" r="0.8"/><circle cx="591.7" cy="346.6" r="0.8"/><circle cx="604.5" cy="360.2" r="0.8"/><circle cx="594.9" cy="339.4" r="0.8"/><circle cx="600.5" cy="359.9" r="0.8"/><circle cx="597.1" cy="333.7" r="0.8"/><circle cx="584.2" cy="363.1" r="0.8"/><circle cx="604.8" cy="348.5" r="0.8"/><circle cx="594.9" cy="312.0" r="0.8"/><circle cx="597.6" cy="361.2" r="0.8"/><circle cx="595.9" cy="339.5" r="0.8"/><circle cx="591.5" cy="352.1" r="0.8"/><circle cx="594.4" cy="384.9" r="0.8"/><circle cx="591.5" cy="350.6" r="0.8"/><circle cx="590.0" cy="358.5" r="0.8"/><circle cx="592.5" cy="372.4" r="0.8"/><circle cx="593.5" cy="339.6" r="0.8"/><circle cx="600.8" cy="346.6" r="0.8"/><circle cx="593.4" cy="327.2" r="0.8"/><circle cx="588.1" cy="369.2" r="0.8"/><circle cx="599.8" cy="358.9" r="0.8"/><circle cx="598.7" cy="351.2" r="0.8"/><circle cx="603.0" cy="359.6" r="0.8"/><circle cx="597.1" cy="369.5" r="0.8"/><circle cx="583.8" cy="358.7" r="0.8"/><circle cx="586.4" cy="356.4" r="0.8"/><circle cx="603.6" cy="354.3" r="0.8"/><circle cx="597.8" cy="356.1" r="0.8"/><circle cx="592.8" cy="356.9" r="0.8"/><circle cx="602.4" cy="354.0" r="0.8"/><circle cx="585.6" cy="347.1" r="0.8"/><circle cx="601.1" cy="363.1" r="0.8"/><circle cx="588.3" cy="354.7" r="0.8"/><circle cx="588.8" cy="335.9" r="0.8"/><circle cx="598.0" cy="341.9" r="0.8"/><circle cx="598.1" cy="341.4" r="0.8"/><circle cx="588.4" cy="328.1" r="0.8"/><circle cx="598.1" cy="354.5" r="0.8"/><circle cx="597.6" cy="336.5" r="0.8"/><circle cx="598.4" cy="340.8" r="0.8"/><circle cx="595.7" cy="359.2" r="0.8"/><circle cx="597.8" cy="343.2" r="0.8"/><circle cx="600.7" cy="354.5" r="0.8"/><circle cx="594.8" cy="351.5" r="0.8"/><circle cx="600.6" cy="367.7" r="0.8"/><circle cx="589.1" cy="345.1" r="0.8"/><circle cx="588.0" cy="360.0" r="0.8"/><circle cx="591.9" cy="356.5" r="0.8"/><circle cx="602.0" cy="353.0" r="0.8"/><circle cx="590.2" cy="343.6" r="0.8"/><circle cx="593.9" cy="308.6" r="0.8"/><circle cx="594.2" cy="333.6" r="0.8"/><circle cx="604.4" cy="347.7" r="0.8"/><circle cx="594.6" cy="361.5" r="0.8"/><circle cx="604.4" cy="352.4" r="0.8"/><circle cx="585.8" cy="349.3" r="0.8"/><circle cx="591.5" cy="359.3" r="0.8"/><circle cx="589.9" cy="329.9" r="0.8"/><circle cx="587.4" cy="360.8" r="0.8"/><circle cx="602.2" cy="353.0" r="0.8"/><circle cx="594.0" cy="310.8" r="0.8"/><circle cx="593.2" cy="365.0" r="0.8"/><circle cx="594.0" cy="356.8" r="0.8"/><circle cx="588.6" cy="328.8" r="0.8"/><circle cx="601.0" cy="327.4" r="0.8"/><circle cx="596.7" cy="356.0" r="0.8"/><circle cx="603.4" cy="346.5" r="0.8"/><circle cx="586.6" cy="351.3" r="0.8"/><circle cx="596.4" cy="371.5" r="0.8"/><circle cx="597.7" cy="329.3" r="0.8"/><circle cx="596.4" cy="332.9" r="0.8"/><circle cx="593.2" cy="329.2" r="0.8"/><circle cx="600.8" cy="364.9" r="0.8"/><circle cx="602.8" cy="352.3" r="0.8"/><circle cx="595.8" cy="338.1" r="0.8"/><circle cx="597.2" cy="334.5" r="0.8"/><circle cx="590.7" cy="334.7" r="0.8"/><circle cx="596.4" cy="373.3" r="0.8"/><circle cx="597.9" cy="347.1" r="0.8"/><circle cx="588.1" cy="359.6" r="0.8"/><circle cx="597.9" cy="368.7" r="0.8"/><circle cx="586.3" cy="353.8" r="0.8"/><circle cx="598.8" cy="371.9" r="0.8"/><circle cx="592.0" cy="361.1" r="0.8"/><circle cx="584.1" cy="356.4" r="0.8"/><circle cx="590.5" cy="357.6" r="0.8"/><circle cx="600.0" cy="360.4" r="0.8"/><circle cx="591.9" cy="354.5" r="0.8"/><circle cx="594.6" cy="353.7" r="0.8"/><circle cx="593.6" cy="368.2" r="0.8"/><circle cx="585.1" cy="363.9" r="0.8"/><circle cx="593.8" cy="360.0" r="0.8"/><circle cx="593.8" cy="375.0" r="0.8"/><circle cx="599.3" cy="353.1" r="0.8"/><circle cx="591.8" cy="330.4" r="0.8"/><circle cx="584.3" cy="363.2" r="0.8"/><circle cx="597.2" cy="332.2" r="0.8"/><circle cx="598.9" cy="358.7" r="0.8"/><circle cx="584.2" cy="355.8" r="0.8"/><circle cx="590.9" cy="341.7" r="0.8"/><circle cx="600.7" cy="356.1" r="0.8"/><circle cx="590.6" cy="354.1" r="0.8"/><circle cx="592.0" cy="328.9" r="0.8"/><circle cx="596.3" cy="372.4" r="0.8"/><circle cx="602.5" cy="356.1" r="0.8"/><circle cx="597.8" cy="361.1" r="0.8"/><circle cx="584.4" cy="354.1" r="0.8"/><circle cx="592.3" cy="352.1" r="0.8"/><circle cx="604.4" cy="346.9" r="0.8"/><circle cx="597.2" cy="361.4" r="0.8"/><circle cx="595.4" cy="328.1" r="0.8"/><circle cx="594.6" cy="324.6" r="0.8"/><circle cx="596.7" cy="342.0" r="0.8"/><circle cx="584.6" cy="350.0" r="0.8"/><circle cx="598.2" cy="340.3" r="0.8"/><circle cx="587.7" cy="373.2" r="0.8"/><circle cx="593.4" cy="349.5" r="0.8"/><circle cx="588.8" cy="355.8" r="0.8"/><circle cx="584.3" cy="360.3" r="0.8"/><circle cx="587.2" cy="347.1" r="0.8"/><circle cx="593.9" cy="358.5" r="0.8"/><circle cx="596.4" cy="331.1" r="0.8"/><circle cx="592.4" cy="370.5" r="0.8"/><circle cx="592.7" cy="362.5" r="0.8"/><circle cx="601.5" cy="355.0" r="0.8"/><circle cx="596.2" cy="368.8" r="0.8"/><circle cx="597.1" cy="369.9" r="0.8"/><circle cx="596.4" cy="347.4" r="0.8"/><circle cx="589.4" cy="362.6" r="0.8"/><circle cx="602.0" cy="369.1" r="0.8"/><circle cx="590.1" cy="346.4" r="0.8"/><circle cx="590.9" cy="334.6" r="0.8"/><circle cx="602.8" cy="349.8" r="0.8"/><circle cx="593.2" cy="349.4" r="0.8"/><circle cx="599.5" cy="361.8" r="0.8"/><circle cx="594.3" cy="329.7" r="0.8"/><circle cx="591.3" cy="341.4" r="0.8"/><circle cx="593.4" cy="339.4" r="0.8"/><circle cx="591.2" cy="352.5" r="0.8"/><circle cx="592.9" cy="364.1" r="0.8"/><circle cx="592.3" cy="355.0" r="0.8"/><circle cx="584.0" cy="358.1" r="0.8"/><circle cx="588.0" cy="349.4" r="0.8"/><circle cx="597.7" cy="368.7" r="0.8"/><circle cx="594.2" cy="365.5" r="0.8"/><circle cx="588.9" cy="352.0" r="0.8"/><circle cx="598.9" cy="368.8" r="0.8"/><circle cx="590.1" cy="367.6" r="0.8"/><circle cx="602.4" cy="352.4" r="0.8"/><circle cx="604.4" cy="356.0" r="0.8"/><circle cx="594.7" cy="337.9" r="0.8"/><circle cx="594.2" cy="305.1" r="0.8"/><circle cx="602.5" cy="351.9" r="0.8"/><circle cx="597.3" cy="348.6" r="0.8"/><circle cx="585.1" cy="356.7" r="0.8"/><circle cx="595.3" cy="350.0" r="0.8"/><circle cx="601.6" cy="358.5" r="0.8"/><circle cx="596.6" cy="333.4" r="0.8"/><circle cx="600.4" cy="353.6" r="0.8"/><circle cx="589.5" cy="363.4" r="0.8"/><circle cx="602.6" cy="356.9" r="0.8"/><circle cx="597.3" cy="335.8" r="0.8"/><circle cx="593.0" cy="374.4" r="0.8"/><circle cx="594.5" cy="293.2" r="0.8"/><circle cx="593.0" cy="344.6" r="0.8"/><circle cx="588.4" cy="353.9" r="0.8"/><circle cx="596.6" cy="361.9" r="0.8"/><circle cx="600.8" cy="363.0" r="0.8"/><circle cx="599.9" cy="359.6" r="0.8"/><circle cx="599.2" cy="345.5" r="0.8"/><circle cx="604.1" cy="349.1" r="0.8"/><circle cx="600.1" cy="354.0" r="0.8"/><circle cx="603.7" cy="358.3" r="0.8"/><circle cx="592.8" cy="356.9" r="0.8"/><circle cx="590.9" cy="368.6" r="0.8"/><circle cx="590.9" cy="358.4" r="0.8"/><circle cx="591.3" cy="346.9" r="0.8"/><circle cx="594.0" cy="376.5" r="0.8"/><circle cx="594.0" cy="326.5" r="0.8"/><circle cx="593.3" cy="376.4" r="0.8"/><circle cx="595.5" cy="355.9" r="0.8"/><circle cx="596.2" cy="361.4" r="0.8"/><circle cx="591.1" cy="352.6" r="0.8"/><circle cx="589.2" cy="362.6" r="0.8"/><circle cx="604.5" cy="350.1" r="0.8"/><circle cx="600.4" cy="373.8" r="0.8"/><circle cx="597.2" cy="330.8" r="0.8"/><circle cx="596.7" cy="328.7" r="0.8"/><circle cx="590.5" cy="333.3" r="0.8"/><circle cx="590.0" cy="346.6" r="0.8"/><circle cx="598.1" cy="368.9" r="0.8"/><circle cx="600.3" cy="349.3" r="0.8"/><circle cx="587.4" cy="351.1" r="0.8"/><circle cx="595.4" cy="340.2" r="0.8"/><circle cx="599.5" cy="355.4" r="0.8"/><circle cx="597.9" cy="341.2" r="0.8"/><circle cx="586.2" cy="360.9" r="0.8"/><circle cx="596.9" cy="374.4" r="0.8"/><circle cx="595.4" cy="367.9" r="0.8"/><circle cx="594.7" cy="294.0" r="0.8"/><circle cx="584.8" cy="360.2" r="0.8"/><circle cx="598.3" cy="369.0" r="0.8"/><circle cx="601.3" cy="367.4" r="0.8"/><circle cx="594.7" cy="323.9" r="0.8"/><circle cx="592.2" cy="339.2" r="0.8"/><circle cx="592.8" cy="356.3" r="0.8"/><circle cx="604.0" cy="373.3" r="0.8"/><circle cx="594.9" cy="339.8" r="0.8"/><circle cx="594.2" cy="385.1" r="0.8"/><circle cx="592.6" cy="344.6" r="0.8"/><circle cx="594.1" cy="356.7" r="0.8"/><circle cx="585.5" cy="359.1" r="0.8"/><circle cx="594.0" cy="377.4" r="0.8"/><circle cx="602.5" cy="347.9" r="0.8"/><circle cx="597.5" cy="333.0" r="0.8"/><circle cx="587.6" cy="355.8" r="0.8"/><circle cx="595.9" cy="332.9" r="0.8"/><circle cx="600.6" cy="366.4" r="0.8"/><circle cx="587.9" cy="360.3" r="0.8"/><circle cx="590.7" cy="356.6" r="0.8"/><circle cx="595.2" cy="366.3" r="0.8"/><circle cx="593.7" cy="300.4" r="0.8"/><circle cx="597.9" cy="353.4" r="0.8"/><circle cx="594.6" cy="386.6" r="0.8"/><circle cx="591.7" cy="348.9" r="0.8"/><circle cx="600.3" cy="368.3" r="0.8"/><circle cx="604.7" cy="359.3" r="0.8"/><circle cx="591.9" cy="338.4" r="0.8"/><circle cx="598.0" cy="359.8" r="0.8"/><circle cx="586.2" cy="362.4" r="0.8"/><circle cx="596.7" cy="334.3" r="0.8"/><circle cx="584.9" cy="362.5" r="0.8"/><circle cx="592.5" cy="326.1" r="0.8"/><circle cx="596.7" cy="374.3" r="0.8"/><circle cx="597.5" cy="372.5" r="0.8"/><circle cx="594.2" cy="291.6" r="0.8"/><circle cx="587.2" cy="349.6" r="0.8"/><circle cx="600.8" cy="351.9" r="0.8"/><circle cx="595.1" cy="340.6" r="0.8"/><circle cx="588.3" cy="361.3" r="0.8"/><circle cx="597.5" cy="333.5" r="0.8"/><circle cx="599.1" cy="361.9" r="0.8"/><circle cx="596.3" cy="334.1" r="0.8"/><circle cx="592.8" cy="354.1" r="0.8"/><circle cx="596.6" cy="330.8" r="0.8"/><circle cx="594.0" cy="318.2" r="0.8"/><circle cx="592.1" cy="340.0" r="0.8"/><circle cx="597.2" cy="368.5" r="0.8"/><circle cx="592.9" cy="355.4" r="0.8"/><circle cx="591.8" cy="329.5" r="0.8"/><circle cx="584.0" cy="356.1" r="0.8"/><circle cx="588.0" cy="365.1" r="0.8"/><circle cx="599.9" cy="355.2" r="0.8"/><circle cx="586.5" cy="369.1" r="0.8"/><circle cx="596.8" cy="372.0" r="0.8"/><circle cx="592.0" cy="350.7" r="0.8"/><circle cx="594.2" cy="381.1" r="0.8"/><circle cx="591.3" cy="357.4" r="0.8"/><circle cx="603.6" cy="360.6" r="0.8"/><circle cx="599.4" cy="340.2" r="0.8"/><circle cx="593.9" cy="359.0" r="0.8"/><circle cx="600.8" cy="356.1" r="0.8"/><circle cx="594.6" cy="348.9" r="0.8"/><circle cx="599.4" cy="367.3" r="0.8"/><circle cx="604.0" cy="354.8" r="0.8"/><circle cx="590.6" cy="365.9" r="0.8"/><circle cx="596.1" cy="357.6" r="0.8"/><circle cx="592.6" cy="339.2" r="0.8"/><circle cx="597.4" cy="326.6" r="0.8"/><circle cx="593.9" cy="324.7" r="0.8"/><circle cx="598.1" cy="340.0" r="0.8"/><circle cx="603.5" cy="373.9" r="0.8"/><circle cx="587.1" cy="356.7" r="0.8"/><circle cx="597.8" cy="358.8" r="0.8"/><circle cx="584.8" cy="358.4" r="0.8"/><circle cx="584.3" cy="355.3" r="0.8"/><circle cx="585.6" cy="347.3" r="0.8"/><circle cx="594.3" cy="383.8" r="0.8"/><circle cx="601.6" cy="350.6" r="0.8"/><circle cx="585.6" cy="373.1" r="0.8"/><circle cx="600.8" cy="344.6" r="0.8"/><circle cx="593.4" cy="327.5" r="0.8"/><circle cx="588.1" cy="347.7" r="0.8"/><circle cx="595.9" cy="342.3" r="0.8"/><circle cx="594.7" cy="306.2" r="0.8"/><circle cx="593.9" cy="329.3" r="0.8"/><circle cx="593.4" cy="361.6" r="0.8"/><circle cx="601.7" cy="349.8" r="0.8"/><circle cx="602.8" cy="354.7" r="0.8"/><circle cx="586.6" cy="353.3" r="0.8"/><circle cx="596.8" cy="356.7" r="0.8"/><circle cx="595.4" cy="376.8" r="0.8"/><circle cx="602.5" cy="360.1" r="0.8"/><circle cx="590.8" cy="374.6" r="0.8"/><circle cx="598.8" cy="331.9" r="0.8"/><circle cx="596.1" cy="341.0" r="0.8"/><circle cx="602.9" cy="373.1" r="0.8"/><circle cx="591.8" cy="348.7" r="0.8"/><circle cx="598.7" cy="332.5" r="0.8"/><circle cx="599.8" cy="349.1" r="0.8"/><circle cx="588.5" cy="348.1" r="0.8"/><circle cx="595.0" cy="354.6" r="0.8"/><circle cx="584.6" cy="358.0" r="0.8"/><circle cx="598.9" cy="360.0" r="0.8"/><circle cx="595.8" cy="371.5" r="0.8"/><circle cx="589.8" cy="361.0" r="0.8"/><circle cx="595.7" cy="365.1" r="0.8"/><circle cx="602.7" cy="356.6" r="0.8"/><circle cx="588.7" cy="358.6" r="0.8"/><circle cx="593.2" cy="360.9" r="0.8"/><circle cx="594.1" cy="295.0" r="0.8"/><circle cx="601.2" cy="364.1" r="0.8"/><circle cx="587.8" cy="358.0" r="0.8"/><circle cx="597.8" cy="337.9" r="0.8"/><circle cx="597.5" cy="358.9" r="0.8"/><circle cx="604.7" cy="373.5" r="0.8"/><circle cx="589.4" cy="351.6" r="0.8"/><circle cx="591.3" cy="359.7" r="0.8"/><circle cx="591.5" cy="340.3" r="0.8"/><circle cx="599.5" cy="360.1" r="0.8"/><circle cx="585.6" cy="360.1" r="0.8"/><circle cx="585.7" cy="353.6" r="0.8"/><circle cx="601.5" cy="349.2" r="0.8"/><circle cx="599.6" cy="369.4" r="0.8"/><circle cx="602.1" cy="372.7" r="0.8"/><circle cx="595.6" cy="343.3" r="0.8"/><circle cx="589.0" cy="363.0" r="0.8"/><circle cx="590.9" cy="327.3" r="0.8"/><circle cx="596.8" cy="339.0" r="0.8"/><circle cx="587.7" cy="352.8" r="0.8"/><circle cx="589.2" cy="371.9" r="0.8"/><circle cx="600.8" cy="362.7" r="0.8"/><circle cx="597.7" cy="375.8" r="0.8"/><circle cx="588.9" cy="350.9" r="0.8"/><circle cx="588.2" cy="351.7" r="0.8"/><circle cx="601.9" cy="345.5" r="0.8"/><circle cx="588.7" cy="359.1" r="0.8"/><circle cx="595.9" cy="330.2" r="0.8"/><circle cx="598.2" cy="333.0" r="0.8"/><circle cx="585.5" cy="346.9" r="0.8"/><circle cx="587.3" cy="353.8" r="0.8"/><circle cx="594.9" cy="328.1" r="0.8"/><circle cx="588.1" cy="353.8" r="0.8"/><circle cx="595.3" cy="385.2" r="0.8"/><circle cx="594.3" cy="331.6" r="0.8"/><circle cx="601.9" cy="371.4" r="0.8"/><circle cx="598.5" cy="358.8" r="0.8"/><circle cx="589.5" cy="358.8" r="0.8"/><circle cx="591.2" cy="334.7" r="0.8"/><circle cx="594.9" cy="350.2" r="0.8"/><circle cx="593.3" cy="352.2" r="0.8"/><circle cx="595.5" cy="300.7" r="0.8"/><circle cx="592.0" cy="331.8" r="0.8"/><circle cx="590.3" cy="348.6" r="0.8"/><circle cx="590.6" cy="356.4" r="0.8"/><circle cx="599.7" cy="364.1" r="0.8"/><circle cx="596.1" cy="332.4" r="0.8"/><circle cx="596.2" cy="346.3" r="0.8"/><circle cx="590.5" cy="329.8" r="0.8"/><circle cx="596.9" cy="357.3" r="0.8"/><circle cx="594.4" cy="322.6" r="0.8"/><circle cx="600.7" cy="372.1" r="0.8"/><circle cx="591.1" cy="361.6" r="0.8"/><circle cx="591.7" cy="326.5" r="0.8"/><circle cx="597.7" cy="342.5" r="0.8"/><circle cx="586.6" cy="366.8" r="0.8"/><circle cx="603.1" cy="359.3" r="0.8"/><circle cx="600.0" cy="364.5" r="0.8"/><circle cx="600.2" cy="349.1" r="0.8"/><circle cx="593.2" cy="346.8" r="0.8"/><circle cx="589.7" cy="350.1" r="0.8"/><circle cx="590.3" cy="357.6" r="0.8"/><circle cx="596.5" cy="372.7" r="0.8"/><circle cx="586.9" cy="360.1" r="0.8"/><circle cx="599.5" cy="328.2" r="0.8"/><circle cx="600.4" cy="345.1" r="0.8"/><circle cx="591.6" cy="350.4" r="0.8"/><circle cx="600.8" cy="350.7" r="0.8"/><circle cx="601.8" cy="357.8" r="0.8"/><circle cx="597.9" cy="375.2" r="0.8"/><circle cx="603.9" cy="365.3" r="0.8"/><circle cx="583.9" cy="360.8" r="0.8"/><circle cx="594.7" cy="378.5" r="0.8"/><circle cx="601.6" cy="359.3" r="0.8"/><circle cx="603.6" cy="360.6" r="0.8"/><circle cx="598.3" cy="357.3" r="0.8"/><circle cx="587.7" cy="357.1" r="0.8"/><circle cx="595.7" cy="341.8" r="0.8"/><circle cx="596.2" cy="353.1" r="0.8"/><circle cx="591.8" cy="330.9" r="0.8"/><circle cx="587.4" cy="351.6" r="0.8"/><circle cx="600.8" cy="360.4" r="0.8"/><circle cx="597.8" cy="355.8" r="0.8"/><circle cx="587.1" cy="347.1" r="0.8"/><circle cx="592.8" cy="368.2" r="0.8"/><circle cx="590.9" cy="346.2" r="0.8"/><circle cx="595.1" cy="316.8" r="0.8"/><circle cx="596.8" cy="345.4" r="0.8"/><circle cx="589.5" cy="346.9" r="0.8"/><circle cx="592.7" cy="336.8" r="0.8"/><circle cx="594.8" cy="379.7" r="0.8"/><circle cx="595.7" cy="351.8" r="0.8"/><circle cx="595.6" cy="358.1" r="0.8"/><circle cx="594.9" cy="366.6" r="0.8"/><circle cx="587.9" cy="357.9" r="0.8"/><circle cx="584.3" cy="373.7" r="0.8"/><circle cx="594.7" cy="346.7" r="0.8"/><circle cx="589.3" cy="370.9" r="0.8"/><circle cx="602.5" cy="358.5" r="0.8"/><circle cx="593.9" cy="371.1" r="0.8"/><circle cx="594.2" cy="290.4" r="0.8"/><circle cx="603.2" cy="363.8" r="0.8"/><circle cx="597.6" cy="352.3" r="0.8"/><circle cx="597.2" cy="375.0" r="0.8"/><circle cx="599.8" cy="361.5" r="0.8"/><circle cx="598.4" cy="357.2" r="0.8"/><circle cx="597.2" cy="375.4" r="0.8"/><circle cx="593.1" cy="332.4" r="0.8"/><circle cx="595.0" cy="348.5" r="0.8"/><circle cx="592.2" cy="374.2" r="0.8"/><circle cx="601.5" cy="355.9" r="0.8"/><circle cx="592.7" cy="369.7" r="0.8"/><circle cx="592.0" cy="356.8" r="0.8"/><circle cx="596.1" cy="342.6" r="0.8"/><circle cx="584.8" cy="365.3" r="0.8"/><circle cx="590.8" cy="337.1" r="0.8"/><circle cx="602.2" cy="354.5" r="0.8"/><circle cx="587.3" cy="349.3" r="0.8"/><circle cx="594.5" cy="308.1" r="0.8"/><circle cx="592.7" cy="367.0" r="0.8"/><circle cx="593.7" cy="345.4" r="0.8"/><circle cx="591.2" cy="329.1" r="0.8"/><circle cx="597.2" cy="354.1" r="0.8"/><circle cx="584.6" cy="364.0" r="0.8"/><circle cx="591.6" cy="342.2" r="0.8"/><circle cx="600.8" cy="355.5" r="0.8"/><circle cx="596.4" cy="374.2" r="0.8"/><circle cx="594.9" cy="330.3" r="0.8"/><circle cx="590.2" cy="368.6" r="0.8"/><circle cx="586.3" cy="344.8" r="0.8"/><circle cx="588.5" cy="367.0" r="0.8"/><circle cx="603.7" cy="355.7" r="0.8"/><circle cx="604.2" cy="353.2" r="0.8"/><circle cx="591.4" cy="362.2" r="0.8"/><circle cx="597.8" cy="351.4" r="0.8"/><circle cx="594.1" cy="300.5" r="0.8"/><circle cx="601.2" cy="360.5" r="0.8"/><circle cx="592.7" cy="349.8" r="0.8"/><circle cx="599.4" cy="326.9" r="0.8"/><circle cx="586.2" cy="368.4" r="0.8"/><circle cx="596.8" cy="332.3" r="0.8"/><circle cx="592.9" cy="328.7" r="0.8"/><circle cx="604.3" cy="349.2" r="0.8"/><circle cx="588.2" cy="373.7" r="0.8"/><circle cx="586.5" cy="362.4" r="0.8"/><circle cx="596.4" cy="364.2" r="0.8"/><circle cx="593.9" cy="353.5" r="0.8"/><circle cx="587.6" cy="365.4" r="0.8"/><circle cx="589.4" cy="327.4" r="0.8"/><circle cx="594.2" cy="313.3" r="0.8"/><circle cx="599.3" cy="371.9" r="0.8"/><circle cx="594.8" cy="338.2" r="0.8"/><circle cx="598.1" cy="356.7" r="0.8"/><circle cx="587.8" cy="353.3" r="0.8"/><circle cx="596.5" cy="355.8" r="0.8"/><circle cx="584.1" cy="359.1" r="0.8"/><circle cx="583.9" cy="353.8" r="0.8"/><circle cx="584.8" cy="350.8" r="0.8"/><circle cx="586.2" cy="360.7" r="0.8"/><circle cx="602.2" cy="364.1" r="0.8"/><circle cx="603.4" cy="358.7" r="0.8"/><circle cx="594.9" cy="366.3" r="0.8"/><circle cx="590.3" cy="349.1" r="0.8"/><circle cx="591.9" cy="352.1" r="0.8"/><circle cx="598.7" cy="345.1" r="0.8"/><circle cx="596.6" cy="348.7" r="0.8"/><circle cx="593.7" cy="349.4" r="0.8"/><circle cx="597.4" cy="364.1" r="0.8"/><circle cx="594.8" cy="357.0" r="0.8"/><circle cx="602.3" cy="370.6" r="0.8"/><circle cx="590.8" cy="340.2" r="0.8"/><circle cx="597.3" cy="329.1" r="0.8"/><circle cx="585.1" cy="347.9" r="0.8"/><circle cx="603.1" cy="353.8" r="0.8"/><circle cx="601.1" cy="360.6" r="0.8"/><circle cx="603.2" cy="352.4" r="0.8"/><circle cx="591.0" cy="342.6" r="0.8"/><circle cx="598.7" cy="354.1" r="0.8"/><circle cx="590.3" cy="350.7" r="0.8"/><circle cx="593.4" cy="371.9" r="0.8"/><circle cx="598.3" cy="364.6" r="0.8"/><circle cx="592.2" cy="352.0" r="0.8"/><circle cx="598.5" cy="332.9" r="0.8"/><circle cx="585.6" cy="361.9" r="0.8"/><circle cx="591.6" cy="353.8" r="0.8"/><circle cx="586.8" cy="360.2" r="0.8"/><circle cx="601.8" cy="370.1" r="0.8"/><circle cx="596.5" cy="361.5" r="0.8"/><circle cx="597.3" cy="347.1" r="0.8"/><circle cx="593.8" cy="358.6" r="0.8"/><circle cx="590.5" cy="355.8" r="0.8"/><circle cx="584.0" cy="353.1" r="0.8"/><circle cx="592.4" cy="350.2" r="0.8"/><circle cx="591.6" cy="349.6" r="0.8"/><circle cx="593.0" cy="346.9" r="0.8"/><circle cx="595.9" cy="331.6" r="0.8"/><circle cx="588.8" cy="348.6" r="0.8"/><circle cx="588.1" cy="351.5" r="0.8"/><circle cx="590.7" cy="330.0" r="0.8"/><circle cx="600.3" cy="356.0" r="0.8"/><circle cx="604.6" cy="352.8" r="0.8"/><circle cx="588.6" cy="371.8" r="0.8"/><circle cx="589.1" cy="349.0" r="0.8"/><circle cx="587.6" cy="350.8" r="0.8"/><circle cx="592.8" cy="327.9" r="0.8"/><circle cx="595.1" cy="372.4" r="0.8"/><circle cx="602.9" cy="363.5" r="0.8"/><circle cx="591.1" cy="343.8" r="0.8"/><circle cx="591.9" cy="341.3" r="0.8"/><circle cx="602.7" cy="347.5" r="0.8"/><circle cx="586.4" cy="363.8" r="0.8"/><circle cx="599.3" cy="328.5" r="0.8"/><circle cx="603.9" cy="351.9" r="0.8"/><circle cx="597.7" cy="336.0" r="0.8"/><circle cx="592.0" cy="337.5" r="0.8"/><circle cx="595.2" cy="347.8" r="0.8"/><circle cx="600.2" cy="353.7" r="0.8"/><circle cx="594.4" cy="348.0" r="0.8"/><circle cx="590.1" cy="369.6" r="0.8"/><circle cx="596.4" cy="344.6" r="0.8"/><circle cx="597.7" cy="327.8" r="0.8"/><circle cx="597.8" cy="349.8" r="0.8"/><circle cx="587.7" cy="348.5" r="0.8"/><circle cx="587.3" cy="344.8" r="0.8"/><circle cx="590.3" cy="347.8" r="0.8"/><circle cx="597.9" cy="368.8" r="0.8"/><circle cx="594.3" cy="336.5" r="0.8"/><circle cx="599.6" cy="340.8" r="0.8"/><circle cx="589.5" cy="363.6" r="0.8"/><circle cx="601.2" cy="352.0" r="0.8"/><circle cx="586.2" cy="370.5" r="0.8"/><circle cx="588.5" cy="363.2" r="0.8"/><circle cx="585.0" cy="358.6" r="0.8"/><circle cx="598.7" cy="354.3" r="0.8"/><circle cx="599.2" cy="341.6" r="0.8"/><circle cx="592.3" cy="326.7" r="0.8"/><circle cx="592.1" cy="344.0" r="0.8"/><circle cx="586.2" cy="360.6" r="0.8"/><circle cx="588.4" cy="360.4" r="0.8"/><circle cx="591.5" cy="371.1" r="0.8"/><circle cx="586.7" cy="352.2" r="0.8"/><circle cx="596.0" cy="358.3" r="0.8"/><circle cx="592.4" cy="351.6" r="0.8"/><circle cx="585.2" cy="356.9" r="0.8"/><circle cx="598.7" cy="348.0" r="0.8"/><circle cx="593.6" cy="343.8" r="0.8"/><circle cx="592.1" cy="356.9" r="0.8"/><circle cx="602.1" cy="354.2" r="0.8"/><circle cx="590.2" cy="347.4" r="0.8"/><circle cx="600.8" cy="365.8" r="0.8"/><circle cx="586.8" cy="349.1" r="0.8"/><circle cx="602.3" cy="370.4" r="0.8"/><circle cx="585.8" cy="361.0" r="0.8"/><circle cx="602.1" cy="356.1" r="0.8"/><circle cx="604.6" cy="354.2" r="0.8"/><circle cx="591.1" cy="358.0" r="0.8"/><circle cx="594.9" cy="333.4" r="0.8"/><circle cx="597.3" cy="362.2" r="0.8"/><circle cx="597.0" cy="339.3" r="0.8"/><circle cx="590.8" cy="345.5" r="0.8"/><circle cx="598.5" cy="365.2" r="0.8"/><circle cx="592.7" cy="361.8" r="0.8"/><circle cx="586.5" cy="345.9" r="0.8"/><circle cx="598.1" cy="351.4" r="0.8"/><circle cx="602.9" cy="350.0" r="0.8"/><circle cx="593.7" cy="334.3" r="0.8"/><circle cx="592.8" cy="367.9" r="0.8"/><circle cx="595.0" cy="366.6" r="0.8"/><circle cx="594.8" cy="299.5" r="0.8"/><circle cx="597.2" cy="360.9" r="0.8"/><circle cx="600.8" cy="349.7" r="0.8"/><circle cx="600.0" cy="361.8" r="0.8"/><circle cx="586.0" cy="369.5" r="0.8"/><circle cx="595.5" cy="338.6" r="0.8"/><circle cx="602.1" cy="344.2" r="0.8"/><circle cx="597.2" cy="361.5" r="0.8"/><circle cx="589.2" cy="371.1" r="0.8"/><circle cx="595.0" cy="342.9" r="0.8"/><circle cx="604.3" cy="362.1" r="0.8"/><circle cx="593.4" cy="343.4" r="0.8"/><circle cx="589.6" cy="363.2" r="0.8"/><circle cx="595.5" cy="300.2" r="0.8"/><circle cx="598.3" cy="368.9" r="0.8"/><circle cx="591.3" cy="360.0" r="0.8"/><circle cx="592.4" cy="364.4" r="0.8"/><circle cx="585.1" cy="349.3" r="0.8"/><circle cx="590.0" cy="341.5" r="0.8"/><circle cx="600.0" cy="369.5" r="0.8"/><circle cx="600.0" cy="352.4" r="0.8"/><circle cx="596.8" cy="327.7" r="0.8"/><circle cx="604.4" cy="357.8" r="0.8"/><circle cx="591.7" cy="345.6" r="0.8"/><circle cx="601.7" cy="346.0" r="0.8"/><circle cx="598.8" cy="361.4" r="0.8"/><circle cx="589.6" cy="331.6" r="0.8"/><circle cx="594.2" cy="339.8" r="0.8"/><circle cx="599.6" cy="355.3" r="0.8"/><circle cx="594.9" cy="365.2" r="0.8"/><circle cx="590.7" cy="370.0" r="0.8"/><circle cx="599.7" cy="334.4" r="0.8"/><circle cx="593.3" cy="351.4" r="0.8"/><circle cx="591.2" cy="353.3" r="0.8"/><circle cx="595.4" cy="357.0" r="0.8"/><circle cx="594.0" cy="381.4" r="0.8"/><circle cx="591.8" cy="366.6" r="0.8"/><circle cx="598.0" cy="372.7" r="0.8"/><circle cx="589.7" cy="331.4" r="0.8"/><circle cx="589.3" cy="327.2" r="0.8"/><circle cx="587.6" cy="357.0" r="0.8"/><circle cx="590.4" cy="349.4" r="0.8"/><circle cx="593.4" cy="350.5" r="0.8"/><circle cx="593.5" cy="310.7" r="0.8"/><circle cx="594.8" cy="307.3" r="0.8"/><circle cx="587.2" cy="369.1" r="0.8"/><circle cx="588.5" cy="327.3" r="0.8"/><circle cx="599.0" cy="349.7" r="0.8"/><circle cx="591.3" cy="359.1" r="0.8"/><circle cx="591.6" cy="341.0" r="0.8"/><circle cx="595.0" cy="374.0" r="0.8"/><circle cx="590.4" cy="338.8" r="0.8"/><circle cx="591.9" cy="332.9" r="0.8"/><circle cx="594.1" cy="371.6" r="0.8"/><circle cx="604.2" cy="362.4" r="0.8"/><circle cx="594.2" cy="304.4" r="0.8"/><circle cx="597.6" cy="326.6" r="0.8"/><circle cx="597.1" cy="349.6" r="0.8"/><circle cx="593.7" cy="321.0" r="0.8"/><circle cx="596.2" cy="371.7" r="0.8"/><circle cx="600.6" cy="357.2" r="0.8"/><circle cx="599.2" cy="335.2" r="0.8"/><circle cx="596.0" cy="373.5" r="0.8"/><circle cx="594.9" cy="360.1" r="0.8"/><circle cx="596.6" cy="368.4" r="0.8"/><circle cx="601.9" cy="350.6" r="0.8"/><circle cx="595.2" cy="301.7" r="0.8"/><circle cx="602.4" cy="354.3" r="0.8"/><circle cx="597.8" cy="337.3" r="0.8"/><circle cx="592.0" cy="372.6" r="0.8"/><circle cx="603.2" cy="356.8" r="0.8"/><circle cx="594.5" cy="315.6" r="0.8"/><circle cx="595.0" cy="317.1" r="0.8"/><circle cx="598.2" cy="363.1" r="0.8"/><circle cx="596.8" cy="367.6" r="0.8"/><circle cx="599.4" cy="362.3" r="0.8"/><circle cx="594.0" cy="327.5" r="0.8"/><circle cx="597.9" cy="369.8" r="0.8"/><circle cx="603.5" cy="362.6" r="0.8"/><circle cx="587.5" cy="360.7" r="0.8"/><circle cx="596.6" cy="355.9" r="0.8"/><circle cx="595.5" cy="341.5" r="0.8"/><circle cx="597.6" cy="353.4" r="0.8"/><circle cx="597.6" cy="340.5" r="0.8"/><circle cx="591.5" cy="354.8" r="0.8"/><circle cx="591.1" cy="337.6" r="0.8"/><circle cx="590.2" cy="359.3" r="0.8"/><circle cx="603.3" cy="350.1" r="0.8"/><circle cx="599.8" cy="358.5" r="0.8"/><circle cx="603.9" cy="357.1" r="0.8"/><circle cx="595.6" cy="366.7" r="0.8"/><circle cx="599.3" cy="334.5" r="0.8"/><circle cx="591.7" cy="359.4" r="0.8"/><circle cx="595.2" cy="326.9" r="0.8"/><circle cx="599.6" cy="348.2" r="0.8"/><circle cx="591.8" cy="370.5" r="0.8"/><circle cx="591.0" cy="331.3" r="0.8"/><circle cx="590.2" cy="335.6" r="0.8"/><circle cx="595.3" cy="350.4" r="0.8"/><circle cx="589.8" cy="362.4" r="0.8"/><circle cx="593.0" cy="335.4" r="0.8"/><circle cx="602.3" cy="361.7" r="0.8"/><circle cx="597.9" cy="329.9" r="0.8"/><circle cx="590.4" cy="332.9" r="0.8"/><circle cx="595.6" cy="372.1" r="0.8"/><circle cx="594.5" cy="359.7" r="0.8"/><circle cx="593.9" cy="305.0" r="0.8"/><circle cx="592.0" cy="339.8" r="0.8"/><circle cx="586.9" cy="363.9" r="0.8"/><circle cx="600.0" cy="356.9" r="0.8"/><circle cx="598.3" cy="330.8" r="0.8"/><circle cx="594.2" cy="378.3" r="0.8"/><circle cx="600.5" cy="368.2" r="0.8"/><circle cx="590.6" cy="346.1" r="0.8"/><circle cx="585.2" cy="358.0" r="0.8"/><circle cx="601.5" cy="348.5" r="0.8"/><circle cx="592.0" cy="357.0" r="0.8"/><circle cx="591.3" cy="354.0" r="0.8"/><circle cx="592.3" cy="347.9" r="0.8"/><circle cx="602.1" cy="345.2" r="0.8"/><circle cx="588.4" cy="370.1" r="0.8"/><circle cx="585.8" cy="350.8" r="0.8"/><circle cx="594.4" cy="308.8" r="0.8"/><circle cx="594.7" cy="320.6" r="0.8"/><circle cx="585.6" cy="371.5" r="0.8"/><circle cx="594.3" cy="353.1" r="0.8"/><circle cx="603.9" cy="365.5" r="0.8"/><circle cx="594.3" cy="298.9" r="0.8"/><circle cx="587.5" cy="362.5" r="0.8"/><circle cx="592.6" cy="330.2" r="0.8"/><circle cx="600.3" cy="357.5" r="0.8"/><circle cx="593.2" cy="328.7" r="0.8"/><circle cx="594.7" cy="371.7" r="0.8"/><circle cx="589.3" cy="353.0" r="0.8"/><circle cx="602.6" cy="350.3" r="0.8"/><circle cx="595.4" cy="357.1" r="0.8"/><circle cx="599.3" cy="361.5" r="0.8"/><circle cx="592.7" cy="337.7" r="0.8"/><circle cx="595.6" cy="371.2" r="0.8"/><circle cx="590.8" cy="336.6" r="0.8"/><circle cx="595.0" cy="332.0" r="0.8"/><circle cx="594.2" cy="337.7" r="0.8"/><circle cx="589.3" cy="348.7" r="0.8"/><circle cx="587.4" cy="357.2" r="0.8"/><circle cx="597.5" cy="355.0" r="0.8"/><circle cx="598.2" cy="363.3" r="0.8"/><circle cx="602.1" cy="362.5" r="0.8"/><circle cx="598.8" cy="353.1" r="0.8"/><circle cx="604.0" cy="373.3" r="0.8"/><circle cx="594.2" cy="386.6" r="0.8"/><circle cx="583.9" cy="347.7" r="0.8"/><circle cx="594.3" cy="317.2" r="0.8"/><circle cx="590.8" cy="346.2" r="0.8"/><circle cx="596.1" cy="371.7" r="0.8"/><circle cx="594.7" cy="370.2" r="0.8"/><circle cx="604.2" cy="372.8" r="0.8"/><circle cx="604.7" cy="350.5" r="0.8"/><circle cx="598.1" cy="344.5" r="0.8"/><circle cx="590.9" cy="355.5" r="0.8"/><circle cx="590.7" cy="373.4" r="0.8"/><circle cx="590.6" cy="326.8" r="0.8"/><circle cx="590.7" cy="341.8" r="0.8"/><circle cx="594.2" cy="366.9" r="0.8"/><circle cx="596.4" cy="334.2" r="0.8"/><circle cx="593.8" cy="328.4" r="0.8"/><circle cx="594.1" cy="361.2" r="0.8"/><circle cx="590.9" cy="351.8" r="0.8"/><circle cx="594.2" cy="383.4" r="0.8"/><circle cx="603.1" cy="359.4" r="0.8"/><circle cx="591.7" cy="365.5" r="0.8"/><circle cx="587.6" cy="327.1" r="0.8"/><circle cx="596.0" cy="345.3" r="0.8"/><circle cx="595.7" cy="363.0" r="0.8"/><circle cx="587.3" cy="344.9" r="0.8"/><circle cx="594.6" cy="369.6" r="0.8"/><circle cx="600.5" cy="372.7" r="0.8"/><circle cx="589.4" cy="357.1" r="0.8"/><circle cx="593.1" cy="337.6" r="0.8"/><circle cx="596.1" cy="328.3" r="0.8"/><circle cx="596.5" cy="361.2" r="0.8"/><circle cx="602.7" cy="361.8" r="0.8"/><circle cx="589.5" cy="356.1" r="0.8"/><circle cx="592.8" cy="357.9" r="0.8"/><circle cx="587.4" cy="346.7" r="0.8"/><circle cx="604.7" cy="355.0" r="0.8"/><circle cx="591.6" cy="363.3" r="0.8"/><circle cx="600.6" cy="362.0" r="0.8"/><circle cx="595.3" cy="351.8" r="0.8"/><circle cx="585.8" cy="372.1" r="0.8"/><circle cx="600.6" cy="366.9" r="0.8"/><circle cx="590.1" cy="366.1" r="0.8"/><circle cx="584.3" cy="365.8" r="0.8"/><circle cx="603.5" cy="373.9" r="0.8"/><circle cx="589.5" cy="353.0" r="0.8"/><circle cx="584.9" cy="349.2" r="0.8"/><circle cx="586.5" cy="361.4" r="0.8"/><circle cx="596.7" cy="327.0" r="0.8"/><circle cx="598.6" cy="361.1" r="0.8"/><circle cx="593.7" cy="354.1" r="0.8"/><circle cx="593.6" cy="348.6" r="0.8"/><circle cx="589.6" cy="348.8" r="0.8"/><circle cx="600.0" cy="327.5" r="0.8"/><circle cx="585.6" cy="373.6" r="0.8"/><circle cx="587.0" cy="371.7" r="0.8"/><circle cx="601.5" cy="372.5" r="0.8"/><circle cx="601.0" cy="370.6" r="0.8"/><circle cx="599.2" cy="358.6" r="0.8"/><circle cx="604.7" cy="352.3" r="0.8"/><circle cx="598.5" cy="342.9" r="0.8"/><circle cx="592.4" cy="334.5" r="0.8"/><circle cx="586.7" cy="350.5" r="0.8"/><circle cx="596.4" cy="352.8" r="0.8"/><circle cx="584.9" cy="355.9" r="0.8"/><circle cx="593.4" cy="364.9" r="0.8"/><circle cx="585.3" cy="364.8" r="0.8"/><circle cx="600.6" cy="359.2" r="0.8"/><circle cx="586.3" cy="369.9" r="0.8"/><circle cx="600.8" cy="349.3" r="0.8"/><circle cx="603.2" cy="363.2" r="0.8"/><circle cx="593.8" cy="316.0" r="0.8"/><circle cx="593.9" cy="360.1" r="0.8"/><circle cx="589.9" cy="343.8" r="0.8"/><circle cx="589.0" cy="362.5" r="0.8"/><circle cx="585.6" cy="364.2" r="0.8"/><circle cx="592.8" cy="356.2" r="0.8"/><circle cx="587.0" cy="352.6" r="0.8"/><circle cx="594.3" cy="313.9" r="0.8"/><circle cx="598.8" cy="367.2" r="0.8"/><circle cx="594.8" cy="374.7" r="0.8"/><circle cx="602.9" cy="371.7" r="0.8"/><circle cx="597.9" cy="334.7" r="0.8"/><circle cx="603.0" cy="372.4" r="0.8"/><circle cx="591.7" cy="327.1" r="0.8"/><circle cx="597.9" cy="366.5" r="0.8"/><circle cx="598.4" cy="329.6" r="0.8"/><circle cx="604.8" cy="359.5" r="0.8"/><circle cx="598.8" cy="329.9" r="0.8"/><circle cx="591.8" cy="355.6" r="0.8"/><circle cx="604.2" cy="358.7" r="0.8"/><circle cx="594.3" cy="380.8" r="0.8"/><circle cx="601.7" cy="357.6" r="0.8"/><circle cx="585.0" cy="355.7" r="0.8"/><circle cx="595.6" cy="327.7" r="0.8"/><circle cx="598.6" cy="353.3" r="0.8"/><circle cx="599.4" cy="335.6" r="0.8"/><circle cx="598.9" cy="355.8" r="0.8"/><circle cx="591.0" cy="349.2" r="0.8"/><circle cx="593.5" cy="350.0" r="0.8"/><circle cx="596.4" cy="369.6" r="0.8"/><circle cx="586.6" cy="350.7" r="0.8"/><circle cx="590.7" cy="346.0" r="0.8"/><circle cx="604.8" cy="357.0" r="0.8"/><circle cx="590.1" cy="366.5" r="0.8"/><circle cx="597.9" cy="367.5" r="0.8"/><circle cx="585.0" cy="356.9" r="0.8"/><circle cx="593.9" cy="322.8" r="0.8"/><circle cx="585.6" cy="355.3" r="0.8"/><circle cx="592.4" cy="363.6" r="0.8"/><circle cx="587.7" cy="354.6" r="0.8"/><circle cx="586.3" cy="344.8" r="0.8"/><circle cx="599.4" cy="335.2" r="0.8"/><circle cx="591.9" cy="369.6" r="0.8"/><circle cx="588.2" cy="355.3" r="0.8"/><circle cx="586.8" cy="373.3" r="0.8"/><circle cx="586.9" cy="360.8" r="0.8"/><circle cx="590.7" cy="355.5" r="0.8"/><circle cx="593.8" cy="366.4" r="0.8"/><circle cx="587.2" cy="369.3" r="0.8"/><circle cx="595.6" cy="340.4" r="0.8"/><circle cx="586.6" cy="364.9" r="0.8"/><circle cx="596.3" cy="343.9" r="0.8"/><circle cx="589.6" cy="368.8" r="0.8"/><circle cx="595.8" cy="367.4" r="0.8"/><circle cx="598.4" cy="366.0" r="0.8"/><circle cx="591.9" cy="338.9" r="0.8"/><circle cx="601.1" cy="371.4" r="0.8"/><circle cx="597.3" cy="364.9" r="0.8"/><circle cx="590.5" cy="349.8" r="0.8"/><circle cx="592.1" cy="356.1" r="0.8"/><circle cx="593.7" cy="332.3" r="0.8"/><circle cx="604.6" cy="361.5" r="0.8"/><circle cx="600.2" cy="373.6" r="0.8"/><circle cx="584.7" cy="346.2" r="0.8"/><circle cx="601.4" cy="357.4" r="0.8"/><circle cx="595.1" cy="353.0" r="0.8"/><circle cx="599.2" cy="366.1" r="0.8"/><circle cx="589.4" cy="327.4" r="0.8"/><circle cx="592.4" cy="341.8" r="0.8"/><circle cx="604.0" cy="363.1" r="0.8"/><circle cx="602.0" cy="358.9" r="0.8"/><circle cx="596.2" cy="369.6" r="0.8"/><circle cx="594.3" cy="310.4" r="0.8"/><circle cx="590.0" cy="369.1" r="0.8"/><circle cx="591.6" cy="357.4" r="0.8"/><circle cx="594.5" cy="365.1" r="0.8"/><circle cx="593.0" cy="354.6" r="0.8"/><circle cx="594.1" cy="350.0" r="0.8"/><circle cx="598.0" cy="362.8" r="0.8"/><circle cx="603.1" cy="350.9" r="0.8"/><circle cx="598.3" cy="347.6" r="0.8"/><circle cx="600.7" cy="363.9" r="0.8"/><circle cx="593.8" cy="306.3" r="0.8"/><circle cx="595.2" cy="358.2" r="0.8"/><circle cx="591.4" cy="351.5" r="0.8"/><circle cx="593.8" cy="321.9" r="0.8"/><circle cx="589.9" cy="360.9" r="0.8"/><circle cx="595.0" cy="385.8" r="0.8"/><circle cx="604.8" cy="363.2" r="0.8"/><circle cx="593.3" cy="370.9" r="0.8"/><circle cx="586.9" cy="371.5" r="0.8"/><circle cx="594.8" cy="329.9" r="0.8"/><circle cx="587.0" cy="348.6" r="0.8"/><circle cx="593.2" cy="367.1" r="0.8"/><circle cx="586.1" cy="358.1" r="0.8"/><circle cx="596.3" cy="358.6" r="0.8"/><circle cx="590.5" cy="370.0" r="0.8"/><circle cx="590.1" cy="362.5" r="0.8"/><circle cx="591.6" cy="375.9" r="0.8"/><circle cx="591.3" cy="328.2" r="0.8"/><circle cx="599.7" cy="355.7" r="0.8"/><circle cx="601.8" cy="353.0" r="0.8"/><circle cx="592.2" cy="337.0" r="0.8"/><circle cx="586.2" cy="351.6" r="0.8"/><circle cx="595.6" cy="355.0" r="0.8"/><circle cx="591.1" cy="345.7" r="0.8"/><circle cx="586.5" cy="352.9" r="0.8"/><circle cx="599.5" cy="360.1" r="0.8"/><circle cx="595.5" cy="343.5" r="0.8"/><circle cx="592.1" cy="371.3" r="0.8"/><circle cx="603.0" cy="351.0" r="0.8"/><circle cx="594.6" cy="367.6" r="0.8"/><circle cx="596.6" cy="353.6" r="0.8"/><circle cx="595.0" cy="366.7" r="0.8"/><circle cx="600.4" cy="353.1" r="0.8"/><circle cx="603.8" cy="359.4" r="0.8"/><circle cx="587.4" cy="347.0" r="0.8"/><circle cx="595.0" cy="360.5" r="0.8"/><circle cx="597.8" cy="370.6" r="0.8"/><circle cx="601.3" cy="350.1" r="0.8"/><circle cx="600.9" cy="357.3" r="0.8"/><circle cx="587.0" cy="345.4" r="0.8"/><circle cx="586.9" cy="348.8" r="0.8"/><circle cx="595.0" cy="377.5" r="0.8"/><circle cx="590.3" cy="350.7" r="0.8"/><circle cx="598.2" cy="375.6" r="0.8"/><circle cx="594.5" cy="329.9" r="0.8"/><circle cx="594.9" cy="351.3" r="0.8"/><circle cx="591.1" cy="351.0" r="0.8"/><circle cx="584.5" cy="359.0" r="0.8"/><circle cx="592.7" cy="373.4" r="0.8"/><circle cx="597.0" cy="361.0" r="0.8"/><circle cx="587.6" cy="361.3" r="0.8"/><circle cx="590.4" cy="367.0" r="0.8"/><circle cx="594.4" cy="309.2" r="0.8"/><circle cx="596.1" cy="362.7" r="0.8"/><circle cx="596.8" cy="353.7" r="0.8"/><circle cx="586.7" cy="363.7" r="0.8"/><circle cx="597.7" cy="335.9" r="0.8"/><circle cx="593.2" cy="370.6" r="0.8"/><circle cx="595.3" cy="310.9" r="0.8"/><circle cx="588.9" cy="367.4" r="0.8"/><circle cx="584.9" cy="362.7" r="0.8"/><circle cx="601.2" cy="356.1" r="0.8"/><circle cx="603.3" cy="360.8" r="0.8"/><circle cx="590.0" cy="371.5" r="0.8"/><circle cx="593.5" cy="340.7" r="0.8"/><circle cx="597.0" cy="373.3" r="0.8"/><circle cx="596.7" cy="361.7" r="0.8"/><circle cx="594.5" cy="379.1" r="0.8"/><circle cx="604.6" cy="373.4" r="0.8"/><circle cx="604.6" cy="358.5" r="0.8"/><circle cx="584.0" cy="351.7" r="0.8"/><circle cx="593.5" cy="385.5" r="0.8"/><circle cx="594.9" cy="355.9" r="0.8"/><circle cx="590.9" cy="359.5" r="0.8"/><circle cx="593.5" cy="309.0" r="0.8"/><circle cx="594.4" cy="310.4" r="0.8"/><circle cx="591.3" cy="350.5" r="0.8"/><circle cx="604.4" cy="346.1" r="0.8"/><circle cx="604.5" cy="373.9" r="0.8"/><circle cx="603.0" cy="352.5" r="0.8"/><circle cx="593.3" cy="330.8" r="0.8"/><circle cx="597.4" cy="333.5" r="0.8"/><circle cx="594.1" cy="346.0" r="0.8"/><circle cx="589.5" cy="343.2" r="0.8"/><circle cx="597.3" cy="326.8" r="0.8"/><circle cx="600.4" cy="350.5" r="0.8"/><circle cx="589.5" cy="367.0" r="0.8"/><circle cx="597.5" cy="347.2" r="0.8"/><circle cx="600.0" cy="363.4" r="0.8"/><circle cx="591.7" cy="331.6" r="0.8"/><circle cx="591.4" cy="365.2" r="0.8"/><circle cx="598.2" cy="334.2" r="0.8"/><circle cx="603.4" cy="348.2" r="0.8"/><circle cx="587.6" cy="348.3" r="0.8"/><circle cx="594.2" cy="364.9" r="0.8"/><circle cx="590.7" cy="355.2" r="0.8"/><circle cx="601.6" cy="353.2" r="0.8"/><circle cx="595.2" cy="300.6" r="0.8"/><circle cx="589.5" cy="346.5" r="0.8"/><circle cx="594.7" cy="344.7" r="0.8"/><circle cx="594.2" cy="298.1" r="0.8"/><circle cx="591.1" cy="356.4" r="0.8"/><circle cx="600.3" cy="349.2" r="0.8"/><circle cx="586.1" cy="352.0" r="0.8"/><circle cx="588.4" cy="356.5" r="0.8"/><circle cx="598.7" cy="360.5" r="0.8"/><circle cx="594.4" cy="359.3" r="0.8"/><circle cx="593.5" cy="371.6" r="0.8"/><circle cx="590.6" cy="326.7" r="0.8"/><circle cx="591.0" cy="363.0" r="0.8"/><circle cx="594.4" cy="335.8" r="0.8"/><circle cx="602.6" cy="359.4" r="0.8"/><circle cx="602.2" cy="360.2" r="0.8"/><circle cx="599.5" cy="373.9" r="0.8"/><circle cx="595.2" cy="354.2" r="0.8"/><circle cx="597.9" cy="365.1" r="0.8"/><circle cx="596.3" cy="358.7" r="0.8"/><circle cx="598.8" cy="342.8" r="0.8"/><circle cx="598.3" cy="327.1" r="0.8"/><circle cx="601.3" cy="372.9" r="0.8"/><circle cx="598.6" cy="345.9" r="0.8"/><circle cx="594.9" cy="331.4" r="0.8"/><circle cx="593.5" cy="335.1" r="0.8"/><circle cx="593.9" cy="338.5" r="0.8"/><circle cx="598.5" cy="342.1" r="0.8"/><circle cx="601.8" cy="354.1" r="0.8"/><circle cx="587.3" cy="373.5" r="0.8"/><circle cx="603.2" cy="365.6" r="0.8"/><circle cx="590.2" cy="340.1" r="0.8"/><circle cx="592.4" cy="357.9" r="0.8"/><circle cx="584.8" cy="354.9" r="0.8"/><circle cx="584.3" cy="346.7" r="0.8"/><circle cx="593.3" cy="357.4" r="0.8"/><circle cx="601.0" cy="362.5" r="0.8"/><circle cx="588.2" cy="361.7" r="0.8"/><circle cx="590.2" cy="328.5" r="0.8"/><circle cx="600.5" cy="355.6" r="0.8"/><circle cx="599.0" cy="344.7" r="0.8"/><circle cx="603.7" cy="347.1" r="0.8"/><circle cx="601.2" cy="359.5" r="0.8"/><circle cx="589.4" cy="357.5" r="0.8"/><circle cx="588.9" cy="353.9" r="0.8"/><circle cx="590.3" cy="353.3" r="0.8"/><circle cx="599.6" cy="350.5" r="0.8"/><circle cx="602.6" cy="365.0" r="0.8"/><circle cx="592.0" cy="356.1" r="0.8"/><circle cx="602.3" cy="344.8" r="0.8"/><circle cx="600.6" cy="362.1" r="0.8"/><circle cx="590.6" cy="356.4" r="0.8"/><circle cx="596.8" cy="342.8" r="0.8"/><circle cx="591.6" cy="348.2" r="0.8"/><circle cx="602.4" cy="351.0" r="0.8"/><circle cx="597.1" cy="371.0" r="0.8"/><circle cx="597.6" cy="347.4" r="0.8"/><circle cx="595.5" cy="344.8" r="0.8"/><circle cx="592.2" cy="369.9" r="0.8"/><circle cx="596.2" cy="366.7" r="0.8"/><circle cx="598.1" cy="331.1" r="0.8"/><circle cx="588.0" cy="355.5" r="0.8"/><circle cx="596.7" cy="340.1" r="0.8"/><circle cx="598.3" cy="372.7" r="0.8"/><circle cx="594.6" cy="331.1" r="0.8"/><circle cx="591.7" cy="350.5" r="0.8"/><circle cx="591.9" cy="364.3" r="0.8"/><circle cx="589.9" cy="346.8" r="0.8"/><circle cx="603.3" cy="353.2" r="0.8"/><circle cx="586.6" cy="363.9" r="0.8"/><circle cx="594.0" cy="296.2" r="0.8"/><circle cx="596.1" cy="374.4" r="0.8"/><circle cx="601.0" cy="360.2" r="0.8"/><circle cx="589.2" cy="335.8" r="0.8"/><circle cx="592.6" cy="332.3" r="0.8"/><circle cx="600.3" cy="366.7" r="0.8"/><circle cx="594.9" cy="321.9" r="0.8"/><circle cx="597.4" cy="371.0" r="0.8"/><circle cx="593.8" cy="359.3" r="0.8"/><circle cx="594.0" cy="340.5" r="0.8"/><circle cx="599.9" cy="368.5" r="0.8"/><circle cx="604.2" cy="359.5" r="0.8"/><circle cx="595.0" cy="357.5" r="0.8"/><circle cx="598.2" cy="353.8" r="0.8"/><circle cx="600.9" cy="358.4" r="0.8"/><circle cx="601.1" cy="362.9" r="0.8"/><circle cx="593.2" cy="355.6" r="0.8"/><circle cx="584.8" cy="355.8" r="0.8"/><circle cx="604.1" cy="348.5" r="0.8"/><circle cx="593.0" cy="370.1" r="0.8"/><circle cx="596.1" cy="374.1" r="0.8"/><circle cx="595.6" cy="342.6" r="0.8"/><circle cx="586.0" cy="349.1" r="0.8"/><circle cx="584.6" cy="346.2" r="0.8"/><circle cx="594.0" cy="348.6" r="0.8"/><circle cx="603.2" cy="372.9" r="0.8"/><circle cx="595.5" cy="368.8" r="0.8"/><circle cx="598.2" cy="328.9" r="0.8"/><circle cx="590.8" cy="353.3" r="0.8"/><circle cx="595.5" cy="359.3" r="0.8"/><circle cx="599.1" cy="344.4" r="0.8"/><circle cx="590.0" cy="364.4" r="0.8"/><circle cx="594.2" cy="314.5" r="0.8"/><circle cx="603.2" cy="346.6" r="0.8"/><circle cx="588.7" cy="363.8" r="0.8"/><circle cx="588.7" cy="344.2" r="0.8"/><circle cx="592.8" cy="353.6" r="0.8"/><circle cx="590.5" cy="362.0" r="0.8"/><circle cx="597.6" cy="368.8" r="0.8"/><circle cx="592.8" cy="367.5" r="0.8"/><circle cx="597.5" cy="353.3" r="0.8"/><circle cx="588.0" cy="356.5" r="0.8"/><circle cx="597.4" cy="329.1" r="0.8"/><circle cx="603.0" cy="359.8" r="0.8"/><circle cx="589.7" cy="351.1" r="0.8"/><circle cx="594.3" cy="334.9" r="0.8"/><circle cx="598.9" cy="342.8" r="0.8"/><circle cx="585.0" cy="348.2" r="0.8"/><circle cx="591.0" cy="332.3" r="0.8"/><circle cx="590.0" cy="348.3" r="0.8"/><circle cx="593.8" cy="337.1" r="0.8"/><circle cx="592.6" cy="347.5" r="0.8"/><circle cx="584.0" cy="365.2" r="0.8"/><circle cx="590.0" cy="349.9" r="0.8"/><circle cx="586.6" cy="344.8" r="0.8"/><circle cx="591.9" cy="346.9" r="0.8"/><circle cx="590.5" cy="356.6" r="0.8"/><circle cx="593.5" cy="374.7" r="0.8"/><circle cx="596.4" cy="350.9" r="0.8"/><circle cx="590.4" cy="338.7" r="0.8"/><circle cx="596.4" cy="332.0" r="0.8"/><circle cx="596.6" cy="350.2" r="0.8"/><circle cx="585.2" cy="354.4" r="0.8"/><circle cx="594.0" cy="364.6" r="0.8"/><circle cx="603.8" cy="365.9" r="0.8"/><circle cx="597.9" cy="338.6" r="0.8"/><circle cx="598.2" cy="374.6" r="0.8"/><circle cx="587.8" cy="356.3" r="0.8"/><circle cx="601.1" cy="361.6" r="0.8"/><circle cx="595.2" cy="357.5" r="0.8"/><circle cx="594.5" cy="288.3" r="0.8"/><circle cx="597.7" cy="372.6" r="0.8"/><circle cx="598.8" cy="345.2" r="0.8"/><circle cx="593.7" cy="345.5" r="0.8"/><circle cx="587.3" cy="373.1" r="0.8"/><circle cx="601.0" cy="365.6" r="0.8"/><circle cx="585.2" cy="361.8" r="0.8"/><circle cx="591.1" cy="367.0" r="0.8"/><circle cx="601.3" cy="358.1" r="0.8"/><circle cx="592.9" cy="339.4" r="0.8"/><circle cx="594.2" cy="305.2" r="0.8"/><circle cx="603.8" cy="351.6" r="0.8"/><circle cx="601.3" cy="355.8" r="0.8"/><circle cx="596.8" cy="350.5" r="0.8"/><circle cx="599.1" cy="360.9" r="0.8"/><circle cx="590.4" cy="351.9" r="0.8"/><circle cx="597.0" cy="361.0" r="0.8"/><circle cx="601.7" cy="354.1" r="0.8"/><circle cx="587.1" cy="356.3" r="0.8"/><circle cx="591.8" cy="351.9" r="0.8"/><circle cx="594.7" cy="351.4" r="0.8"/><circle cx="587.9" cy="350.0" r="0.8"/><circle cx="603.3" cy="357.2" r="0.8"/><circle cx="601.6" cy="359.2" r="0.8"/><circle cx="584.7" cy="357.8" r="0.8"/><circle cx="593.2" cy="353.1" r="0.8"/><circle cx="594.3" cy="373.4" r="0.8"/><circle cx="584.2" cy="348.7" r="0.8"/><circle cx="601.0" cy="348.4" r="0.8"/><circle cx="592.4" cy="364.9" r="0.8"/><circle cx="591.7" cy="330.5" r="0.8"/><circle cx="590.3" cy="347.7" r="0.8"/><circle cx="590.3" cy="336.0" r="0.8"/><circle cx="596.5" cy="356.6" r="0.8"/><circle cx="594.9" cy="322.6" r="0.8"/><circle cx="593.4" cy="362.8" r="0.8"/><circle cx="585.0" cy="352.8" r="0.8"/><circle cx="601.6" cy="352.7" r="0.8"/><circle cx="600.7" cy="361.1" r="0.8"/><circle cx="593.1" cy="354.8" r="0.8"/><circle cx="594.6" cy="325.8" r="0.8"/><circle cx="591.5" cy="375.5" r="0.8"/><circle cx="599.3" cy="345.0" r="0.8"/><circle cx="601.9" cy="367.9" r="0.8"/><circle cx="587.6" cy="352.5" r="0.8"/><circle cx="592.3" cy="346.5" r="0.8"/><circle cx="590.7" cy="353.4" r="0.8"/><circle cx="591.6" cy="337.2" r="0.8"/><circle cx="589.9" cy="340.1" r="0.8"/><circle cx="592.9" cy="374.8" r="0.8"/><circle cx="584.0" cy="363.6" r="0.8"/><circle cx="595.5" cy="345.2" r="0.8"/><circle cx="587.9" cy="346.3" r="0.8"/><circle cx="594.6" cy="353.6" r="0.8"/><circle cx="603.3" cy="373.5" r="0.8"/><circle cx="598.8" cy="366.6" r="0.8"/><circle cx="588.0" cy="360.5" r="0.8"/><circle cx="585.1" cy="353.4" r="0.8"/><circle cx="596.5" cy="345.5" r="0.8"/><circle cx="584.0" cy="363.0" r="0.8"/><circle cx="593.6" cy="348.5" r="0.8"/><circle cx="586.1" cy="348.6" r="0.8"/><circle cx="596.3" cy="358.6" r="0.8"/><circle cx="593.9" cy="334.9" r="0.8"/><circle cx="594.6" cy="364.1" r="0.8"/><circle cx="596.6" cy="342.4" r="0.8"/><circle cx="591.2" cy="363.8" r="0.8"/><circle cx="592.8" cy="343.4" r="0.8"/><circle cx="590.9" cy="355.8" r="0.8"/><circle cx="585.9" cy="360.2" r="0.8"/><circle cx="592.0" cy="336.8" r="0.8"/><circle cx="588.9" cy="358.5" r="0.8"/><circle cx="593.4" cy="341.5" r="0.8"/><circle cx="584.3" cy="354.2" r="0.8"/><circle cx="601.9" cy="372.7" r="0.8"/><circle cx="600.8" cy="361.1" r="0.8"/><circle cx="604.2" cy="364.5" r="0.8"/><circle cx="600.4" cy="369.1" r="0.8"/><circle cx="593.2" cy="377.1" r="0.8"/><circle cx="598.7" cy="350.8" r="0.8"/><circle cx="601.7" cy="354.0" r="0.8"/><circle cx="602.6" cy="346.9" r="0.8"/><circle cx="600.1" cy="358.9" r="0.8"/><circle cx="598.3" cy="374.5" r="0.8"/><circle cx="595.5" cy="334.5" r="0.8"/><circle cx="591.7" cy="344.7" r="0.8"/><circle cx="593.7" cy="336.3" r="0.8"/><circle cx="597.7" cy="356.5" r="0.8"/><circle cx="596.5" cy="362.7" r="0.8"/><circle cx="597.2" cy="327.6" r="0.8"/><circle cx="586.5" cy="371.8" r="0.8"/><circle cx="591.1" cy="352.2" r="0.8"/><circle cx="599.2" cy="369.9" r="0.8"/><circle cx="597.8" cy="361.1" r="0.8"/><circle cx="593.1" cy="327.4" r="0.8"/><circle cx="594.3" cy="332.3" r="0.8"/><circle cx="587.8" cy="353.8" r="0.8"/><circle cx="597.9" cy="371.9" r="0.8"/><circle cx="600.1" cy="353.5" r="0.8"/><circle cx="592.0" cy="330.2" r="0.8"/><circle cx="592.1" cy="334.6" r="0.8"/><circle cx="592.5" cy="372.8" r="0.8"/><circle cx="599.8" cy="362.6" r="0.8"/><circle cx="584.3" cy="354.4" r="0.8"/><circle cx="603.5" cy="373.2" r="0.8"/><circle cx="604.4" cy="358.4" r="0.8"/><circle cx="600.8" cy="351.5" r="0.8"/><circle cx="597.1" cy="362.5" r="0.8"/><circle cx="593.2" cy="343.6" r="0.8"/><circle cx="594.9" cy="325.6" r="0.8"/><circle cx="584.1" cy="362.4" r="0.8"/><circle cx="586.1" cy="353.4" r="0.8"/><circle cx="596.5" cy="345.9" r="0.8"/><circle cx="590.4" cy="367.5" r="0.8"/><circle cx="588.8" cy="353.2" r="0.8"/><circle cx="585.6" cy="351.3" r="0.8"/><circle cx="596.3" cy="336.6" r="0.8"/><circle cx="601.7" cy="351.0" r="0.8"/><circle cx="594.8" cy="332.2" r="0.8"/><circle cx="586.8" cy="345.8" r="0.8"/><circle cx="598.3" cy="368.9" r="0.8"/><circle cx="596.7" cy="343.8" r="0.8"/><circle cx="591.2" cy="354.2" r="0.8"/><circle cx="587.4" cy="351.8" r="0.8"/><circle cx="590.8" cy="354.5" r="0.8"/><circle cx="589.5" cy="351.0" r="0.8"/><circle cx="587.2" cy="357.1" r="0.8"/><circle cx="603.8" cy="356.7" r="0.8"/><circle cx="597.3" cy="334.1" r="0.8"/><circle cx="594.1" cy="365.4" r="0.8"/><circle cx="590.7" cy="358.8" r="0.8"/><circle cx="586.2" cy="358.7" r="0.8"/><circle cx="594.4" cy="385.1" r="0.8"/><circle cx="591.6" cy="371.3" r="0.8"/><circle cx="599.5" cy="355.2" r="0.8"/><circle cx="593.4" cy="300.2" r="0.8"/><circle cx="593.0" cy="351.6" r="0.8"/><circle cx="594.9" cy="363.2" r="0.8"/><circle cx="596.4" cy="374.0" r="0.8"/><circle cx="590.4" cy="361.8" r="0.8"/><circle cx="591.6" cy="326.1" r="0.8"/><circle cx="600.6" cy="361.1" r="0.8"/><circle cx="596.4" cy="335.8" r="0.8"/><circle cx="595.4" cy="350.0" r="0.8"/><circle cx="594.9" cy="371.1" r="0.8"/><circle cx="591.3" cy="329.7" r="0.8"/><circle cx="604.4" cy="356.0" r="0.8"/><circle cx="590.3" cy="374.2" r="0.8"/><circle cx="594.3" cy="331.8" r="0.8"/><circle cx="584.8" cy="349.6" r="0.8"/><circle cx="586.0" cy="371.3" r="0.8"/><circle cx="600.0" cy="357.5" r="0.8"/><circle cx="595.6" cy="356.6" r="0.8"/><circle cx="591.5" cy="364.7" r="0.8"/><circle cx="600.9" cy="349.4" r="0.8"/><circle cx="588.8" cy="334.9" r="0.8"/><circle cx="591.1" cy="348.0" r="0.8"/><circle cx="604.2" cy="365.9" r="0.8"/><circle cx="595.0" cy="308.2" r="0.8"/><circle cx="594.4" cy="349.6" r="0.8"/><circle cx="598.1" cy="367.9" r="0.8"/><circle cx="599.3" cy="335.5" r="0.8"/><circle cx="592.7" cy="327.0" r="0.8"/><circle cx="591.3" cy="337.2" r="0.8"/><circle cx="594.8" cy="304.3" r="0.8"/><circle cx="594.9" cy="352.8" r="0.8"/><circle cx="602.2" cy="373.0" r="0.8"/><circle cx="596.2" cy="329.7" r="0.8"/><circle cx="589.2" cy="347.4" r="0.8"/><circle cx="593.8" cy="290.5" r="0.8"/><circle cx="594.4" cy="297.5" r="0.8"/><circle cx="593.3" cy="347.7" r="0.8"/><circle cx="591.6" cy="370.6" r="0.8"/><circle cx="596.2" cy="331.3" r="0.8"/><circle cx="592.2" cy="371.6" r="0.8"/><circle cx="600.9" cy="357.1" r="0.8"/><circle cx="585.1" cy="356.7" r="0.8"/><circle cx="586.8" cy="367.5" r="0.8"/><circle cx="591.6" cy="360.4" r="0.8"/><circle cx="588.9" cy="345.6" r="0.8"/><circle cx="601.2" cy="368.2" r="0.8"/><circle cx="597.2" cy="347.4" r="0.8"/><circle cx="604.0" cy="365.7" r="0.8"/><circle cx="590.7" cy="368.6" r="0.8"/><circle cx="598.5" cy="328.1" r="0.8"/><circle cx="604.3" cy="363.2" r="0.8"/><circle cx="594.7" cy="383.7" r="0.8"/><circle cx="599.9" cy="349.5" r="0.8"/><circle cx="586.5" cy="353.3" r="0.8"/><circle cx="602.7" cy="351.6" r="0.8"/><circle cx="593.6" cy="317.6" r="0.8"/><circle cx="591.2" cy="361.5" r="0.8"/><circle cx="587.6" cy="351.7" r="0.8"/><circle cx="591.3" cy="338.8" r="0.8"/><circle cx="604.1" cy="365.2" r="0.8"/><circle cx="596.8" cy="349.7" r="0.8"/><circle cx="602.5" cy="361.0" r="0.8"/><circle cx="592.5" cy="326.2" r="0.8"/><circle cx="591.8" cy="373.7" r="0.8"/><circle cx="601.2" cy="366.0" r="0.8"/><circle cx="601.9" cy="345.1" r="0.8"/><circle cx="599.1" cy="371.4" r="0.8"/><circle cx="602.2" cy="348.1" r="0.8"/><circle cx="601.6" cy="359.6" r="0.8"/><circle cx="599.8" cy="348.4" r="0.8"/><circle cx="602.9" cy="348.7" r="0.8"/><circle cx="599.9" cy="346.4" r="0.8"/><circle cx="587.4" cy="327.6" r="0.8"/><circle cx="589.4" cy="367.2" r="0.8"/><circle cx="590.9" cy="373.1" r="0.8"/><circle cx="588.8" cy="360.9" r="0.8"/><circle cx="604.0" cy="373.6" r="0.8"/><circle cx="602.0" cy="358.5" r="0.8"/><circle cx="594.4" cy="307.6" r="0.8"/><circle cx="588.8" cy="364.6" r="0.8"/><circle cx="586.0" cy="358.5" r="0.8"/><circle cx="590.0" cy="374.1" r="0.8"/><circle cx="589.2" cy="345.9" r="0.8"/><circle cx="589.2" cy="357.0" r="0.8"/><circle cx="601.8" cy="353.0" r="0.8"/><circle cx="591.6" cy="327.5" r="0.8"/><circle cx="594.1" cy="362.1" r="0.8"/><circle cx="596.4" cy="349.2" r="0.8"/><circle cx="604.3" cy="363.3" r="0.8"/><circle cx="597.2" cy="327.6" r="0.8"/><circle cx="593.7" cy="301.7" r="0.8"/><circle cx="593.6" cy="358.8" r="0.8"/><circle cx="592.0" cy="327.4" r="0.8"/><circle cx="590.0" cy="367.0" r="0.8"/><circle cx="599.8" cy="373.9" r="0.8"/><circle cx="595.7" cy="357.8" r="0.8"/><circle cx="591.2" cy="360.7" r="0.8"/><circle cx="597.3" cy="365.6" r="0.8"/><circle cx="586.4" cy="360.7" r="0.8"/><circle cx="596.3" cy="364.5" r="0.8"/><circle cx="600.9" cy="359.7" r="0.8"/><circle cx="603.2" cy="346.2" r="0.8"/><circle cx="595.0" cy="364.1" r="0.8"/><circle cx="588.9" cy="351.1" r="0.8"/><circle cx="597.2" cy="335.6" r="0.8"/><circle cx="604.6" cy="353.7" r="0.8"/><circle cx="591.3" cy="370.9" r="0.8"/><circle cx="590.6" cy="363.1" r="0.8"/><circle cx="588.7" cy="369.5" r="0.8"/><circle cx="590.9" cy="361.7" r="0.8"/><circle cx="598.6" cy="345.7" r="0.8"/><circle cx="595.6" cy="346.7" r="0.8"/><circle cx="587.8" cy="355.7" r="0.8"/><circle cx="588.3" cy="373.6" r="0.8"/><circle cx="587.4" cy="351.2" r="0.8"/><circle cx="596.2" cy="326.2" r="0.8"/><circle cx="586.3" cy="355.9" r="0.8"/><circle cx="588.6" cy="352.2" r="0.8"/><circle cx="592.0" cy="352.1" r="0.8"/><circle cx="600.5" cy="355.4" r="0.8"/><circle cx="599.7" cy="326.3" r="0.8"/><circle cx="592.5" cy="372.4" r="0.8"/><circle cx="600.7" cy="356.7" r="0.8"/><circle cx="590.1" cy="327.3" r="0.8"/><circle cx="589.7" cy="370.8" r="0.8"/><circle cx="592.8" cy="328.2" r="0.8"/><circle cx="596.4" cy="351.8" r="0.8"/><circle cx="598.3" cy="355.9" r="0.8"/><circle cx="597.1" cy="329.1" r="0.8"/><circle cx="593.9" cy="314.2" r="0.8"/><circle cx="587.5" cy="368.6" r="0.8"/><circle cx="587.7" cy="364.0" r="0.8"/><circle cx="586.9" cy="372.9" r="0.8"/><circle cx="596.2" cy="359.7" r="0.8"/><circle cx="603.4" cy="352.4" r="0.8"/><circle cx="601.5" cy="359.5" r="0.8"/><circle cx="600.0" cy="348.4" r="0.8"/><circle cx="594.8" cy="374.7" r="0.8"/><circle cx="591.9" cy="374.4" r="0.8"/><circle cx="603.2" cy="356.0" r="0.8"/><circle cx="597.3" cy="360.8" r="0.8"/><circle cx="604.7" cy="357.0" r="0.8"/><circle cx="596.1" cy="348.8" r="0.8"/><circle cx="587.5" cy="351.5" r="0.8"/><circle cx="587.7" cy="373.6" r="0.8"/><circle cx="602.1" cy="372.0" r="0.8"/><circle cx="591.0" cy="374.9" r="0.8"/><circle cx="593.5" cy="344.5" r="0.8"/><circle cx="593.6" cy="326.8" r="0.8"/><circle cx="593.3" cy="336.5" r="0.8"/><circle cx="604.1" cy="355.8" r="0.8"/><circle cx="598.4" cy="342.8" r="0.8"/><circle cx="586.3" cy="351.1" r="0.8"/><circle cx="604.2" cy="372.1" r="0.8"/><circle cx="595.3" cy="372.0" r="0.8"/><circle cx="590.6" cy="343.8" r="0.8"/><circle cx="601.8" cy="353.3" r="0.8"/><circle cx="591.7" cy="348.5" r="0.8"/><circle cx="593.4" cy="358.2" r="0.8"/><circle cx="589.0" cy="362.1" r="0.8"/><circle cx="594.5" cy="364.7" r="0.8"/><circle cx="589.7" cy="353.9" r="0.8"/><circle cx="604.2" cy="355.2" r="0.8"/><circle cx="586.2" cy="352.3" r="0.8"/><circle cx="591.7" cy="355.0" r="0.8"/><circle cx="593.1" cy="345.0" r="0.8"/><circle cx="600.1" cy="371.6" r="0.8"/><circle cx="594.3" cy="331.1" r="0.8"/><circle cx="598.6" cy="365.8" r="0.8"/><circle cx="588.3" cy="357.2" r="0.8"/><circle cx="599.6" cy="362.4" r="0.8"/><circle cx="594.4" cy="380.9" r="0.8"/><circle cx="602.2" cy="372.7" r="0.8"/><circle cx="594.7" cy="386.4" r="0.8"/><circle cx="591.9" cy="354.0" r="0.8"/><circle cx="595.8" cy="369.0" r="0.8"/><circle cx="598.5" cy="348.7" r="0.8"/><circle cx="603.2" cy="351.4" r="0.8"/></g>
<g fill="#7a7a7a" opacity="1.0"><circle cx="629.0" cy="364.1" r="0.75"/><circle cx="632.5" cy="354.5" r="0.75"/><circle cx="626.7" cy="341.9" r="0.75"/><circle cx="632.9" cy="364.4" r="0.75"/><circle cx="627.9" cy="302.0" r="0.75"/><circle cx="618.4" cy="352.5" r="0.75"/><circle cx="637.6" cy="351.3" r="0.75"/><circle cx="629.6" cy="369.4" r="0.75"/><circle cx="638.8" cy="356.1" r="0.75"/><circle cx="621.1" cy="355.0" r="0.75"/><circle cx="628.7" cy="361.7" r="0.75"/><circle cx="628.5" cy="287.4" r="0.75"/><circle cx="626.6" cy="353.4" r="0.75"/><circle cx="631.5" cy="357.5" r="0.75"/><circle cx="628.7" cy="342.1" r="0.75"/><circle cx="630.8" cy="333.0" r="0.75"/><circle cx="638.6" cy="360.0" r="0.75"/><circle cx="625.5" cy="369.7" r="0.75"/><circle cx="623.1" cy="359.4" r="0.75"/><circle cx="631.5" cy="360.7" r="0.75"/><circle cx="632.9" cy="356.8" r="0.75"/><circle cx="628.2" cy="272.2" r="0.75"/><circle cx="634.6" cy="367.0" r="0.75"/><circle cx="633.3" cy="357.1" r="0.75"/><circle cx="631.6" cy="367.2" r="0.75"/><circle cx="625.0" cy="358.4" r="0.75"/><circle cx="627.2" cy="340.7" r="0.75"/><circle cx="630.6" cy="353.6" r="0.75"/><circle cx="627.7" cy="337.8" r="0.75"/><circle cx="632.1" cy="359.9" r="0.75"/><circle cx="620.2" cy="351.2" r="0.75"/><circle cx="628.1" cy="365.2" r="0.75"/><circle cx="623.7" cy="354.7" r="0.75"/><circle cx="632.2" cy="366.1" r="0.75"/><circle cx="631.2" cy="349.9" r="0.75"/><circle cx="618.3" cy="355.4" r="0.75"/><circle cx="631.0" cy="353.4" r="0.75"/><circle cx="634.6" cy="351.5" r="0.75"/><circle cx="638.4" cy="354.7" r="0.75"/><circle cx="627.4" cy="366.7" r="0.75"/><circle cx="632.4" cy="356.5" r="0.75"/><circle cx="627.0" cy="336.8" r="0.75"/><circle cx="620.2" cy="351.2" r="0.75"/><circle cx="622.6" cy="352.8" r="0.75"/><circle cx="629.8" cy="335.3" r="0.75"/><circle cx="634.7" cy="351.4" r="0.75"/><circle cx="622.0" cy="360.7" r="0.75"/><circle cx="627.8" cy="350.9" r="0.75"/><circle cx="626.8" cy="341.5" r="0.75"/><circle cx="621.4" cy="361.6" r="0.75"/><circle cx="630.8" cy="361.1" r="0.75"/><circle cx="628.6" cy="362.1" r="0.75"/><circle cx="628.8" cy="326.7" r="0.75"/><circle cx="617.3" cy="359.8" r="0.75"/><circle cx="625.1" cy="347.3" r="0.75"/><circle cx="629.9" cy="367.5" r="0.75"/><circle cx="628.9" cy="369.1" r="0.75"/><circle cx="626.1" cy="349.4" r="0.75"/><circle cx="631.3" cy="362.7" r="0.75"/><circle cx="635.6" cy="355.7" r="0.75"/><circle cx="638.6" cy="351.8" r="0.75"/><circle cx="618.2" cy="360.2" r="0.75"/><circle cx="620.2" cy="352.3" r="0.75"/><circle cx="622.2" cy="366.2" r="0.75"/><circle cx="624.0" cy="365.8" r="0.75"/><circle cx="629.3" cy="367.8" r="0.75"/><circle cx="638.7" cy="350.9" r="0.75"/><circle cx="633.8" cy="349.9" r="0.75"/><circle cx="637.2" cy="355.5" r="0.75"/><circle cx="618.6" cy="357.8" r="0.75"/><circle cx="627.2" cy="324.8" r="0.75"/><circle cx="628.8" cy="359.3" r="0.75"/><circle cx="630.4" cy="340.6" r="0.75"/><circle cx="628.9" cy="325.1" r="0.75"/><circle cx="630.4" cy="346.2" r="0.75"/><circle cx="629.1" cy="334.9" r="0.75"/><circle cx="628.0" cy="356.8" r="0.75"/><circle cx="637.9" cy="351.5" r="0.75"/><circle cx="628.9" cy="333.5" r="0.75"/><circle cx="629.6" cy="364.7" r="0.75"/><circle cx="630.1" cy="353.8" r="0.75"/><circle cx="626.3" cy="350.2" r="0.75"/><circle cx="626.7" cy="345.1" r="0.75"/><circle cx="637.5" cy="353.2" r="0.75"/><circle cx="628.4" cy="325.8" r="0.75"/><circle cx="627.5" cy="342.4" r="0.75"/><circle cx="628.1" cy="285.4" r="0.75"/><circle cx="625.2" cy="333.1" r="0.75"/><circle cx="626.4" cy="354.1" r="0.75"/><circle cx="629.0" cy="320.3" r="0.75"/><circle cx="620.9" cy="352.4" r="0.75"/><circle cx="626.9" cy="365.8" r="0.75"/><circle cx="621.4" cy="351.9" r="0.75"/><circle cx="632.5" cy="352.3" r="0.75"/><circle cx="619.1" cy="360.3" r="0.75"/><circle cx="628.3" cy="346.3" r="0.75"/><circle cx="632.1" cy="350.1" r="0.75"/><circle cx="627.0" cy="331.0" r="0.75"/><circle cx="632.9" cy="355.8" r="0.75"/><circle cx="636.0" cy="354.5" r="0.75"/><circle cx="620.2" cy="352.7" r="0.75"/><circle cx="629.1" cy="347.9" r="0.75"/><circle cx="630.9" cy="349.8" r="0.75"/><circle cx="633.6" cy="367.1" r="0.75"/><circle cx="630.1" cy="346.8" r="0.75"/><circle cx="633.6" cy="364.4" r="0.75"/><circle cx="621.9" cy="359.7" r="0.75"/><circle cx="632.5" cy="365.9" r="0.75"/><circle cx="626.9" cy="348.9" r="0.75"/><circle cx="627.5" cy="370.2" r="0.75"/><circle cx="629.1" cy="330.9" r="0.75"/><circle cx="622.6" cy="358.9" r="0.75"/><circle cx="631.9" cy="362.7" r="0.75"/><circle cx="630.7" cy="351.4" r="0.75"/><circle cx="629.2" cy="328.2" r="0.75"/><circle cx="621.9" cy="349.7" r="0.75"/><circle cx="638.0" cy="357.3" r="0.75"/><circle cx="633.6" cy="358.4" r="0.75"/><circle cx="617.8" cy="351.3" r="0.75"/><circle cx="626.9" cy="360.5" r="0.75"/><circle cx="625.0" cy="360.2" r="0.75"/><circle cx="621.7" cy="351.0" r="0.75"/><circle cx="623.0" cy="365.8" r="0.75"/><circle cx="638.6" cy="351.9" r="0.75"/><circle cx="628.5" cy="346.8" r="0.75"/><circle cx="625.8" cy="336.9" r="0.75"/><circle cx="617.2" cy="357.3" r="0.75"/><circle cx="633.4" cy="351.5" r="0.75"/><circle cx="635.3" cy="356.5" r="0.75"/><circle cx="627.3" cy="352.2" r="0.75"/><circle cx="633.6" cy="357.5" r="0.75"/><circle cx="622.5" cy="357.0" r="0.75"/><circle cx="627.1" cy="344.3" r="0.75"/><circle cx="639.0" cy="360.2" r="0.75"/><circle cx="627.7" cy="328.5" r="0.75"/><circle cx="636.4" cy="354.8" r="0.75"/><circle cx="634.1" cy="361.5" r="0.75"/><circle cx="636.9" cy="359.0" r="0.75"/><circle cx="628.0" cy="363.4" r="0.75"/><circle cx="627.0" cy="349.4" r="0.75"/><circle cx="618.2" cy="358.4" r="0.75"/><circle cx="624.6" cy="367.2" r="0.75"/><circle cx="634.0" cy="357.2" r="0.75"/><circle cx="627.8" cy="343.2" r="0.75"/><circle cx="628.4" cy="357.4" r="0.75"/><circle cx="627.8" cy="371.6" r="0.75"/><circle cx="623.9" cy="357.1" r="0.75"/><circle cx="637.9" cy="354.3" r="0.75"/><circle cx="633.8" cy="350.0" r="0.75"/><circle cx="618.4" cy="361.6" r="0.75"/><circle cx="638.6" cy="360.6" r="0.75"/><circle cx="630.8" cy="355.3" r="0.75"/><circle cx="629.8" cy="350.6" r="0.75"/><circle cx="628.0" cy="301.0" r="0.75"/><circle cx="626.1" cy="354.9" r="0.75"/><circle cx="627.0" cy="364.9" r="0.75"/><circle cx="627.4" cy="356.0" r="0.75"/><circle cx="627.1" cy="367.5" r="0.75"/><circle cx="632.7" cy="354.5" r="0.75"/><circle cx="634.9" cy="350.6" r="0.75"/><circle cx="633.6" cy="363.1" r="0.75"/><circle cx="623.8" cy="359.1" r="0.75"/><circle cx="620.7" cy="352.6" r="0.75"/><circle cx="631.4" cy="366.6" r="0.75"/><circle cx="631.6" cy="358.5" r="0.75"/><circle cx="621.1" cy="357.0" r="0.75"/><circle cx="628.2" cy="345.5" r="0.75"/><circle cx="635.8" cy="351.3" r="0.75"/><circle cx="627.2" cy="371.0" r="0.75"/><circle cx="617.4" cy="357.1" r="0.75"/><circle cx="632.8" cy="353.5" r="0.75"/><circle cx="629.2" cy="355.9" r="0.75"/><circle cx="638.4" cy="359.2" r="0.75"/><circle cx="629.6" cy="356.6" r="0.75"/><circle cx="627.8" cy="323.5" r="0.75"/><circle cx="637.3" cy="354.7" r="0.75"/><circle cx="630.3" cy="337.6" r="0.75"/><circle cx="638.7" cy="359.0" r="0.75"/><circle cx="629.9" cy="356.2" r="0.75"/><circle cx="632.2" cy="348.9" r="0.75"/><circle cx="620.6" cy="356.6" r="0.75"/><circle cx="626.4" cy="330.7" r="0.75"/><circle cx="628.6" cy="357.9" r="0.75"/><circle cx="626.2" cy="341.3" r="0.75"/><circle cx="630.1" cy="333.1" r="0.75"/><circle cx="627.5" cy="367.0" r="0.75"/><circle cx="627.4" cy="359.1" r="0.75"/><circle cx="637.5" cy="361.4" r="0.75"/><circle cx="626.8" cy="354.6" r="0.75"/><circle cx="627.9" cy="327.5" r="0.75"/><circle cx="631.4" cy="351.8" r="0.75"/><circle cx="625.9" cy="354.3" r="0.75"/><circle cx="634.8" cy="360.6" r="0.75"/><circle cx="619.6" cy="358.6" r="0.75"/><circle cx="628.3" cy="371.5" r="0.75"/><circle cx="627.2" cy="338.5" r="0.75"/><circle cx="629.5" cy="369.3" r="0.75"/><circle cx="617.3" cy="350.2" r="0.75"/><circle cx="625.7" cy="366.3" r="0.75"/><circle cx="630.4" cy="354.1" r="0.75"/><circle cx="628.2" cy="341.5" r="0.75"/><circle cx="621.8" cy="353.6" r="0.75"/><circle cx="630.7" cy="333.3" r="0.75"/><circle cx="634.2" cy="363.5" r="0.75"/><circle cx="625.2" cy="330.4" r="0.75"/><circle cx="628.1" cy="312.7" r="0.75"/><circle cx="627.8" cy="321.4" r="0.75"/><circle cx="637.6" cy="359.0" r="0.75"/><circle cx="625.3" cy="355.0" r="0.75"/><circle cx="628.6" cy="322.2" r="0.75"/><circle cx="632.5" cy="351.4" r="0.75"/><circle cx="620.5" cy="350.6" r="0.75"/><circle cx="631.1" cy="368.9" r="0.75"/><circle cx="620.7" cy="360.6" r="0.75"/><circle cx="629.9" cy="362.1" r="0.75"/><circle cx="636.6" cy="360.8" r="0.75"/><circle cx="638.9" cy="351.5" r="0.75"/><circle cx="618.9" cy="361.9" r="0.75"/><circle cx="626.5" cy="350.0" r="0.75"/><circle cx="628.1" cy="273.2" r="0.75"/><circle cx="622.0" cy="355.2" r="0.75"/><circle cx="636.2" cy="366.9" r="0.75"/><circle cx="638.6" cy="350.3" r="0.75"/><circle cx="627.0" cy="324.9" r="0.75"/><circle cx="626.0" cy="359.7" r="0.75"/><circle cx="628.1" cy="326.4" r="0.75"/><circle cx="629.6" cy="332.4" r="0.75"/><circle cx="621.0" cy="355.0" r="0.75"/><circle cx="636.1" cy="359.1" r="0.75"/><circle cx="627.8" cy="354.1" r="0.75"/><circle cx="627.0" cy="351.6" r="0.75"/><circle cx="634.7" cy="360.9" r="0.75"/><circle cx="626.5" cy="331.5" r="0.75"/><circle cx="628.4" cy="351.3" r="0.75"/><circle cx="620.3" cy="351.7" r="0.75"/><circle cx="628.4" cy="276.1" r="0.75"/><circle cx="620.9" cy="361.3" r="0.75"/><circle cx="620.9" cy="356.1" r="0.75"/><circle cx="633.3" cy="357.5" r="0.75"/><circle cx="626.5" cy="349.1" r="0.75"/><circle cx="628.5" cy="277.4" r="0.75"/><circle cx="622.6" cy="367.4" r="0.75"/><circle cx="630.9" cy="366.2" r="0.75"/><circle cx="626.5" cy="361.6" r="0.75"/><circle cx="620.9" cy="353.2" r="0.75"/><circle cx="628.1" cy="343.8" r="0.75"/><circle cx="626.5" cy="329.2" r="0.75"/><circle cx="637.6" cy="352.0" r="0.75"/><circle cx="629.7" cy="357.5" r="0.75"/><circle cx="620.4" cy="351.7" r="0.75"/><circle cx="626.9" cy="357.4" r="0.75"/><circle cx="629.2" cy="369.4" r="0.75"/><circle cx="631.1" cy="363.3" r="0.75"/><circle cx="620.1" cy="356.1" r="0.75"/><circle cx="627.4" cy="352.1" r="0.75"/><circle cx="634.0" cy="350.0" r="0.75"/><circle cx="632.3" cy="349.0" r="0.75"/><circle cx="625.7" cy="367.9" r="0.75"/><circle cx="619.7" cy="361.6" r="0.75"/><circle cx="624.5" cy="364.2" r="0.75"/><circle cx="633.7" cy="356.0" r="0.75"/><circle cx="626.7" cy="344.3" r="0.75"/><circle cx="621.7" cy="350.2" r="0.75"/><circle cx="617.9" cy="354.2" r="0.75"/><circle cx="626.2" cy="367.0" r="0.75"/><circle cx="637.7" cy="357.2" r="0.75"/><circle cx="629.6" cy="350.9" r="0.75"/><circle cx="624.6" cy="363.8" r="0.75"/><circle cx="617.6" cy="356.3" r="0.75"/><circle cx="638.7" cy="356.9" r="0.75"/><circle cx="626.2" cy="360.0" r="0.75"/><circle cx="628.7" cy="356.8" r="0.75"/><circle cx="622.9" cy="354.2" r="0.75"/><circle cx="628.6" cy="334.2" r="0.75"/><circle cx="630.7" cy="340.6" r="0.75"/><circle cx="628.9" cy="355.0" r="0.75"/><circle cx="627.3" cy="333.0" r="0.75"/><circle cx="636.5" cy="352.2" r="0.75"/><circle cx="618.6" cy="350.5" r="0.75"/><circle cx="627.7" cy="352.3" r="0.75"/><circle cx="630.5" cy="331.7" r="0.75"/><circle cx="626.2" cy="354.3" r="0.75"/><circle cx="624.5" cy="357.7" r="0.75"/><circle cx="630.3" cy="346.3" r="0.75"/><circle cx="631.2" cy="355.1" r="0.75"/><circle cx="632.9" cy="358.4" r="0.75"/><circle cx="627.9" cy="340.0" r="0.75"/><circle cx="622.8" cy="350.7" r="0.75"/><circle cx="629.4" cy="367.6" r="0.75"/><circle cx="636.5" cy="354.2" r="0.75"/><circle cx="625.8" cy="353.0" r="0.75"/><circle cx="626.0" cy="357.7" r="0.75"/><circle cx="628.4" cy="304.7" r="0.75"/><circle cx="623.8" cy="367.8" r="0.75"/><circle cx="620.8" cy="356.2" r="0.75"/><circle cx="627.7" cy="341.3" r="0.75"/><circle cx="637.2" cy="356.0" r="0.75"/><circle cx="628.4" cy="356.3" r="0.75"/><circle cx="627.2" cy="336.4" r="0.75"/><circle cx="623.6" cy="350.8" r="0.75"/><circle cx="627.3" cy="350.5" r="0.75"/><circle cx="630.7" cy="346.3" r="0.75"/><circle cx="623.8" cy="363.1" r="0.75"/><circle cx="630.8" cy="351.0" r="0.75"/><circle cx="631.2" cy="369.2" r="0.75"/><circle cx="632.9" cy="363.5" r="0.75"/><circle cx="628.6" cy="348.6" r="0.75"/><circle cx="631.1" cy="341.9" r="0.75"/><circle cx="627.1" cy="332.0" r="0.75"/><circle cx="622.6" cy="362.8" r="0.75"/><circle cx="624.7" cy="354.9" r="0.75"/><circle cx="625.9" cy="365.9" r="0.75"/><circle cx="635.2" cy="366.9" r="0.75"/><circle cx="622.0" cy="351.6" r="0.75"/><circle cx="626.8" cy="370.9" r="0.75"/><circle cx="627.5" cy="370.1" r="0.75"/><circle cx="627.5" cy="349.2" r="0.75"/><circle cx="637.3" cy="359.2" r="0.75"/><circle cx="623.4" cy="356.2" r="0.75"/><circle cx="624.3" cy="358.5" r="0.75"/><circle cx="622.6" cy="360.1" r="0.75"/><circle cx="622.0" cy="354.8" r="0.75"/><circle cx="625.0" cy="332.3" r="0.75"/><circle cx="628.6" cy="344.9" r="0.75"/><circle cx="624.6" cy="367.3" r="0.75"/><circle cx="624.7" cy="358.5" r="0.75"/><circle cx="632.1" cy="358.6" r="0.75"/><circle cx="620.6" cy="350.3" r="0.75"/><circle cx="625.8" cy="332.2" r="0.75"/><circle cx="627.8" cy="296.9" r="0.75"/><circle cx="630.7" cy="368.1" r="0.75"/><circle cx="631.0" cy="361.5" r="0.75"/><circle cx="627.7" cy="330.9" r="0.75"/><circle cx="626.4" cy="345.6" r="0.75"/><circle cx="628.3" cy="339.7" r="0.75"/><circle cx="619.2" cy="359.5" r="0.75"/><circle cx="630.3" cy="369.3" r="0.75"/><circle cx="638.6" cy="351.1" r="0.75"/><circle cx="627.7" cy="371.5" r="0.75"/><circle cx="624.7" cy="361.8" r="0.75"/><circle cx="620.8" cy="361.1" r="0.75"/><circle cx="633.2" cy="363.1" r="0.75"/><circle cx="620.6" cy="359.1" r="0.75"/><circle cx="627.3" cy="349.6" r="0.75"/><circle cx="619.7" cy="358.4" r="0.75"/><circle cx="627.3" cy="344.2" r="0.75"/><circle cx="637.7" cy="356.5" r="0.75"/><circle cx="627.4" cy="358.0" r="0.75"/><circle cx="619.6" cy="356.4" r="0.75"/><circle cx="621.7" cy="352.9" r="0.75"/><circle cx="625.3" cy="333.5" r="0.75"/><circle cx="628.6" cy="361.7" r="0.75"/><circle cx="632.5" cy="360.7" r="0.75"/><circle cx="624.6" cy="348.7" r="0.75"/><circle cx="627.8" cy="283.1" r="0.75"/><circle cx="626.4" cy="330.9" r="0.75"/><circle cx="635.1" cy="365.7" r="0.75"/><circle cx="634.4" cy="355.1" r="0.75"/><circle cx="628.2" cy="368.3" r="0.75"/><circle cx="619.4" cy="359.0" r="0.75"/><circle cx="622.6" cy="361.9" r="0.75"/><circle cx="617.1" cy="360.7" r="0.75"/><circle cx="625.3" cy="366.6" r="0.75"/><circle cx="618.5" cy="361.7" r="0.75"/><circle cx="628.2" cy="303.1" r="0.75"/><circle cx="632.9" cy="350.7" r="0.75"/><circle cx="622.9" cy="350.3" r="0.75"/><circle cx="624.9" cy="360.7" r="0.75"/><circle cx="621.8" cy="358.9" r="0.75"/><circle cx="627.6" cy="339.5" r="0.75"/><circle cx="631.0" cy="332.7" r="0.75"/><circle cx="620.0" cy="355.4" r="0.75"/><circle cx="621.5" cy="366.3" r="0.75"/><circle cx="637.0" cy="355.1" r="0.75"/><circle cx="634.8" cy="350.8" r="0.75"/><circle cx="632.4" cy="348.7" r="0.75"/><circle cx="626.9" cy="343.4" r="0.75"/><circle cx="628.1" cy="322.2" r="0.75"/><circle cx="622.9" cy="365.5" r="0.75"/><circle cx="628.6" cy="332.3" r="0.75"/><circle cx="637.4" cy="355.7" r="0.75"/><circle cx="628.2" cy="353.2" r="0.75"/><circle cx="637.3" cy="353.6" r="0.75"/><circle cx="626.5" cy="352.6" r="0.75"/><circle cx="629.8" cy="356.4" r="0.75"/><circle cx="626.5" cy="341.9" r="0.75"/><circle cx="620.0" cy="358.3" r="0.75"/><circle cx="617.1" cy="361.0" r="0.75"/><circle cx="617.8" cy="360.7" r="0.75"/><circle cx="623.5" cy="359.4" r="0.75"/><circle cx="637.6" cy="358.7" r="0.75"/><circle cx="628.2" cy="318.4" r="0.75"/><circle cx="630.3" cy="355.7" r="0.75"/><circle cx="619.6" cy="359.1" r="0.75"/><circle cx="621.1" cy="356.6" r="0.75"/><circle cx="632.9" cy="352.6" r="0.75"/><circle cx="635.1" cy="358.4" r="0.75"/><circle cx="617.7" cy="358.4" r="0.75"/><circle cx="638.2" cy="350.7" r="0.75"/><circle cx="630.4" cy="350.4" r="0.75"/><circle cx="623.2" cy="350.1" r="0.75"/><circle cx="634.4" cy="348.9" r="0.75"/><circle cx="630.7" cy="357.4" r="0.75"/><circle cx="632.6" cy="361.3" r="0.75"/><circle cx="630.3" cy="353.1" r="0.75"/><circle cx="625.1" cy="365.8" r="0.75"/><circle cx="636.3" cy="350.1" r="0.75"/><circle cx="629.3" cy="337.3" r="0.75"/><circle cx="623.3" cy="349.3" r="0.75"/><circle cx="627.0" cy="366.0" r="0.75"/><circle cx="629.5" cy="349.9" r="0.75"/><circle cx="633.9" cy="358.4" r="0.75"/><circle cx="634.5" cy="366.6" r="0.75"/><circle cx="629.6" cy="329.3" r="0.75"/><circle cx="623.8" cy="357.1" r="0.75"/><circle cx="621.3" cy="367.0" r="0.75"/><circle cx="624.7" cy="356.6" r="0.75"/><circle cx="620.0" cy="351.8" r="0.75"/><circle cx="629.5" cy="329.4" r="0.75"/><circle cx="624.1" cy="366.5" r="0.75"/><circle cx="627.8" cy="342.6" r="0.75"/><circle cx="626.1" cy="364.8" r="0.75"/><circle cx="624.7" cy="365.1" r="0.75"/><circle cx="626.7" cy="365.8" r="0.75"/><circle cx="619.7" cy="350.4" r="0.75"/><circle cx="622.1" cy="348.2" r="0.75"/><circle cx="630.9" cy="347.6" r="0.75"/><circle cx="634.0" cy="362.3" r="0.75"/><circle cx="622.2" cy="351.5" r="0.75"/><circle cx="625.1" cy="355.3" r="0.75"/><circle cx="628.9" cy="357.7" r="0.75"/><circle cx="623.4" cy="355.8" r="0.75"/><circle cx="628.9" cy="333.8" r="0.75"/><circle cx="622.7" cy="362.2" r="0.75"/><circle cx="637.6" cy="361.0" r="0.75"/><circle cx="633.4" cy="365.1" r="0.75"/><circle cx="624.5" cy="352.4" r="0.75"/><circle cx="626.4" cy="369.6" r="0.75"/><circle cx="637.1" cy="354.0" r="0.75"/><circle cx="638.3" cy="350.4" r="0.75"/><circle cx="620.1" cy="356.1" r="0.75"/><circle cx="621.6" cy="367.9" r="0.75"/><circle cx="625.4" cy="358.0" r="0.75"/><circle cx="629.2" cy="349.8" r="0.75"/><circle cx="633.5" cy="350.9" r="0.75"/><circle cx="629.8" cy="349.0" r="0.75"/><circle cx="631.8" cy="357.6" r="0.75"/><circle cx="628.8" cy="324.5" r="0.75"/><circle cx="629.3" cy="371.9" r="0.75"/><circle cx="619.2" cy="353.0" r="0.75"/><circle cx="627.9" cy="359.2" r="0.75"/><circle cx="620.0" cy="366.0" r="0.75"/><circle cx="626.9" cy="354.6" r="0.75"/><circle cx="634.5" cy="351.6" r="0.75"/><circle cx="621.8" cy="362.7" r="0.75"/><circle cx="626.3" cy="337.8" r="0.75"/><circle cx="624.3" cy="352.9" r="0.75"/><circle cx="618.1" cy="360.4" r="0.75"/><circle cx="625.5" cy="358.7" r="0.75"/><circle cx="623.1" cy="352.0" r="0.75"/><circle cx="626.3" cy="346.2" r="0.75"/><circle cx="625.0" cy="369.4" r="0.75"/><circle cx="624.1" cy="360.5" r="0.75"/><circle cx="622.5" cy="356.5" r="0.75"/><circle cx="628.0" cy="335.6" r="0.75"/><circle cx="620.9" cy="353.8" r="0.75"/><circle cx="638.5" cy="356.8" r="0.75"/><circle cx="633.9" cy="353.9" r="0.75"/><circle cx="624.9" cy="357.5" r="0.75"/><circle cx="630.1" cy="361.0" r="0.75"/><circle cx="623.5" cy="362.6" r="0.75"/><circle cx="633.6" cy="365.3" r="0.75"/><circle cx="628.8" cy="321.9" r="0.75"/><circle cx="635.9" cy="361.6" r="0.75"/><circle cx="621.3" cy="353.8" r="0.75"/><circle cx="625.8" cy="352.4" r="0.75"/><circle cx="624.7" cy="364.0" r="0.75"/><circle cx="628.1" cy="362.7" r="0.75"/><circle cx="626.1" cy="366.6" r="0.75"/><circle cx="636.8" cy="354.2" r="0.75"/><circle cx="626.8" cy="364.3" r="0.75"/><circle cx="632.1" cy="349.9" r="0.75"/><circle cx="629.9" cy="331.6" r="0.75"/><circle cx="628.1" cy="370.3" r="0.75"/><circle cx="626.1" cy="336.2" r="0.75"/><circle cx="629.1" cy="349.3" r="0.75"/><circle cx="621.1" cy="364.1" r="0.75"/><circle cx="637.6" cy="352.9" r="0.75"/><circle cx="617.1" cy="358.1" r="0.75"/><circle cx="617.9" cy="359.8" r="0.75"/><circle cx="622.8" cy="358.5" r="0.75"/><circle cx="628.7" cy="328.4" r="0.75"/><circle cx="635.3" cy="357.4" r="0.75"/><circle cx="617.1" cy="356.2" r="0.75"/><circle cx="626.6" cy="364.8" r="0.75"/><circle cx="628.5" cy="336.7" r="0.75"/><circle cx="623.7" cy="359.2" r="0.75"/><circle cx="638.7" cy="360.3" r="0.75"/><circle cx="625.0" cy="360.4" r="0.75"/><circle cx="627.6" cy="339.5" r="0.75"/><circle cx="633.5" cy="364.7" r="0.75"/><circle cx="637.4" cy="357.7" r="0.75"/><circle cx="634.8" cy="352.1" r="0.75"/><circle cx="622.0" cy="359.9" r="0.75"/><circle cx="636.3" cy="351.2" r="0.75"/><circle cx="627.2" cy="330.1" r="0.75"/><circle cx="624.1" cy="364.3" r="0.75"/><circle cx="627.5" cy="337.2" r="0.75"/><circle cx="634.5" cy="354.4" r="0.75"/><circle cx="629.0" cy="336.0" r="0.75"/><circle cx="631.7" cy="363.5" r="0.75"/><circle cx="628.2" cy="366.5" r="0.75"/><circle cx="628.0" cy="334.1" r="0.75"/><circle cx="632.3" cy="362.1" r="0.75"/><circle cx="626.4" cy="336.0" r="0.75"/><circle cx="625.3" cy="362.7" r="0.75"/><circle cx="629.2" cy="338.0" r="0.75"/><circle cx="629.1" cy="339.7" r="0.75"/><circle cx="630.0" cy="363.3" r="0.75"/><circle cx="628.5" cy="335.1" r="0.75"/><circle cx="621.6" cy="353.9" r="0.75"/><circle cx="628.3" cy="344.4" r="0.75"/><circle cx="637.3" cy="361.8" r="0.75"/><circle cx="621.8" cy="352.9" r="0.75"/><circle cx="632.1" cy="355.5" r="0.75"/><circle cx="633.6" cy="363.0" r="0.75"/><circle cx="630.0" cy="358.9" r="0.75"/><circle cx="628.0" cy="289.4" r="0.75"/><circle cx="633.6" cy="360.4" r="0.75"/><circle cx="626.4" cy="329.5" r="0.75"/><circle cx="636.6" cy="357.0" r="0.75"/><circle cx="631.6" cy="359.0" r="0.75"/><circle cx="617.7" cy="351.1" r="0.75"/><circle cx="628.4" cy="351.2" r="0.75"/><circle cx="622.8" cy="357.0" r="0.75"/><circle cx="630.4" cy="359.4" r="0.75"/><circle cx="618.9" cy="350.8" r="0.75"/><circle cx="622.6" cy="364.6" r="0.75"/><circle cx="636.8" cy="360.2" r="0.75"/><circle cx="625.9" cy="331.6" r="0.75"/><circle cx="625.1" cy="359.2" r="0.75"/><circle cx="621.8" cy="354.2" r="0.75"/><circle cx="628.6" cy="329.0" r="0.75"/><circle cx="628.0" cy="361.4" r="0.75"/><circle cx="630.1" cy="367.8" r="0.75"/><circle cx="635.3" cy="351.7" r="0.75"/><circle cx="621.4" cy="351.2" r="0.75"/><circle cx="628.6" cy="347.0" r="0.75"/><circle cx="628.7" cy="320.6" r="0.75"/><circle cx="625.1" cy="353.2" r="0.75"/><circle cx="625.3" cy="350.4" r="0.75"/><circle cx="624.7" cy="349.4" r="0.75"/><circle cx="627.0" cy="369.2" r="0.75"/><circle cx="628.4" cy="329.8" r="0.75"/><circle cx="634.1" cy="364.9" r="0.75"/><circle cx="637.5" cy="361.6" r="0.75"/><circle cx="624.1" cy="364.5" r="0.75"/><circle cx="630.3" cy="341.8" r="0.75"/><circle cx="629.4" cy="330.6" r="0.75"/><circle cx="624.6" cy="353.5" r="0.75"/><circle cx="630.1" cy="367.3" r="0.75"/><circle cx="623.9" cy="366.8" r="0.75"/><circle cx="633.2" cy="364.7" r="0.75"/><circle cx="637.5" cy="361.0" r="0.75"/><circle cx="630.6" cy="362.7" r="0.75"/><circle cx="628.6" cy="330.4" r="0.75"/><circle cx="629.9" cy="354.9" r="0.75"/><circle cx="624.3" cy="364.7" r="0.75"/><circle cx="627.9" cy="291.7" r="0.75"/><circle cx="628.0" cy="358.5" r="0.75"/><circle cx="622.9" cy="366.8" r="0.75"/><circle cx="629.5" cy="368.2" r="0.75"/><circle cx="630.7" cy="358.2" r="0.75"/><circle cx="624.6" cy="351.9" r="0.75"/><circle cx="629.4" cy="346.4" r="0.75"/><circle cx="622.4" cy="353.7" r="0.75"/><circle cx="628.6" cy="327.3" r="0.75"/><circle cx="619.1" cy="350.1" r="0.75"/><circle cx="626.5" cy="334.0" r="0.75"/><circle cx="628.4" cy="355.7" r="0.75"/><circle cx="620.8" cy="358.4" r="0.75"/><circle cx="633.8" cy="362.9" r="0.75"/><circle cx="626.4" cy="348.9" r="0.75"/><circle cx="635.3" cy="365.8" r="0.75"/><circle cx="617.5" cy="357.6" r="0.75"/><circle cx="631.6" cy="357.3" r="0.75"/><circle cx="617.7" cy="359.0" r="0.75"/><circle cx="630.5" cy="352.3" r="0.75"/><circle cx="632.1" cy="357.6" r="0.75"/><circle cx="631.3" cy="366.0" r="0.75"/><circle cx="633.9" cy="358.3" r="0.75"/><circle cx="627.5" cy="366.9" r="0.75"/><circle cx="628.7" cy="353.8" r="0.75"/><circle cx="626.1" cy="366.1" r="0.75"/><circle cx="617.4" cy="360.4" r="0.75"/><circle cx="623.6" cy="356.1" r="0.75"/><circle cx="622.1" cy="367.5" r="0.75"/><circle cx="621.8" cy="363.2" r="0.75"/><circle cx="624.8" cy="357.4" r="0.75"/><circle cx="623.1" cy="358.9" r="0.75"/><circle cx="634.1" cy="353.7" r="0.75"/><circle cx="630.8" cy="355.8" r="0.75"/><circle cx="629.6" cy="351.6" r="0.75"/><circle cx="625.1" cy="363.2" r="0.75"/><circle cx="637.7" cy="353.4" r="0.75"/><circle cx="620.9" cy="366.8" r="0.75"/><circle cx="626.6" cy="331.9" r="0.75"/><circle cx="631.9" cy="363.5" r="0.75"/><circle cx="625.3" cy="364.9" r="0.75"/><circle cx="628.9" cy="326.4" r="0.75"/><circle cx="618.8" cy="355.2" r="0.75"/><circle cx="633.3" cy="367.0" r="0.75"/><circle cx="631.7" cy="363.7" r="0.75"/><circle cx="635.1" cy="364.3" r="0.75"/><circle cx="632.1" cy="353.5" r="0.75"/><circle cx="622.0" cy="360.8" r="0.75"/><circle cx="628.5" cy="353.5" r="0.75"/><circle cx="626.7" cy="333.0" r="0.75"/><circle cx="631.0" cy="341.2" r="0.75"/><circle cx="632.3" cy="359.5" r="0.75"/><circle cx="627.9" cy="352.6" r="0.75"/><circle cx="634.6" cy="350.3" r="0.75"/><circle cx="630.0" cy="334.8" r="0.75"/><circle cx="630.7" cy="349.3" r="0.75"/><circle cx="628.3" cy="274.4" r="0.75"/><circle cx="625.8" cy="332.5" r="0.75"/><circle cx="627.5" cy="351.1" r="0.75"/><circle cx="623.9" cy="356.6" r="0.75"/><circle cx="627.2" cy="340.9" r="0.75"/><circle cx="629.6" cy="341.3" r="0.75"/><circle cx="634.4" cy="357.8" r="0.75"/><circle cx="631.4" cy="349.1" r="0.75"/><circle cx="629.0" cy="335.3" r="0.75"/><circle cx="632.7" cy="353.1" r="0.75"/><circle cx="620.6" cy="358.2" r="0.75"/><circle cx="621.9" cy="365.3" r="0.75"/><circle cx="638.8" cy="350.4" r="0.75"/><circle cx="628.3" cy="360.1" r="0.75"/><circle cx="626.1" cy="361.9" r="0.75"/><circle cx="636.1" cy="366.4" r="0.75"/><circle cx="628.9" cy="340.6" r="0.75"/><circle cx="627.2" cy="342.8" r="0.75"/><circle cx="631.3" cy="362.4" r="0.75"/><circle cx="618.4" cy="360.4" r="0.75"/><circle cx="628.0" cy="358.4" r="0.75"/><circle cx="624.7" cy="353.5" r="0.75"/><circle cx="632.5" cy="367.0" r="0.75"/><circle cx="634.9" cy="364.4" r="0.75"/><circle cx="628.3" cy="349.5" r="0.75"/><circle cx="629.8" cy="331.9" r="0.75"/><circle cx="628.4" cy="369.3" r="0.75"/><circle cx="618.6" cy="355.3" r="0.75"/><circle cx="625.0" cy="351.5" r="0.75"/><circle cx="633.2" cy="358.4" r="0.75"/><circle cx="626.1" cy="341.5" r="0.75"/><circle cx="624.9" cy="368.6" r="0.75"/><circle cx="628.8" cy="350.7" r="0.75"/><circle cx="626.1" cy="360.1" r="0.75"/><circle cx="629.9" cy="350.9" r="0.75"/><circle cx="636.4" cy="351.2" r="0.75"/><circle cx="628.3" cy="284.7" r="0.75"/><circle cx="623.0" cy="349.6" r="0.75"/><circle cx="625.5" cy="359.1" r="0.75"/><circle cx="629.7" cy="365.3" r="0.75"/><circle cx="627.8" cy="345.7" r="0.75"/><circle cx="629.3" cy="339.3" r="0.75"/><circle cx="625.1" cy="354.2" r="0.75"/><circle cx="634.9" cy="358.1" r="0.75"/><circle cx="629.8" cy="353.4" r="0.75"/><circle cx="631.2" cy="359.5" r="0.75"/><circle cx="629.5" cy="334.4" r="0.75"/><circle cx="626.6" cy="348.7" r="0.75"/><circle cx="637.9" cy="361.8" r="0.75"/><circle cx="626.4" cy="368.9" r="0.75"/><circle cx="627.7" cy="362.8" r="0.75"/><circle cx="622.2" cy="354.9" r="0.75"/><circle cx="638.6" cy="351.7" r="0.75"/><circle cx="629.3" cy="347.1" r="0.75"/><circle cx="633.4" cy="352.0" r="0.75"/><circle cx="631.1" cy="355.4" r="0.75"/><circle cx="631.6" cy="359.1" r="0.75"/><circle cx="628.2" cy="346.8" r="0.75"/><circle cx="628.7" cy="346.4" r="0.75"/><circle cx="622.5" cy="367.5" r="0.75"/><circle cx="628.3" cy="325.5" r="0.75"/><circle cx="632.9" cy="356.8" r="0.75"/><circle cx="628.8" cy="360.6" r="0.75"/><circle cx="632.9" cy="362.1" r="0.75"/><circle cx="634.8" cy="350.4" r="0.75"/><circle cx="625.5" cy="352.2" r="0.75"/><circle cx="626.5" cy="333.1" r="0.75"/><circle cx="629.5" cy="363.2" r="0.75"/><circle cx="636.5" cy="355.8" r="0.75"/><circle cx="628.4" cy="346.5" r="0.75"/><circle cx="620.9" cy="359.6" r="0.75"/><circle cx="636.1" cy="351.4" r="0.75"/><circle cx="628.4" cy="320.2" r="0.75"/><circle cx="622.9" cy="363.7" r="0.75"/><circle cx="622.5" cy="349.5" r="0.75"/><circle cx="628.7" cy="333.2" r="0.75"/></g>
<g fill="#ec8fc0" opacity="0.9"><circle cx="660.8" cy="349.0" r="0.8"/><circle cx="657.8" cy="333.9" r="0.8"/><circle cx="659.3" cy="332.5" r="0.8"/><circle cx="663.7" cy="340.5" r="0.8"/><circle cx="665.1" cy="337.5" r="0.8"/><circle cx="667.6" cy="355.2" r="0.8"/><circle cx="664.1" cy="337.5" r="0.8"/><circle cx="668.8" cy="351.5" r="0.8"/><circle cx="663.3" cy="358.2" r="0.8"/><circle cx="661.4" cy="372.0" r="0.8"/><circle cx="668.2" cy="359.0" r="0.8"/><circle cx="663.1" cy="322.6" r="0.8"/><circle cx="664.5" cy="347.2" r="0.8"/><circle cx="671.6" cy="355.2" r="0.8"/><circle cx="656.6" cy="352.3" r="0.8"/><circle cx="662.3" cy="343.5" r="0.8"/><circle cx="666.7" cy="363.9" r="0.8"/><circle cx="668.9" cy="352.1" r="0.8"/><circle cx="654.1" cy="362.7" r="0.8"/><circle cx="669.6" cy="355.6" r="0.8"/><circle cx="662.1" cy="374.4" r="0.8"/><circle cx="661.9" cy="353.0" r="0.8"/><circle cx="665.0" cy="340.2" r="0.8"/><circle cx="665.0" cy="354.2" r="0.8"/><circle cx="652.6" cy="353.8" r="0.8"/><circle cx="653.9" cy="351.7" r="0.8"/><circle cx="663.4" cy="360.5" r="0.8"/><circle cx="666.1" cy="376.6" r="0.8"/><circle cx="660.6" cy="362.5" r="0.8"/><circle cx="672.9" cy="352.4" r="0.8"/><circle cx="658.5" cy="360.5" r="0.8"/><circle cx="670.7" cy="362.2" r="0.8"/><circle cx="660.7" cy="344.3" r="0.8"/><circle cx="652.4" cy="363.8" r="0.8"/><circle cx="668.7" cy="339.1" r="0.8"/><circle cx="662.9" cy="295.8" r="0.8"/><circle cx="664.0" cy="370.3" r="0.8"/><circle cx="668.8" cy="359.0" r="0.8"/><circle cx="658.9" cy="359.8" r="0.8"/><circle cx="655.9" cy="364.6" r="0.8"/><circle cx="668.6" cy="349.8" r="0.8"/><circle cx="653.2" cy="361.8" r="0.8"/><circle cx="662.4" cy="361.9" r="0.8"/><circle cx="668.8" cy="361.9" r="0.8"/><circle cx="670.4" cy="356.2" r="0.8"/><circle cx="666.3" cy="357.4" r="0.8"/><circle cx="669.8" cy="364.2" r="0.8"/><circle cx="663.1" cy="359.3" r="0.8"/><circle cx="665.7" cy="347.5" r="0.8"/><circle cx="659.4" cy="345.8" r="0.8"/><circle cx="655.6" cy="362.6" r="0.8"/><circle cx="667.8" cy="358.9" r="0.8"/><circle cx="667.5" cy="355.4" r="0.8"/><circle cx="658.5" cy="332.3" r="0.8"/><circle cx="663.5" cy="333.8" r="0.8"/><circle cx="665.8" cy="352.2" r="0.8"/><circle cx="656.1" cy="363.7" r="0.8"/><circle cx="656.9" cy="363.1" r="0.8"/><circle cx="661.5" cy="370.2" r="0.8"/><circle cx="666.7" cy="377.8" r="0.8"/><circle cx="660.0" cy="353.2" r="0.8"/><circle cx="657.5" cy="359.8" r="0.8"/><circle cx="657.8" cy="365.8" r="0.8"/><circle cx="669.9" cy="373.8" r="0.8"/><circle cx="660.0" cy="368.7" r="0.8"/><circle cx="653.1" cy="355.2" r="0.8"/><circle cx="660.0" cy="353.3" r="0.8"/><circle cx="665.5" cy="361.9" r="0.8"/><circle cx="664.3" cy="341.6" r="0.8"/><circle cx="652.7" cy="357.4" r="0.8"/><circle cx="659.6" cy="371.8" r="0.8"/><circle cx="658.4" cy="376.9" r="0.8"/><circle cx="663.3" cy="317.8" r="0.8"/><circle cx="662.2" cy="336.1" r="0.8"/><circle cx="652.8" cy="358.9" r="0.8"/><circle cx="654.5" cy="373.6" r="0.8"/><circle cx="661.4" cy="352.2" r="0.8"/><circle cx="661.0" cy="348.1" r="0.8"/><circle cx="669.9" cy="365.4" r="0.8"/><circle cx="671.4" cy="364.7" r="0.8"/><circle cx="663.7" cy="345.7" r="0.8"/><circle cx="659.0" cy="365.1" r="0.8"/><circle cx="666.8" cy="346.1" r="0.8"/><circle cx="672.0" cy="363.5" r="0.8"/><circle cx="663.5" cy="365.1" r="0.8"/><circle cx="658.8" cy="353.1" r="0.8"/><circle cx="670.4" cy="373.7" r="0.8"/><circle cx="670.4" cy="350.3" r="0.8"/><circle cx="660.7" cy="334.3" r="0.8"/><circle cx="658.8" cy="371.1" r="0.8"/><circle cx="667.6" cy="360.2" r="0.8"/><circle cx="661.9" cy="376.8" r="0.8"/><circle cx="662.6" cy="343.8" r="0.8"/><circle cx="662.0" cy="349.9" r="0.8"/><circle cx="663.0" cy="334.2" r="0.8"/><circle cx="664.2" cy="339.7" r="0.8"/><circle cx="663.9" cy="376.5" r="0.8"/><circle cx="673.2" cy="351.6" r="0.8"/><circle cx="662.8" cy="342.2" r="0.8"/><circle cx="667.2" cy="355.6" r="0.8"/><circle cx="668.6" cy="366.0" r="0.8"/><circle cx="653.5" cy="365.9" r="0.8"/><circle cx="670.2" cy="352.3" r="0.8"/><circle cx="658.8" cy="367.9" r="0.8"/><circle cx="659.3" cy="373.6" r="0.8"/><circle cx="662.9" cy="337.5" r="0.8"/><circle cx="663.1" cy="360.1" r="0.8"/><circle cx="660.3" cy="353.0" r="0.8"/><circle cx="658.5" cy="370.4" r="0.8"/><circle cx="660.6" cy="358.8" r="0.8"/><circle cx="672.2" cy="361.3" r="0.8"/><circle cx="660.9" cy="334.5" r="0.8"/><circle cx="660.6" cy="368.9" r="0.8"/><circle cx="660.1" cy="339.4" r="0.8"/><circle cx="670.5" cy="368.6" r="0.8"/><circle cx="664.5" cy="346.9" r="0.8"/><circle cx="663.8" cy="360.1" r="0.8"/><circle cx="663.6" cy="371.5" r="0.8"/><circle cx="664.3" cy="347.7" r="0.8"/><circle cx="670.1" cy="363.2" r="0.8"/><circle cx="666.9" cy="332.4" r="0.8"/><circle cx="661.5" cy="343.4" r="0.8"/><circle cx="659.9" cy="350.8" r="0.8"/><circle cx="667.1" cy="343.1" r="0.8"/><circle cx="662.5" cy="356.5" r="0.8"/><circle cx="661.2" cy="374.2" r="0.8"/><circle cx="662.7" cy="372.5" r="0.8"/><circle cx="657.1" cy="372.7" r="0.8"/><circle cx="670.2" cy="364.2" r="0.8"/><circle cx="662.1" cy="343.2" r="0.8"/><circle cx="668.2" cy="351.3" r="0.8"/><circle cx="667.9" cy="359.3" r="0.8"/><circle cx="655.1" cy="360.8" r="0.8"/><circle cx="666.4" cy="350.4" r="0.8"/><circle cx="664.4" cy="361.5" r="0.8"/><circle cx="668.3" cy="339.3" r="0.8"/><circle cx="652.5" cy="353.9" r="0.8"/><circle cx="661.4" cy="366.4" r="0.8"/><circle cx="663.4" cy="344.8" r="0.8"/><circle cx="663.1" cy="370.7" r="0.8"/><circle cx="653.0" cy="353.3" r="0.8"/><circle cx="653.2" cy="355.3" r="0.8"/><circle cx="660.7" cy="370.2" r="0.8"/><circle cx="664.5" cy="358.1" r="0.8"/><circle cx="664.5" cy="347.3" r="0.8"/><circle cx="668.0" cy="355.6" r="0.8"/><circle cx="659.8" cy="370.8" r="0.8"/><circle cx="670.9" cy="363.8" r="0.8"/><circle cx="663.0" cy="362.3" r="0.8"/><circle cx="663.4" cy="346.2" r="0.8"/><circle cx="660.1" cy="378.0" r="0.8"/><circle cx="665.0" cy="339.4" r="0.8"/><circle cx="659.7" cy="340.2" r="0.8"/><circle cx="664.2" cy="349.4" r="0.8"/><circle cx="660.8" cy="339.2" r="0.8"/><circle cx="659.7" cy="374.1" r="0.8"/><circle cx="659.3" cy="357.5" r="0.8"/><circle cx="658.3" cy="338.6" r="0.8"/><circle cx="663.9" cy="337.5" r="0.8"/><circle cx="662.9" cy="338.1" r="0.8"/><circle cx="659.6" cy="357.2" r="0.8"/><circle cx="664.6" cy="366.3" r="0.8"/><circle cx="658.6" cy="369.8" r="0.8"/><circle cx="666.4" cy="357.8" r="0.8"/><circle cx="664.3" cy="362.1" r="0.8"/><circle cx="666.5" cy="332.1" r="0.8"/><circle cx="661.2" cy="347.5" r="0.8"/><circle cx="671.2" cy="363.5" r="0.8"/><circle cx="658.6" cy="353.2" r="0.8"/><circle cx="671.5" cy="360.5" r="0.8"/><circle cx="664.6" cy="373.2" r="0.8"/><circle cx="655.3" cy="367.1" r="0.8"/><circle cx="661.7" cy="335.1" r="0.8"/><circle cx="669.8" cy="356.1" r="0.8"/><circle cx="656.1" cy="352.0" r="0.8"/><circle cx="654.0" cy="363.6" r="0.8"/><circle cx="656.5" cy="353.5" r="0.8"/><circle cx="667.4" cy="371.5" r="0.8"/><circle cx="667.5" cy="361.4" r="0.8"/><circle cx="661.6" cy="373.1" r="0.8"/><circle cx="664.0" cy="335.9" r="0.8"/><circle cx="660.9" cy="335.2" r="0.8"/><circle cx="661.8" cy="357.9" r="0.8"/><circle cx="660.0" cy="356.6" r="0.8"/><circle cx="661.9" cy="340.5" r="0.8"/><circle cx="672.1" cy="353.8" r="0.8"/><circle cx="656.1" cy="362.7" r="0.8"/><circle cx="662.3" cy="289.9" r="0.8"/><circle cx="661.7" cy="371.4" r="0.8"/><circle cx="657.1" cy="354.9" r="0.8"/><circle cx="652.9" cy="360.6" r="0.8"/><circle cx="654.0" cy="358.5" r="0.8"/><circle cx="669.4" cy="354.6" r="0.8"/><circle cx="664.5" cy="359.3" r="0.8"/><circle cx="668.3" cy="364.2" r="0.8"/><circle cx="672.0" cy="356.8" r="0.8"/><circle cx="663.7" cy="334.3" r="0.8"/><circle cx="657.9" cy="351.9" r="0.8"/><circle cx="659.2" cy="347.8" r="0.8"/><circle cx="662.4" cy="329.7" r="0.8"/><circle cx="664.9" cy="349.9" r="0.8"/><circle cx="661.4" cy="345.8" r="0.8"/><circle cx="661.8" cy="344.4" r="0.8"/><circle cx="663.0" cy="300.9" r="0.8"/><circle cx="668.2" cy="353.9" r="0.8"/><circle cx="666.1" cy="373.0" r="0.8"/><circle cx="667.2" cy="359.6" r="0.8"/><circle cx="664.3" cy="368.6" r="0.8"/><circle cx="666.9" cy="354.0" r="0.8"/><circle cx="666.3" cy="343.1" r="0.8"/><circle cx="661.6" cy="345.9" r="0.8"/><circle cx="662.5" cy="371.4" r="0.8"/><circle cx="667.6" cy="373.8" r="0.8"/><circle cx="664.1" cy="341.0" r="0.8"/><circle cx="668.5" cy="338.0" r="0.8"/><circle cx="665.3" cy="363.7" r="0.8"/><circle cx="661.5" cy="352.7" r="0.8"/><circle cx="662.7" cy="313.0" r="0.8"/><circle cx="658.5" cy="343.1" r="0.8"/><circle cx="666.8" cy="377.0" r="0.8"/><circle cx="656.5" cy="358.3" r="0.8"/><circle cx="662.9" cy="311.2" r="0.8"/><circle cx="660.0" cy="359.7" r="0.8"/><circle cx="655.6" cy="360.5" r="0.8"/><circle cx="660.2" cy="346.3" r="0.8"/><circle cx="662.7" cy="359.8" r="0.8"/><circle cx="661.4" cy="359.2" r="0.8"/><circle cx="653.7" cy="354.6" r="0.8"/><circle cx="660.1" cy="346.1" r="0.8"/><circle cx="659.5" cy="360.9" r="0.8"/><circle cx="654.3" cy="353.0" r="0.8"/><circle cx="662.4" cy="365.0" r="0.8"/><circle cx="653.3" cy="363.5" r="0.8"/><circle cx="657.8" cy="373.1" r="0.8"/><circle cx="671.2" cy="358.3" r="0.8"/><circle cx="664.8" cy="365.3" r="0.8"/><circle cx="672.5" cy="356.5" r="0.8"/><circle cx="663.1" cy="342.0" r="0.8"/><circle cx="663.9" cy="346.7" r="0.8"/><circle cx="669.2" cy="369.4" r="0.8"/><circle cx="658.3" cy="353.4" r="0.8"/><circle cx="661.3" cy="362.1" r="0.8"/><circle cx="658.4" cy="356.6" r="0.8"/><circle cx="669.0" cy="360.0" r="0.8"/><circle cx="658.2" cy="361.0" r="0.8"/><circle cx="666.2" cy="375.6" r="0.8"/><circle cx="665.2" cy="352.7" r="0.8"/><circle cx="655.9" cy="353.2" r="0.8"/><circle cx="671.4" cy="359.1" r="0.8"/><circle cx="662.4" cy="346.0" r="0.8"/><circle cx="658.0" cy="349.1" r="0.8"/><circle cx="665.3" cy="333.4" r="0.8"/><circle cx="662.6" cy="369.8" r="0.8"/><circle cx="669.7" cy="373.2" r="0.8"/><circle cx="652.9" cy="361.2" r="0.8"/><circle cx="661.5" cy="351.9" r="0.8"/><circle cx="654.8" cy="350.9" r="0.8"/><circle cx="660.1" cy="350.8" r="0.8"/><circle cx="654.9" cy="359.6" r="0.8"/><circle cx="655.7" cy="361.3" r="0.8"/><circle cx="659.5" cy="356.5" r="0.8"/><circle cx="664.8" cy="337.2" r="0.8"/><circle cx="668.5" cy="348.7" r="0.8"/><circle cx="660.7" cy="368.7" r="0.8"/><circle cx="660.3" cy="374.4" r="0.8"/><circle cx="654.9" cy="366.0" r="0.8"/><circle cx="656.0" cy="359.7" r="0.8"/><circle cx="667.6" cy="350.2" r="0.8"/><circle cx="655.1" cy="360.2" r="0.8"/><circle cx="663.5" cy="336.0" r="0.8"/><circle cx="661.2" cy="345.1" r="0.8"/><circle cx="671.2" cy="356.6" r="0.8"/><circle cx="661.5" cy="362.4" r="0.8"/><circle cx="659.1" cy="363.4" r="0.8"/><circle cx="657.8" cy="355.8" r="0.8"/><circle cx="657.8" cy="343.1" r="0.8"/><circle cx="660.2" cy="360.6" r="0.8"/><circle cx="661.4" cy="343.4" r="0.8"/><circle cx="657.0" cy="367.1" r="0.8"/><circle cx="662.9" cy="349.9" r="0.8"/><circle cx="656.7" cy="354.6" r="0.8"/><circle cx="666.0" cy="368.0" r="0.8"/><circle cx="664.5" cy="348.1" r="0.8"/><circle cx="666.9" cy="364.2" r="0.8"/><circle cx="660.0" cy="377.2" r="0.8"/><circle cx="662.4" cy="363.2" r="0.8"/><circle cx="661.7" cy="340.2" r="0.8"/><circle cx="672.6" cy="363.6" r="0.8"/><circle cx="655.4" cy="362.3" r="0.8"/><circle cx="667.8" cy="358.9" r="0.8"/><circle cx="661.0" cy="345.7" r="0.8"/><circle cx="657.5" cy="361.3" r="0.8"/><circle cx="667.1" cy="339.5" r="0.8"/><circle cx="653.1" cy="360.6" r="0.8"/><circle cx="667.7" cy="360.5" r="0.8"/><circle cx="669.6" cy="359.1" r="0.8"/><circle cx="659.6" cy="348.9" r="0.8"/><circle cx="661.3" cy="364.6" r="0.8"/><circle cx="663.9" cy="363.0" r="0.8"/><circle cx="663.9" cy="353.7" r="0.8"/><circle cx="661.6" cy="349.5" r="0.8"/><circle cx="660.2" cy="336.8" r="0.8"/><circle cx="659.0" cy="361.0" r="0.8"/><circle cx="665.8" cy="354.8" r="0.8"/><circle cx="662.2" cy="333.1" r="0.8"/><circle cx="668.6" cy="373.5" r="0.8"/><circle cx="662.6" cy="345.9" r="0.8"/><circle cx="657.5" cy="359.0" r="0.8"/><circle cx="660.0" cy="347.4" r="0.8"/><circle cx="660.6" cy="377.8" r="0.8"/><circle cx="661.8" cy="370.8" r="0.8"/><circle cx="658.1" cy="367.4" r="0.8"/><circle cx="654.4" cy="361.9" r="0.8"/><circle cx="661.3" cy="354.0" r="0.8"/><circle cx="656.4" cy="353.1" r="0.8"/><circle cx="658.8" cy="359.6" r="0.8"/><circle cx="670.2" cy="351.3" r="0.8"/><circle cx="670.8" cy="353.1" r="0.8"/><circle cx="663.7" cy="358.6" r="0.8"/><circle cx="658.8" cy="338.5" r="0.8"/><circle cx="660.0" cy="345.4" r="0.8"/><circle cx="664.8" cy="359.8" r="0.8"/><circle cx="671.1" cy="354.7" r="0.8"/><circle cx="658.4" cy="342.2" r="0.8"/><circle cx="662.9" cy="358.6" r="0.8"/><circle cx="663.5" cy="362.3" r="0.8"/><circle cx="666.3" cy="374.9" r="0.8"/><circle cx="657.1" cy="364.3" r="0.8"/><circle cx="659.6" cy="364.2" r="0.8"/><circle cx="661.5" cy="364.1" r="0.8"/><circle cx="665.6" cy="377.9" r="0.8"/><circle cx="660.2" cy="369.7" r="0.8"/><circle cx="662.7" cy="324.7" r="0.8"/><circle cx="655.9" cy="365.1" r="0.8"/><circle cx="672.7" cy="357.9" r="0.8"/><circle cx="660.3" cy="377.5" r="0.8"/><circle cx="656.7" cy="338.1" r="0.8"/><circle cx="664.7" cy="337.6" r="0.8"/><circle cx="656.1" cy="359.4" r="0.8"/><circle cx="659.4" cy="373.5" r="0.8"/><circle cx="668.2" cy="369.6" r="0.8"/><circle cx="665.7" cy="349.6" r="0.8"/><circle cx="666.6" cy="367.4" r="0.8"/><circle cx="662.4" cy="364.7" r="0.8"/><circle cx="655.9" cy="351.1" r="0.8"/><circle cx="665.2" cy="336.0" r="0.8"/><circle cx="662.9" cy="288.3" r="0.8"/><circle cx="658.0" cy="357.3" r="0.8"/><circle cx="658.7" cy="332.9" r="0.8"/><circle cx="667.2" cy="357.4" r="0.8"/><circle cx="661.0" cy="358.0" r="0.8"/><circle cx="654.7" cy="352.1" r="0.8"/><circle cx="663.6" cy="350.4" r="0.8"/><circle cx="670.9" cy="361.5" r="0.8"/><circle cx="661.5" cy="356.8" r="0.8"/><circle cx="659.7" cy="341.2" r="0.8"/><circle cx="670.0" cy="357.1" r="0.8"/><circle cx="654.4" cy="363.5" r="0.8"/><circle cx="664.9" cy="343.8" r="0.8"/><circle cx="657.3" cy="354.2" r="0.8"/><circle cx="668.0" cy="366.4" r="0.8"/><circle cx="656.3" cy="357.2" r="0.8"/><circle cx="662.6" cy="369.6" r="0.8"/><circle cx="661.1" cy="358.4" r="0.8"/><circle cx="669.2" cy="353.5" r="0.8"/><circle cx="653.8" cy="373.0" r="0.8"/><circle cx="653.1" cy="356.0" r="0.8"/><circle cx="669.2" cy="373.5" r="0.8"/><circle cx="659.9" cy="347.5" r="0.8"/><circle cx="653.7" cy="372.3" r="0.8"/><circle cx="659.5" cy="367.3" r="0.8"/><circle cx="660.4" cy="377.5" r="0.8"/><circle cx="659.9" cy="354.6" r="0.8"/><circle cx="656.1" cy="359.5" r="0.8"/><circle cx="668.2" cy="361.9" r="0.8"/><circle cx="661.5" cy="333.8" r="0.8"/><circle cx="661.2" cy="376.1" r="0.8"/><circle cx="668.9" cy="351.7" r="0.8"/><circle cx="665.8" cy="350.2" r="0.8"/><circle cx="661.1" cy="350.5" r="0.8"/><circle cx="666.4" cy="357.7" r="0.8"/><circle cx="658.8" cy="338.0" r="0.8"/><circle cx="667.0" cy="371.0" r="0.8"/><circle cx="667.5" cy="358.4" r="0.8"/><circle cx="658.8" cy="350.7" r="0.8"/><circle cx="662.6" cy="322.4" r="0.8"/><circle cx="663.4" cy="369.3" r="0.8"/><circle cx="665.6" cy="341.3" r="0.8"/><circle cx="665.2" cy="339.6" r="0.8"/><circle cx="658.0" cy="368.5" r="0.8"/><circle cx="656.5" cy="352.3" r="0.8"/><circle cx="655.6" cy="361.2" r="0.8"/><circle cx="662.7" cy="336.4" r="0.8"/><circle cx="657.2" cy="359.1" r="0.8"/><circle cx="669.6" cy="353.3" r="0.8"/><circle cx="664.5" cy="369.0" r="0.8"/><circle cx="659.0" cy="365.2" r="0.8"/><circle cx="668.3" cy="363.1" r="0.8"/><circle cx="661.7" cy="334.9" r="0.8"/><circle cx="665.9" cy="347.0" r="0.8"/><circle cx="668.4" cy="350.4" r="0.8"/><circle cx="666.4" cy="360.8" r="0.8"/><circle cx="653.3" cy="350.7" r="0.8"/><circle cx="662.9" cy="359.1" r="0.8"/><circle cx="661.0" cy="344.1" r="0.8"/><circle cx="665.4" cy="343.7" r="0.8"/><circle cx="660.3" cy="338.8" r="0.8"/><circle cx="668.6" cy="357.2" r="0.8"/><circle cx="663.4" cy="375.8" r="0.8"/><circle cx="663.2" cy="318.8" r="0.8"/><circle cx="669.6" cy="360.2" r="0.8"/><circle cx="661.2" cy="367.9" r="0.8"/><circle cx="663.9" cy="337.1" r="0.8"/><circle cx="662.9" cy="344.5" r="0.8"/><circle cx="663.2" cy="314.8" r="0.8"/><circle cx="663.0" cy="334.4" r="0.8"/><circle cx="654.3" cy="372.7" r="0.8"/><circle cx="665.6" cy="346.8" r="0.8"/><circle cx="670.4" cy="366.0" r="0.8"/><circle cx="658.9" cy="353.7" r="0.8"/><circle cx="662.9" cy="350.8" r="0.8"/><circle cx="660.2" cy="353.9" r="0.8"/><circle cx="659.5" cy="366.3" r="0.8"/><circle cx="666.2" cy="357.5" r="0.8"/><circle cx="662.9" cy="279.5" r="0.8"/><circle cx="671.0" cy="351.1" r="0.8"/><circle cx="662.4" cy="298.2" r="0.8"/><circle cx="661.2" cy="374.9" r="0.8"/><circle cx="668.8" cy="373.2" r="0.8"/><circle cx="661.3" cy="347.3" r="0.8"/><circle cx="655.1" cy="363.9" r="0.8"/><circle cx="657.7" cy="364.3" r="0.8"/><circle cx="653.3" cy="350.6" r="0.8"/><circle cx="656.6" cy="358.7" r="0.8"/><circle cx="669.6" cy="363.5" r="0.8"/><circle cx="660.6" cy="374.3" r="0.8"/><circle cx="664.6" cy="369.7" r="0.8"/><circle cx="666.5" cy="368.0" r="0.8"/><circle cx="671.5" cy="359.9" r="0.8"/><circle cx="667.7" cy="356.7" r="0.8"/><circle cx="664.4" cy="377.3" r="0.8"/><circle cx="668.8" cy="372.3" r="0.8"/><circle cx="669.8" cy="355.4" r="0.8"/><circle cx="671.8" cy="364.7" r="0.8"/><circle cx="656.4" cy="371.7" r="0.8"/><circle cx="656.4" cy="373.5" r="0.8"/><circle cx="666.2" cy="359.3" r="0.8"/><circle cx="665.5" cy="374.9" r="0.8"/><circle cx="665.4" cy="360.4" r="0.8"/><circle cx="656.9" cy="369.9" r="0.8"/><circle cx="666.6" cy="353.9" r="0.8"/><circle cx="659.6" cy="337.6" r="0.8"/><circle cx="669.4" cy="360.7" r="0.8"/><circle cx="668.5" cy="363.2" r="0.8"/><circle cx="656.3" cy="359.2" r="0.8"/><circle cx="654.9" cy="368.0" r="0.8"/><circle cx="670.2" cy="362.2" r="0.8"/><circle cx="658.2" cy="356.0" r="0.8"/><circle cx="670.4" cy="356.5" r="0.8"/><circle cx="660.0" cy="370.7" r="0.8"/><circle cx="665.6" cy="371.2" r="0.8"/><circle cx="663.1" cy="350.0" r="0.8"/><circle cx="659.2" cy="343.3" r="0.8"/><circle cx="673.1" cy="360.6" r="0.8"/><circle cx="666.3" cy="375.6" r="0.8"/><circle cx="669.5" cy="363.3" r="0.8"/><circle cx="671.0" cy="355.3" r="0.8"/><circle cx="668.1" cy="359.0" r="0.8"/><circle cx="660.1" cy="367.2" r="0.8"/><circle cx="665.8" cy="371.8" r="0.8"/><circle cx="658.6" cy="358.2" r="0.8"/><circle cx="666.1" cy="351.4" r="0.8"/><circle cx="664.5" cy="371.5" r="0.8"/><circle cx="661.9" cy="366.7" r="0.8"/><circle cx="663.2" cy="327.5" r="0.8"/><circle cx="665.7" cy="341.2" r="0.8"/><circle cx="657.0" cy="350.2" r="0.8"/><circle cx="667.4" cy="358.3" r="0.8"/><circle cx="662.4" cy="358.1" r="0.8"/><circle cx="656.4" cy="367.5" r="0.8"/><circle cx="672.3" cy="351.8" r="0.8"/><circle cx="668.3" cy="366.7" r="0.8"/><circle cx="664.3" cy="363.4" r="0.8"/><circle cx="662.5" cy="357.6" r="0.8"/><circle cx="663.0" cy="366.2" r="0.8"/><circle cx="654.0" cy="357.1" r="0.8"/><circle cx="672.5" cy="359.6" r="0.8"/><circle cx="662.4" cy="336.7" r="0.8"/><circle cx="671.3" cy="365.2" r="0.8"/><circle cx="668.1" cy="368.7" r="0.8"/><circle cx="659.7" cy="377.6" r="0.8"/><circle cx="671.9" cy="355.4" r="0.8"/><circle cx="671.7" cy="358.1" r="0.8"/><circle cx="659.2" cy="377.3" r="0.8"/><circle cx="656.5" cy="360.1" r="0.8"/><circle cx="669.4" cy="353.7" r="0.8"/><circle cx="658.5" cy="355.6" r="0.8"/><circle cx="663.4" cy="371.7" r="0.8"/><circle cx="661.9" cy="347.1" r="0.8"/><circle cx="653.1" cy="353.8" r="0.8"/><circle cx="653.2" cy="364.1" r="0.8"/><circle cx="670.8" cy="362.2" r="0.8"/><circle cx="659.4" cy="360.4" r="0.8"/><circle cx="668.3" cy="370.5" r="0.8"/><circle cx="668.1" cy="362.9" r="0.8"/><circle cx="673.0" cy="353.8" r="0.8"/><circle cx="659.6" cy="372.9" r="0.8"/><circle cx="663.7" cy="343.7" r="0.8"/><circle cx="666.2" cy="362.5" r="0.8"/><circle cx="667.8" cy="351.3" r="0.8"/><circle cx="664.5" cy="374.0" r="0.8"/><circle cx="658.3" cy="346.8" r="0.8"/><circle cx="654.4" cy="356.6" r="0.8"/><circle cx="660.3" cy="345.5" r="0.8"/><circle cx="665.8" cy="342.7" r="0.8"/><circle cx="657.4" cy="352.0" r="0.8"/><circle cx="666.7" cy="358.3" r="0.8"/><circle cx="669.1" cy="368.3" r="0.8"/><circle cx="664.6" cy="349.9" r="0.8"/><circle cx="664.2" cy="354.2" r="0.8"/><circle cx="660.4" cy="354.8" r="0.8"/><circle cx="657.0" cy="367.9" r="0.8"/><circle cx="672.8" cy="361.1" r="0.8"/><circle cx="669.2" cy="351.3" r="0.8"/><circle cx="663.1" cy="369.9" r="0.8"/><circle cx="663.7" cy="333.1" r="0.8"/><circle cx="653.4" cy="358.0" r="0.8"/><circle cx="658.2" cy="371.5" r="0.8"/><circle cx="660.4" cy="367.3" r="0.8"/><circle cx="662.4" cy="304.5" r="0.8"/><circle cx="662.1" cy="367.0" r="0.8"/><circle cx="660.4" cy="349.6" r="0.8"/><circle cx="659.5" cy="360.1" r="0.8"/><circle cx="663.0" cy="344.5" r="0.8"/><circle cx="653.9" cy="364.2" r="0.8"/><circle cx="661.1" cy="338.2" r="0.8"/><circle cx="666.5" cy="370.9" r="0.8"/><circle cx="656.1" cy="367.0" r="0.8"/><circle cx="665.8" cy="370.1" r="0.8"/><circle cx="662.5" cy="348.3" r="0.8"/><circle cx="659.5" cy="370.3" r="0.8"/><circle cx="659.1" cy="337.7" r="0.8"/><circle cx="667.2" cy="333.9" r="0.8"/><circle cx="672.2" cy="361.4" r="0.8"/><circle cx="671.6" cy="355.7" r="0.8"/><circle cx="658.8" cy="340.8" r="0.8"/><circle cx="664.0" cy="339.6" r="0.8"/><circle cx="657.8" cy="367.6" r="0.8"/><circle cx="665.1" cy="340.0" r="0.8"/><circle cx="656.9" cy="351.8" r="0.8"/><circle cx="658.1" cy="361.4" r="0.8"/><circle cx="668.7" cy="359.3" r="0.8"/><circle cx="665.4" cy="349.8" r="0.8"/><circle cx="664.1" cy="354.3" r="0.8"/><circle cx="663.6" cy="366.6" r="0.8"/><circle cx="665.8" cy="332.8" r="0.8"/><circle cx="661.2" cy="342.1" r="0.8"/><circle cx="661.8" cy="354.9" r="0.8"/><circle cx="661.8" cy="339.8" r="0.8"/><circle cx="660.8" cy="363.1" r="0.8"/><circle cx="663.9" cy="348.2" r="0.8"/><circle cx="655.8" cy="360.7" r="0.8"/><circle cx="662.2" cy="313.7" r="0.8"/><circle cx="663.8" cy="369.9" r="0.8"/><circle cx="664.0" cy="357.6" r="0.8"/><circle cx="661.2" cy="351.3" r="0.8"/><circle cx="668.2" cy="371.9" r="0.8"/><circle cx="671.5" cy="358.3" r="0.8"/><circle cx="653.6" cy="363.4" r="0.8"/><circle cx="662.0" cy="356.3" r="0.8"/><circle cx="665.0" cy="352.3" r="0.8"/><circle cx="666.1" cy="365.0" r="0.8"/><circle cx="668.5" cy="362.4" r="0.8"/><circle cx="668.5" cy="361.5" r="0.8"/><circle cx="660.4" cy="354.4" r="0.8"/><circle cx="652.3" cy="353.1" r="0.8"/><circle cx="670.5" cy="362.3" r="0.8"/><circle cx="657.2" cy="364.3" r="0.8"/><circle cx="654.2" cy="363.2" r="0.8"/><circle cx="661.4" cy="354.3" r="0.8"/><circle cx="660.4" cy="356.7" r="0.8"/><circle cx="654.1" cy="358.9" r="0.8"/><circle cx="673.1" cy="363.7" r="0.8"/><circle cx="660.6" cy="346.6" r="0.8"/><circle cx="654.4" cy="356.7" r="0.8"/><circle cx="659.2" cy="368.6" r="0.8"/><circle cx="656.6" cy="358.3" r="0.8"/><circle cx="662.8" cy="326.7" r="0.8"/><circle cx="659.1" cy="347.0" r="0.8"/><circle cx="664.3" cy="377.0" r="0.8"/><circle cx="661.5" cy="350.1" r="0.8"/><circle cx="656.8" cy="369.7" r="0.8"/><circle cx="670.7" cy="361.6" r="0.8"/><circle cx="659.3" cy="377.7" r="0.8"/><circle cx="657.0" cy="360.5" r="0.8"/><circle cx="669.9" cy="368.7" r="0.8"/><circle cx="663.6" cy="355.0" r="0.8"/><circle cx="658.1" cy="352.9" r="0.8"/><circle cx="661.3" cy="368.7" r="0.8"/><circle cx="665.8" cy="363.6" r="0.8"/><circle cx="663.0" cy="297.2" r="0.8"/><circle cx="660.6" cy="373.4" r="0.8"/><circle cx="660.4" cy="353.3" r="0.8"/><circle cx="668.0" cy="351.6" r="0.8"/><circle cx="667.8" cy="355.4" r="0.8"/><circle cx="667.8" cy="359.4" r="0.8"/><circle cx="672.5" cy="350.6" r="0.8"/><circle cx="663.0" cy="357.4" r="0.8"/><circle cx="655.9" cy="364.0" r="0.8"/><circle cx="662.9" cy="337.6" r="0.8"/><circle cx="653.7" cy="362.9" r="0.8"/><circle cx="656.7" cy="352.4" r="0.8"/><circle cx="652.5" cy="352.2" r="0.8"/><circle cx="661.0" cy="334.5" r="0.8"/><circle cx="654.1" cy="357.1" r="0.8"/><circle cx="668.6" cy="356.2" r="0.8"/><circle cx="652.5" cy="359.6" r="0.8"/><circle cx="661.9" cy="310.1" r="0.8"/><circle cx="672.9" cy="358.9" r="0.8"/><circle cx="659.1" cy="333.8" r="0.8"/><circle cx="672.4" cy="363.4" r="0.8"/><circle cx="659.8" cy="367.3" r="0.8"/><circle cx="664.5" cy="367.1" r="0.8"/><circle cx="659.8" cy="376.1" r="0.8"/><circle cx="672.2" cy="364.6" r="0.8"/><circle cx="659.6" cy="353.1" r="0.8"/><circle cx="657.5" cy="363.3" r="0.8"/><circle cx="672.6" cy="361.7" r="0.8"/><circle cx="667.2" cy="356.8" r="0.8"/><circle cx="654.4" cy="360.5" r="0.8"/><circle cx="656.4" cy="370.7" r="0.8"/><circle cx="663.1" cy="377.1" r="0.8"/><circle cx="663.5" cy="356.2" r="0.8"/><circle cx="661.1" cy="348.2" r="0.8"/><circle cx="653.9" cy="363.8" r="0.8"/><circle cx="664.2" cy="356.6" r="0.8"/><circle cx="663.3" cy="365.3" r="0.8"/><circle cx="662.4" cy="359.2" r="0.8"/><circle cx="657.9" cy="354.0" r="0.8"/><circle cx="662.2" cy="361.6" r="0.8"/><circle cx="665.5" cy="339.3" r="0.8"/><circle cx="662.8" cy="323.7" r="0.8"/><circle cx="663.1" cy="371.6" r="0.8"/><circle cx="668.9" cy="352.0" r="0.8"/><circle cx="667.3" cy="363.5" r="0.8"/><circle cx="661.8" cy="336.4" r="0.8"/><circle cx="660.6" cy="333.8" r="0.8"/><circle cx="659.1" cy="346.8" r="0.8"/><circle cx="657.5" cy="359.7" r="0.8"/><circle cx="660.8" cy="333.6" r="0.8"/><circle cx="654.7" cy="372.5" r="0.8"/><circle cx="663.9" cy="369.3" r="0.8"/><circle cx="669.9" cy="367.8" r="0.8"/><circle cx="654.8" cy="356.2" r="0.8"/><circle cx="664.3" cy="362.1" r="0.8"/><circle cx="670.4" cy="359.3" r="0.8"/><circle cx="665.4" cy="353.9" r="0.8"/><circle cx="662.0" cy="333.4" r="0.8"/><circle cx="660.2" cy="336.1" r="0.8"/><circle cx="668.2" cy="360.9" r="0.8"/><circle cx="662.2" cy="342.7" r="0.8"/><circle cx="668.3" cy="351.8" r="0.8"/><circle cx="657.5" cy="349.2" r="0.8"/><circle cx="666.8" cy="369.6" r="0.8"/><circle cx="669.2" cy="353.8" r="0.8"/><circle cx="657.8" cy="363.8" r="0.8"/><circle cx="660.6" cy="372.6" r="0.8"/><circle cx="665.4" cy="349.5" r="0.8"/><circle cx="655.6" cy="366.5" r="0.8"/><circle cx="658.6" cy="373.8" r="0.8"/><circle cx="663.1" cy="317.2" r="0.8"/><circle cx="654.0" cy="357.9" r="0.8"/><circle cx="654.1" cy="358.7" r="0.8"/><circle cx="664.8" cy="352.6" r="0.8"/><circle cx="664.1" cy="374.2" r="0.8"/><circle cx="658.1" cy="369.2" r="0.8"/><circle cx="666.6" cy="367.1" r="0.8"/><circle cx="665.2" cy="358.8" r="0.8"/><circle cx="666.2" cy="373.0" r="0.8"/><circle cx="665.5" cy="370.0" r="0.8"/><circle cx="660.1" cy="377.9" r="0.8"/><circle cx="663.6" cy="351.2" r="0.8"/><circle cx="660.2" cy="364.9" r="0.8"/><circle cx="666.0" cy="377.7" r="0.8"/><circle cx="665.5" cy="369.0" r="0.8"/><circle cx="668.8" cy="350.0" r="0.8"/><circle cx="653.1" cy="354.1" r="0.8"/><circle cx="668.6" cy="362.5" r="0.8"/><circle cx="659.1" cy="374.6" r="0.8"/><circle cx="664.1" cy="349.7" r="0.8"/><circle cx="659.6" cy="344.6" r="0.8"/><circle cx="671.0" cy="362.3" r="0.8"/><circle cx="660.1" cy="336.8" r="0.8"/><circle cx="665.5" cy="345.8" r="0.8"/><circle cx="666.3" cy="376.3" r="0.8"/><circle cx="654.7" cy="357.3" r="0.8"/><circle cx="659.9" cy="345.1" r="0.8"/><circle cx="661.2" cy="364.9" r="0.8"/><circle cx="658.9" cy="352.7" r="0.8"/><circle cx="663.0" cy="326.0" r="0.8"/><circle cx="665.1" cy="343.4" r="0.8"/><circle cx="666.4" cy="359.2" r="0.8"/><circle cx="663.7" cy="369.6" r="0.8"/><circle cx="655.3" cy="362.0" r="0.8"/><circle cx="661.3" cy="338.2" r="0.8"/><circle cx="670.4" cy="362.7" r="0.8"/><circle cx="670.3" cy="354.7" r="0.8"/><circle cx="660.8" cy="340.4" r="0.8"/><circle cx="660.4" cy="358.3" r="0.8"/><circle cx="671.3" cy="352.3" r="0.8"/><circle cx="655.4" cy="363.7" r="0.8"/><circle cx="663.5" cy="375.0" r="0.8"/><circle cx="662.6" cy="311.2" r="0.8"/><circle cx="663.2" cy="327.3" r="0.8"/><circle cx="671.5" cy="357.2" r="0.8"/><circle cx="659.3" cy="362.7" r="0.8"/><circle cx="656.6" cy="353.4" r="0.8"/><circle cx="663.8" cy="334.4" r="0.8"/><circle cx="656.6" cy="359.2" r="0.8"/><circle cx="657.7" cy="364.3" r="0.8"/><circle cx="672.4" cy="353.4" r="0.8"/><circle cx="661.4" cy="364.0" r="0.8"/><circle cx="667.7" cy="362.0" r="0.8"/><circle cx="660.8" cy="337.0" r="0.8"/><circle cx="662.0" cy="369.1" r="0.8"/><circle cx="666.5" cy="338.5" r="0.8"/><circle cx="667.5" cy="364.9" r="0.8"/><circle cx="658.5" cy="352.2" r="0.8"/><circle cx="667.1" cy="363.9" r="0.8"/><circle cx="663.2" cy="360.7" r="0.8"/><circle cx="656.6" cy="351.9" r="0.8"/><circle cx="667.7" cy="369.6" r="0.8"/><circle cx="654.4" cy="357.6" r="0.8"/><circle cx="658.2" cy="373.3" r="0.8"/><circle cx="668.9" cy="351.3" r="0.8"/><circle cx="660.7" cy="364.0" r="0.8"/><circle cx="672.4" cy="354.9" r="0.8"/><circle cx="658.2" cy="359.5" r="0.8"/><circle cx="658.7" cy="355.6" r="0.8"/><circle cx="663.8" cy="311.8" r="0.8"/><circle cx="666.1" cy="377.8" r="0.8"/><circle cx="668.2" cy="349.7" r="0.8"/><circle cx="656.9" cy="338.9" r="0.8"/><circle cx="666.1" cy="345.8" r="0.8"/><circle cx="669.0" cy="366.5" r="0.8"/><circle cx="655.2" cy="373.3" r="0.8"/><circle cx="666.7" cy="377.3" r="0.8"/><circle cx="663.5" cy="361.9" r="0.8"/><circle cx="669.2" cy="358.5" r="0.8"/><circle cx="662.7" cy="351.2" r="0.8"/><circle cx="661.3" cy="340.4" r="0.8"/><circle cx="659.4" cy="358.4" r="0.8"/><circle cx="672.4" cy="361.6" r="0.8"/><circle cx="664.1" cy="353.1" r="0.8"/><circle cx="658.6" cy="352.9" r="0.8"/><circle cx="660.8" cy="355.4" r="0.8"/><circle cx="666.8" cy="372.9" r="0.8"/><circle cx="662.1" cy="358.5" r="0.8"/><circle cx="669.4" cy="353.6" r="0.8"/><circle cx="664.2" cy="372.5" r="0.8"/><circle cx="662.0" cy="316.9" r="0.8"/><circle cx="666.2" cy="362.5" r="0.8"/><circle cx="659.5" cy="357.5" r="0.8"/><circle cx="669.2" cy="360.0" r="0.8"/><circle cx="663.2" cy="345.8" r="0.8"/><circle cx="664.4" cy="356.2" r="0.8"/><circle cx="655.7" cy="368.7" r="0.8"/><circle cx="659.7" cy="374.0" r="0.8"/><circle cx="671.6" cy="355.0" r="0.8"/><circle cx="667.4" cy="360.7" r="0.8"/><circle cx="672.3" cy="352.5" r="0.8"/><circle cx="664.0" cy="335.0" r="0.8"/><circle cx="666.7" cy="359.7" r="0.8"/><circle cx="663.1" cy="285.1" r="0.8"/><circle cx="661.4" cy="352.7" r="0.8"/><circle cx="668.7" cy="357.5" r="0.8"/><circle cx="660.4" cy="356.5" r="0.8"/><circle cx="660.0" cy="344.2" r="0.8"/><circle cx="664.7" cy="342.6" r="0.8"/><circle cx="668.4" cy="363.2" r="0.8"/><circle cx="660.4" cy="365.6" r="0.8"/><circle cx="672.0" cy="363.7" r="0.8"/><circle cx="656.3" cy="360.9" r="0.8"/><circle cx="660.4" cy="362.2" r="0.8"/><circle cx="663.3" cy="339.5" r="0.8"/><circle cx="662.7" cy="334.1" r="0.8"/><circle cx="665.2" cy="351.5" r="0.8"/><circle cx="666.0" cy="340.1" r="0.8"/><circle cx="666.8" cy="358.0" r="0.8"/><circle cx="664.8" cy="377.2" r="0.8"/><circle cx="663.5" cy="355.9" r="0.8"/><circle cx="668.1" cy="371.0" r="0.8"/><circle cx="662.3" cy="367.0" r="0.8"/><circle cx="660.4" cy="332.8" r="0.8"/><circle cx="659.1" cy="337.7" r="0.8"/><circle cx="662.0" cy="362.8" r="0.8"/><circle cx="656.2" cy="359.9" r="0.8"/><circle cx="656.2" cy="366.6" r="0.8"/><circle cx="663.6" cy="367.4" r="0.8"/><circle cx="666.0" cy="341.8" r="0.8"/><circle cx="663.5" cy="338.7" r="0.8"/><circle cx="662.8" cy="300.8" r="0.8"/><circle cx="657.2" cy="358.8" r="0.8"/><circle cx="652.4" cy="353.5" r="0.8"/><circle cx="659.9" cy="375.4" r="0.8"/><circle cx="653.8" cy="361.3" r="0.8"/><circle cx="669.6" cy="352.6" r="0.8"/><circle cx="658.3" cy="363.8" r="0.8"/><circle cx="666.2" cy="364.4" r="0.8"/><circle cx="656.4" cy="373.0" r="0.8"/><circle cx="667.3" cy="356.9" r="0.8"/><circle cx="659.6" cy="359.1" r="0.8"/><circle cx="667.0" cy="355.2" r="0.8"/><circle cx="666.4" cy="362.7" r="0.8"/><circle cx="672.6" cy="355.9" r="0.8"/><circle cx="652.7" cy="354.0" r="0.8"/><circle cx="670.3" cy="352.2" r="0.8"/><circle cx="657.5" cy="348.6" r="0.8"/><circle cx="672.3" cy="358.2" r="0.8"/><circle cx="661.9" cy="357.4" r="0.8"/><circle cx="663.5" cy="372.0" r="0.8"/><circle cx="665.4" cy="350.5" r="0.8"/><circle cx="671.8" cy="359.0" r="0.8"/><circle cx="662.1" cy="343.3" r="0.8"/><circle cx="666.4" cy="350.9" r="0.8"/><circle cx="658.2" cy="355.9" r="0.8"/><circle cx="663.6" cy="376.7" r="0.8"/><circle cx="663.3" cy="357.0" r="0.8"/><circle cx="663.3" cy="310.0" r="0.8"/><circle cx="663.4" cy="332.9" r="0.8"/><circle cx="655.6" cy="363.6" r="0.8"/><circle cx="658.7" cy="339.6" r="0.8"/><circle cx="663.9" cy="333.0" r="0.8"/><circle cx="662.8" cy="346.1" r="0.8"/><circle cx="659.6" cy="342.4" r="0.8"/><circle cx="656.0" cy="365.4" r="0.8"/><circle cx="665.7" cy="359.8" r="0.8"/><circle cx="661.8" cy="373.7" r="0.8"/><circle cx="671.2" cy="354.7" r="0.8"/><circle cx="654.2" cy="358.8" r="0.8"/><circle cx="669.6" cy="366.2" r="0.8"/><circle cx="670.6" cy="351.7" r="0.8"/><circle cx="664.7" cy="373.7" r="0.8"/><circle cx="665.6" cy="340.6" r="0.8"/><circle cx="673.0" cy="359.8" r="0.8"/><circle cx="656.9" cy="366.6" r="0.8"/><circle cx="670.9" cy="365.3" r="0.8"/><circle cx="659.0" cy="370.3" r="0.8"/><circle cx="669.2" cy="363.0" r="0.8"/><circle cx="663.6" cy="354.8" r="0.8"/><circle cx="660.5" cy="369.1" r="0.8"/><circle cx="658.0" cy="332.0" r="0.8"/><circle cx="659.5" cy="338.7" r="0.8"/><circle cx="662.0" cy="342.4" r="0.8"/><circle cx="666.6" cy="376.5" r="0.8"/><circle cx="671.6" cy="357.5" r="0.8"/><circle cx="669.3" cy="373.1" r="0.8"/><circle cx="661.8" cy="358.7" r="0.8"/><circle cx="668.8" cy="358.5" r="0.8"/><circle cx="666.7" cy="363.1" r="0.8"/><circle cx="667.6" cy="338.6" r="0.8"/><circle cx="669.4" cy="368.5" r="0.8"/><circle cx="660.6" cy="350.5" r="0.8"/><circle cx="659.5" cy="346.2" r="0.8"/><circle cx="661.1" cy="348.6" r="0.8"/><circle cx="662.3" cy="325.2" r="0.8"/><circle cx="666.6" cy="361.6" r="0.8"/><circle cx="664.3" cy="356.8" r="0.8"/><circle cx="669.7" cy="366.6" r="0.8"/><circle cx="653.0" cy="352.5" r="0.8"/><circle cx="660.6" cy="372.2" r="0.8"/><circle cx="663.9" cy="359.2" r="0.8"/><circle cx="662.2" cy="333.1" r="0.8"/><circle cx="654.4" cy="356.4" r="0.8"/><circle cx="665.3" cy="368.9" r="0.8"/><circle cx="658.7" cy="358.0" r="0.8"/><circle cx="656.9" cy="365.3" r="0.8"/><circle cx="653.2" cy="360.3" r="0.8"/><circle cx="662.1" cy="353.7" r="0.8"/><circle cx="653.5" cy="351.2" r="0.8"/><circle cx="662.7" cy="339.8" r="0.8"/><circle cx="653.8" cy="362.6" r="0.8"/><circle cx="654.8" cy="355.1" r="0.8"/><circle cx="661.3" cy="339.8" r="0.8"/><circle cx="662.0" cy="315.8" r="0.8"/><circle cx="663.1" cy="354.5" r="0.8"/><circle cx="672.2" cy="354.5" r="0.8"/><circle cx="663.6" cy="367.6" r="0.8"/><circle cx="659.8" cy="333.9" r="0.8"/><circle cx="661.6" cy="338.1" r="0.8"/><circle cx="661.7" cy="355.3" r="0.8"/><circle cx="670.3" cy="355.1" r="0.8"/><circle cx="655.0" cy="363.2" r="0.8"/><circle cx="659.7" cy="333.1" r="0.8"/><circle cx="667.5" cy="354.1" r="0.8"/><circle cx="667.0" cy="364.9" r="0.8"/><circle cx="672.4" cy="351.7" r="0.8"/><circle cx="661.5" cy="335.3" r="0.8"/><circle cx="662.8" cy="311.3" r="0.8"/><circle cx="658.4" cy="362.6" r="0.8"/><circle cx="657.9" cy="370.6" r="0.8"/><circle cx="663.8" cy="332.3" r="0.8"/><circle cx="663.1" cy="363.1" r="0.8"/><circle cx="664.6" cy="366.2" r="0.8"/><circle cx="662.4" cy="284.9" r="0.8"/><circle cx="662.6" cy="328.5" r="0.8"/><circle cx="653.0" cy="358.8" r="0.8"/><circle cx="667.9" cy="350.7" r="0.8"/><circle cx="671.6" cy="372.9" r="0.8"/><circle cx="655.4" cy="363.3" r="0.8"/><circle cx="652.9" cy="362.6" r="0.8"/><circle cx="666.9" cy="354.1" r="0.8"/><circle cx="667.8" cy="372.4" r="0.8"/><circle cx="662.6" cy="316.0" r="0.8"/><circle cx="667.8" cy="349.3" r="0.8"/><circle cx="662.9" cy="359.5" r="0.8"/><circle cx="657.8" cy="354.6" r="0.8"/><circle cx="656.2" cy="370.7" r="0.8"/><circle cx="653.0" cy="359.6" r="0.8"/><circle cx="662.8" cy="349.2" r="0.8"/><circle cx="665.5" cy="356.1" r="0.8"/><circle cx="658.8" cy="356.7" r="0.8"/><circle cx="661.6" cy="362.9" r="0.8"/><circle cx="662.5" cy="337.1" r="0.8"/><circle cx="672.6" cy="352.3" r="0.8"/><circle cx="664.4" cy="357.0" r="0.8"/><circle cx="665.3" cy="347.4" r="0.8"/><circle cx="663.2" cy="365.9" r="0.8"/><circle cx="668.9" cy="371.1" r="0.8"/><circle cx="659.7" cy="349.9" r="0.8"/><circle cx="666.8" cy="339.5" r="0.8"/><circle cx="665.9" cy="348.5" r="0.8"/><circle cx="662.7" cy="352.0" r="0.8"/><circle cx="663.3" cy="355.8" r="0.8"/><circle cx="657.5" cy="360.1" r="0.8"/><circle cx="665.9" cy="369.9" r="0.8"/><circle cx="666.2" cy="343.3" r="0.8"/><circle cx="665.8" cy="354.0" r="0.8"/><circle cx="659.5" cy="359.3" r="0.8"/><circle cx="655.5" cy="355.9" r="0.8"/><circle cx="655.4" cy="351.2" r="0.8"/><circle cx="655.5" cy="356.3" r="0.8"/><circle cx="665.0" cy="363.1" r="0.8"/><circle cx="652.4" cy="361.5" r="0.8"/><circle cx="667.0" cy="355.2" r="0.8"/><circle cx="673.0" cy="351.7" r="0.8"/><circle cx="662.9" cy="346.0" r="0.8"/><circle cx="667.1" cy="351.4" r="0.8"/><circle cx="660.9" cy="343.4" r="0.8"/><circle cx="659.5" cy="341.6" r="0.8"/><circle cx="656.8" cy="368.4" r="0.8"/><circle cx="658.6" cy="353.3" r="0.8"/><circle cx="666.8" cy="372.9" r="0.8"/><circle cx="668.4" cy="358.2" r="0.8"/><circle cx="664.2" cy="372.3" r="0.8"/><circle cx="670.1" cy="359.3" r="0.8"/><circle cx="663.7" cy="366.4" r="0.8"/><circle cx="667.0" cy="372.7" r="0.8"/><circle cx="659.9" cy="354.1" r="0.8"/><circle cx="655.6" cy="364.1" r="0.8"/><circle cx="660.1" cy="338.2" r="0.8"/><circle cx="670.0" cy="372.1" r="0.8"/><circle cx="662.5" cy="319.2" r="0.8"/><circle cx="662.6" cy="367.0" r="0.8"/><circle cx="663.0" cy="352.3" r="0.8"/><circle cx="662.8" cy="365.7" r="0.8"/><circle cx="660.9" cy="352.5" r="0.8"/><circle cx="666.5" cy="358.2" r="0.8"/><circle cx="660.9" cy="362.2" r="0.8"/><circle cx="660.9" cy="354.2" r="0.8"/><circle cx="667.8" cy="354.1" r="0.8"/><circle cx="663.1" cy="343.1" r="0.8"/><circle cx="658.8" cy="362.8" r="0.8"/><circle cx="658.2" cy="368.8" r="0.8"/><circle cx="654.5" cy="351.5" r="0.8"/><circle cx="658.6" cy="373.4" r="0.8"/><circle cx="658.3" cy="364.4" r="0.8"/><circle cx="669.8" cy="358.7" r="0.8"/><circle cx="664.8" cy="354.9" r="0.8"/><circle cx="670.1" cy="372.4" r="0.8"/><circle cx="659.6" cy="351.6" r="0.8"/><circle cx="663.0" cy="325.3" r="0.8"/><circle cx="665.5" cy="347.6" r="0.8"/><circle cx="657.2" cy="372.4" r="0.8"/><circle cx="660.3" cy="332.7" r="0.8"/><circle cx="666.9" cy="353.0" r="0.8"/><circle cx="672.9" cy="356.8" r="0.8"/><circle cx="663.9" cy="358.8" r="0.8"/><circle cx="662.7" cy="370.8" r="0.8"/><circle cx="662.3" cy="351.7" r="0.8"/><circle cx="663.7" cy="361.0" r="0.8"/><circle cx="667.3" cy="360.3" r="0.8"/><circle cx="667.8" cy="353.7" r="0.8"/><circle cx="661.9" cy="334.2" r="0.8"/><circle cx="663.7" cy="357.1" r="0.8"/><circle cx="661.4" cy="373.2" r="0.8"/><circle cx="657.8" cy="355.9" r="0.8"/><circle cx="671.0" cy="350.6" r="0.8"/><circle cx="658.8" cy="352.2" r="0.8"/><circle cx="667.9" cy="363.9" r="0.8"/><circle cx="669.8" cy="352.8" r="0.8"/><circle cx="663.8" cy="369.0" r="0.8"/><circle cx="662.5" cy="359.6" r="0.8"/><circle cx="665.0" cy="354.2" r="0.8"/><circle cx="655.2" cy="356.5" r="0.8"/><circle cx="662.8" cy="370.1" r="0.8"/><circle cx="663.6" cy="343.5" r="0.8"/><circle cx="662.8" cy="348.6" r="0.8"/><circle cx="665.0" cy="340.6" r="0.8"/><circle cx="660.5" cy="372.4" r="0.8"/><circle cx="662.9" cy="322.3" r="0.8"/><circle cx="662.1" cy="362.7" r="0.8"/><circle cx="666.6" cy="364.1" r="0.8"/><circle cx="672.0" cy="352.2" r="0.8"/><circle cx="658.5" cy="352.7" r="0.8"/><circle cx="661.5" cy="352.4" r="0.8"/><circle cx="653.6" cy="359.4" r="0.8"/><circle cx="665.5" cy="339.9" r="0.8"/><circle cx="655.6" cy="366.1" r="0.8"/><circle cx="664.9" cy="354.8" r="0.8"/><circle cx="662.2" cy="351.8" r="0.8"/><circle cx="670.8" cy="358.7" r="0.8"/><circle cx="662.5" cy="373.5" r="0.8"/><circle cx="660.2" cy="341.9" r="0.8"/><circle cx="667.8" cy="354.4" r="0.8"/><circle cx="664.9" cy="364.0" r="0.8"/><circle cx="656.0" cy="352.8" r="0.8"/><circle cx="658.5" cy="377.7" r="0.8"/><circle cx="662.5" cy="280.7" r="0.8"/><circle cx="669.9" cy="367.6" r="0.8"/><circle cx="663.0" cy="294.4" r="0.8"/><circle cx="657.4" cy="355.3" r="0.8"/><circle cx="662.3" cy="338.8" r="0.8"/><circle cx="669.4" cy="358.2" r="0.8"/><circle cx="653.0" cy="353.8" r="0.8"/><circle cx="667.2" cy="364.6" r="0.8"/><circle cx="670.2" cy="360.0" r="0.8"/><circle cx="662.5" cy="307.0" r="0.8"/><circle cx="659.7" cy="332.2" r="0.8"/><circle cx="663.1" cy="353.3" r="0.8"/><circle cx="660.9" cy="341.7" r="0.8"/><circle cx="662.8" cy="370.6" r="0.8"/><circle cx="659.8" cy="363.5" r="0.8"/><circle cx="653.5" cy="352.1" r="0.8"/><circle cx="657.0" cy="355.7" r="0.8"/><circle cx="667.2" cy="348.8" r="0.8"/><circle cx="667.2" cy="349.5" r="0.8"/><circle cx="659.1" cy="336.3" r="0.8"/><circle cx="662.1" cy="325.7" r="0.8"/><circle cx="667.8" cy="352.3" r="0.8"/><circle cx="663.2" cy="370.3" r="0.8"/><circle cx="657.8" cy="355.3" r="0.8"/><circle cx="658.8" cy="349.8" r="0.8"/><circle cx="664.6" cy="375.4" r="0.8"/><circle cx="663.3" cy="318.0" r="0.8"/><circle cx="660.0" cy="358.1" r="0.8"/><circle cx="666.4" cy="366.9" r="0.8"/><circle cx="653.5" cy="358.0" r="0.8"/><circle cx="670.6" cy="350.4" r="0.8"/><circle cx="661.6" cy="332.1" r="0.8"/><circle cx="663.6" cy="361.4" r="0.8"/><circle cx="663.1" cy="350.7" r="0.8"/><circle cx="663.2" cy="322.5" r="0.8"/><circle cx="665.8" cy="336.9" r="0.8"/><circle cx="655.8" cy="364.2" r="0.8"/><circle cx="660.1" cy="364.3" r="0.8"/><circle cx="663.5" cy="362.4" r="0.8"/><circle cx="664.1" cy="348.8" r="0.8"/><circle cx="663.2" cy="347.2" r="0.8"/><circle cx="668.1" cy="364.7" r="0.8"/><circle cx="659.3" cy="361.7" r="0.8"/><circle cx="660.1" cy="332.8" r="0.8"/><circle cx="669.0" cy="352.8" r="0.8"/><circle cx="656.6" cy="364.2" r="0.8"/><circle cx="666.7" cy="347.4" r="0.8"/><circle cx="662.1" cy="361.6" r="0.8"/><circle cx="663.1" cy="318.4" r="0.8"/><circle cx="666.7" cy="343.6" r="0.8"/><circle cx="666.5" cy="341.5" r="0.8"/><circle cx="663.2" cy="340.7" r="0.8"/><circle cx="665.3" cy="371.1" r="0.8"/><circle cx="664.2" cy="373.5" r="0.8"/><circle cx="660.4" cy="373.8" r="0.8"/><circle cx="660.6" cy="335.9" r="0.8"/><circle cx="656.0" cy="367.4" r="0.8"/><circle cx="653.5" cy="361.2" r="0.8"/><circle cx="667.0" cy="343.3" r="0.8"/><circle cx="659.5" cy="368.3" r="0.8"/><circle cx="659.1" cy="354.5" r="0.8"/><circle cx="662.5" cy="309.5" r="0.8"/><circle cx="671.4" cy="356.6" r="0.8"/><circle cx="659.7" cy="343.4" r="0.8"/><circle cx="664.1" cy="354.8" r="0.8"/><circle cx="663.3" cy="315.7" r="0.8"/><circle cx="667.4" cy="333.3" r="0.8"/><circle cx="661.6" cy="333.3" r="0.8"/><circle cx="661.8" cy="314.2" r="0.8"/><circle cx="665.3" cy="377.6" r="0.8"/><circle cx="671.8" cy="361.0" r="0.8"/><circle cx="662.4" cy="321.8" r="0.8"/><circle cx="662.5" cy="313.9" r="0.8"/><circle cx="653.9" cy="357.4" r="0.8"/><circle cx="665.2" cy="360.8" r="0.8"/><circle cx="661.9" cy="374.2" r="0.8"/><circle cx="663.1" cy="354.6" r="0.8"/><circle cx="664.6" cy="346.1" r="0.8"/><circle cx="663.7" cy="345.6" r="0.8"/><circle cx="660.8" cy="363.1" r="0.8"/><circle cx="661.5" cy="362.5" r="0.8"/><circle cx="656.1" cy="368.9" r="0.8"/><circle cx="662.9" cy="324.9" r="0.8"/><circle cx="671.7" cy="373.3" r="0.8"/><circle cx="668.6" cy="364.9" r="0.8"/><circle cx="662.0" cy="351.8" r="0.8"/><circle cx="663.1" cy="315.1" r="0.8"/><circle cx="656.1" cy="369.9" r="0.8"/><circle cx="662.2" cy="325.4" r="0.8"/><circle cx="661.5" cy="354.5" r="0.8"/><circle cx="670.4" cy="358.6" r="0.8"/><circle cx="656.2" cy="362.2" r="0.8"/><circle cx="659.4" cy="364.0" r="0.8"/><circle cx="665.4" cy="343.7" r="0.8"/><circle cx="665.8" cy="354.3" r="0.8"/><circle cx="662.3" cy="292.6" r="0.8"/><circle cx="663.3" cy="312.7" r="0.8"/><circle cx="663.0" cy="330.6" r="0.8"/><circle cx="659.5" cy="356.0" r="0.8"/><circle cx="656.0" cy="354.5" r="0.8"/><circle cx="659.6" cy="376.5" r="0.8"/><circle cx="658.0" cy="351.5" r="0.8"/><circle cx="660.0" cy="339.0" r="0.8"/><circle cx="658.7" cy="336.4" r="0.8"/><circle cx="658.7" cy="350.9" r="0.8"/><circle cx="660.9" cy="377.4" r="0.8"/><circle cx="665.2" cy="373.1" r="0.8"/><circle cx="666.8" cy="351.8" r="0.8"/><circle cx="658.4" cy="343.7" r="0.8"/><circle cx="656.1" cy="369.1" r="0.8"/><circle cx="662.0" cy="314.0" r="0.8"/><circle cx="662.9" cy="334.4" r="0.8"/><circle cx="663.0" cy="349.7" r="0.8"/><circle cx="659.5" cy="333.3" r="0.8"/><circle cx="656.6" cy="353.5" r="0.8"/><circle cx="666.9" cy="363.9" r="0.8"/><circle cx="659.4" cy="373.2" r="0.8"/><circle cx="662.4" cy="362.7" r="0.8"/><circle cx="670.7" cy="373.7" r="0.8"/><circle cx="663.7" cy="365.4" r="0.8"/><circle cx="659.4" cy="358.3" r="0.8"/><circle cx="663.2" cy="311.1" r="0.8"/><circle cx="654.0" cy="363.7" r="0.8"/><circle cx="662.2" cy="375.0" r="0.8"/><circle cx="660.1" cy="340.1" r="0.8"/><circle cx="670.4" cy="369.7" r="0.8"/><circle cx="660.4" cy="373.4" r="0.8"/><circle cx="655.3" cy="355.6" r="0.8"/><circle cx="664.8" cy="362.1" r="0.8"/><circle cx="668.0" cy="354.6" r="0.8"/><circle cx="666.1" cy="367.5" r="0.8"/><circle cx="662.8" cy="350.9" r="0.8"/><circle cx="654.8" cy="359.9" r="0.8"/><circle cx="664.0" cy="341.8" r="0.8"/><circle cx="655.4" cy="369.6" r="0.8"/><circle cx="666.5" cy="339.2" r="0.8"/><circle cx="665.6" cy="338.1" r="0.8"/><circle cx="666.3" cy="358.4" r="0.8"/><circle cx="672.7" cy="355.4" r="0.8"/><circle cx="661.1" cy="366.2" r="0.8"/><circle cx="667.2" cy="361.8" r="0.8"/><circle cx="658.4" cy="360.0" r="0.8"/><circle cx="665.8" cy="367.3" r="0.8"/><circle cx="665.0" cy="340.4" r="0.8"/><circle cx="653.0" cy="350.8" r="0.8"/><circle cx="660.3" cy="353.6" r="0.8"/><circle cx="661.9" cy="350.6" r="0.8"/><circle cx="666.4" cy="373.2" r="0.8"/><circle cx="669.4" cy="367.7" r="0.8"/><circle cx="665.2" cy="363.1" r="0.8"/><circle cx="671.0" cy="359.7" r="0.8"/><circle cx="657.4" cy="354.1" r="0.8"/><circle cx="671.1" cy="358.5" r="0.8"/><circle cx="658.7" cy="353.2" r="0.8"/><circle cx="663.3" cy="358.7" r="0.8"/><circle cx="660.7" cy="374.7" r="0.8"/><circle cx="664.5" cy="374.1" r="0.8"/><circle cx="666.1" cy="338.0" r="0.8"/><circle cx="664.4" cy="359.6" r="0.8"/><circle cx="659.1" cy="353.0" r="0.8"/><circle cx="664.8" cy="364.3" r="0.8"/><circle cx="654.4" cy="355.4" r="0.8"/><circle cx="671.0" cy="360.5" r="0.8"/><circle cx="660.6" cy="336.7" r="0.8"/><circle cx="668.4" cy="357.9" r="0.8"/><circle cx="653.9" cy="373.1" r="0.8"/><circle cx="668.8" cy="355.0" r="0.8"/><circle cx="658.8" cy="365.1" r="0.8"/><circle cx="658.9" cy="373.8" r="0.8"/><circle cx="671.6" cy="361.0" r="0.8"/><circle cx="662.0" cy="343.2" r="0.8"/><circle cx="652.4" cy="360.7" r="0.8"/><circle cx="666.9" cy="343.1" r="0.8"/><circle cx="658.8" cy="373.2" r="0.8"/><circle cx="662.0" cy="339.1" r="0.8"/><circle cx="660.0" cy="339.0" r="0.8"/><circle cx="663.6" cy="348.7" r="0.8"/><circle cx="666.8" cy="332.7" r="0.8"/><circle cx="663.5" cy="358.1" r="0.8"/><circle cx="668.7" cy="367.7" r="0.8"/><circle cx="669.3" cy="363.3" r="0.8"/><circle cx="667.8" cy="368.9" r="0.8"/><circle cx="654.4" cy="364.4" r="0.8"/><circle cx="666.1" cy="348.7" r="0.8"/><circle cx="659.5" cy="361.9" r="0.8"/><circle cx="658.8" cy="350.4" r="0.8"/><circle cx="662.4" cy="318.8" r="0.8"/><circle cx="667.3" cy="356.5" r="0.8"/><circle cx="666.3" cy="362.6" r="0.8"/><circle cx="669.3" cy="363.8" r="0.8"/><circle cx="658.7" cy="339.7" r="0.8"/><circle cx="666.3" cy="339.5" r="0.8"/><circle cx="665.6" cy="358.1" r="0.8"/><circle cx="661.6" cy="364.0" r="0.8"/><circle cx="669.4" cy="362.5" r="0.8"/><circle cx="669.0" cy="369.7" r="0.8"/><circle cx="667.9" cy="362.1" r="0.8"/><circle cx="666.6" cy="351.2" r="0.8"/><circle cx="667.1" cy="372.1" r="0.8"/><circle cx="666.1" cy="369.4" r="0.8"/><circle cx="661.1" cy="375.5" r="0.8"/><circle cx="658.9" cy="368.3" r="0.8"/><circle cx="658.2" cy="343.1" r="0.8"/><circle cx="663.2" cy="353.0" r="0.8"/><circle cx="669.7" cy="366.6" r="0.8"/><circle cx="667.9" cy="359.0" r="0.8"/><circle cx="657.7" cy="338.8" r="0.8"/><circle cx="670.1" cy="361.8" r="0.8"/><circle cx="659.2" cy="350.7" r="0.8"/><circle cx="663.5" cy="350.8" r="0.8"/><circle cx="657.2" cy="367.6" r="0.8"/><circle cx="665.0" cy="351.2" r="0.8"/><circle cx="668.0" cy="367.7" r="0.8"/><circle cx="668.3" cy="373.6" r="0.8"/><circle cx="660.9" cy="342.4" r="0.8"/><circle cx="652.9" cy="355.4" r="0.8"/><circle cx="670.5" cy="353.7" r="0.8"/><circle cx="658.5" cy="348.6" r="0.8"/><circle cx="662.0" cy="336.7" r="0.8"/><circle cx="661.8" cy="370.6" r="0.8"/><circle cx="657.6" cy="342.6" r="0.8"/><circle cx="658.8" cy="353.2" r="0.8"/><circle cx="665.4" cy="338.4" r="0.8"/><circle cx="659.9" cy="336.3" r="0.8"/><circle cx="663.3" cy="367.1" r="0.8"/><circle cx="670.9" cy="357.0" r="0.8"/><circle cx="671.4" cy="351.8" r="0.8"/><circle cx="654.3" cy="352.4" r="0.8"/><circle cx="661.1" cy="349.9" r="0.8"/><circle cx="669.5" cy="365.0" r="0.8"/><circle cx="667.8" cy="349.8" r="0.8"/><circle cx="664.2" cy="350.2" r="0.8"/><circle cx="662.0" cy="310.3" r="0.8"/><circle cx="659.8" cy="354.9" r="0.8"/><circle cx="661.7" cy="361.3" r="0.8"/><circle cx="660.1" cy="361.2" r="0.8"/><circle cx="662.0" cy="374.0" r="0.8"/><circle cx="655.9" cy="366.4" r="0.8"/><circle cx="670.5" cy="351.9" r="0.8"/><circle cx="671.5" cy="362.1" r="0.8"/><circle cx="654.9" cy="369.1" r="0.8"/><circle cx="658.4" cy="360.4" r="0.8"/><circle cx="660.2" cy="344.3" r="0.8"/><circle cx="663.6" cy="335.2" r="0.8"/><circle cx="667.6" cy="356.7" r="0.8"/><circle cx="661.8" cy="349.8" r="0.8"/><circle cx="652.4" cy="351.2" r="0.8"/><circle cx="663.0" cy="340.6" r="0.8"/><circle cx="659.5" cy="361.5" r="0.8"/><circle cx="656.3" cy="371.5" r="0.8"/><circle cx="659.3" cy="372.4" r="0.8"/><circle cx="660.9" cy="364.7" r="0.8"/><circle cx="662.7" cy="318.1" r="0.8"/><circle cx="669.7" cy="364.3" r="0.8"/><circle cx="659.8" cy="332.7" r="0.8"/><circle cx="662.2" cy="312.5" r="0.8"/><circle cx="664.7" cy="364.0" r="0.8"/><circle cx="666.0" cy="375.9" r="0.8"/><circle cx="661.9" cy="371.9" r="0.8"/><circle cx="662.0" cy="364.7" r="0.8"/><circle cx="656.9" cy="365.3" r="0.8"/><circle cx="656.2" cy="356.6" r="0.8"/><circle cx="664.5" cy="356.9" r="0.8"/><circle cx="662.8" cy="358.7" r="0.8"/><circle cx="670.3" cy="364.1" r="0.8"/><circle cx="661.2" cy="369.4" r="0.8"/><circle cx="660.0" cy="377.7" r="0.8"/><circle cx="662.0" cy="315.4" r="0.8"/><circle cx="665.2" cy="371.5" r="0.8"/><circle cx="669.5" cy="372.9" r="0.8"/><circle cx="657.1" cy="367.7" r="0.8"/><circle cx="664.8" cy="366.8" r="0.8"/></g>
<g fill="#8a8a8a"><circle cx="557.2" cy="279" r="0.8"/><circle cx="559.0" cy="279.4" r="0.8"/><circle cx="561.0" cy="279" r="0.8"/><circle cx="563.0" cy="279.4" r="0.8"/><circle cx="558.2" cy="277.8" r="0.8"/><circle cx="562.0" cy="277.9" r="0.8"/></g>
<g stroke="#111" stroke-width="1.8" fill="none"><line x1="560.2" y1="282.7" x2="560.2" y2="333.4"/><line x1="560.2" y1="356.8" x2="560.2" y2="366.6"/><line x1="554.6" y1="282.7" x2="565.8000000000001" y2="282.7"/><line x1="554.6" y1="366.6" x2="565.8000000000001" y2="366.6"/><rect x="549.9000000000001" y="333.4" width="20.6" height="23.400000000000034"/><line x1="549.9000000000001" y1="348.9" x2="570.5" y2="348.9"/></g>
<g stroke="#ef4a9c" stroke-width="1.8" fill="none"><line x1="594.3" y1="326.3" x2="594.3" y2="344.6"/><line x1="594.3" y1="363" x2="594.3" y2="374.2"/><line x1="588.0" y1="326.3" x2="600.5999999999999" y2="326.3"/><line x1="588.0" y1="374.2" x2="600.5999999999999" y2="374.2"/><rect x="583.8" y="344.6" width="21.0" height="18.399999999999977"/><line x1="583.8" y1="354" x2="604.8" y2="354"/></g>
<g stroke="#111" stroke-width="1.8" fill="none"><line x1="628.1" y1="325.5" x2="628.1" y2="348.9"/><line x1="628.1" y1="360.7" x2="628.1" y2="368"/><line x1="622.5" y1="325.5" x2="633.7" y2="325.5"/><line x1="622.5" y1="368" x2="633.7" y2="368"/><rect x="617.6" y="348.9" width="21.0" height="11.800000000000011"/><line x1="617.6" y1="355" x2="638.6" y2="355"/></g>
<g stroke="#ef4a9c" stroke-width="1.8" fill="none"><line x1="662.7" y1="332" x2="662.7" y2="349.7"/><line x1="662.7" y1="364.4" x2="662.7" y2="374.2"/><line x1="657.1" y1="332" x2="668.3000000000001" y2="332"/><line x1="657.1" y1="374.2" x2="668.3000000000001" y2="374.2"/><rect x="652.2" y="349.7" width="21.0" height="14.699999999999989"/><line x1="652.2" y1="357.9" x2="673.2" y2="357.9"/></g>
</svg></body></html>
